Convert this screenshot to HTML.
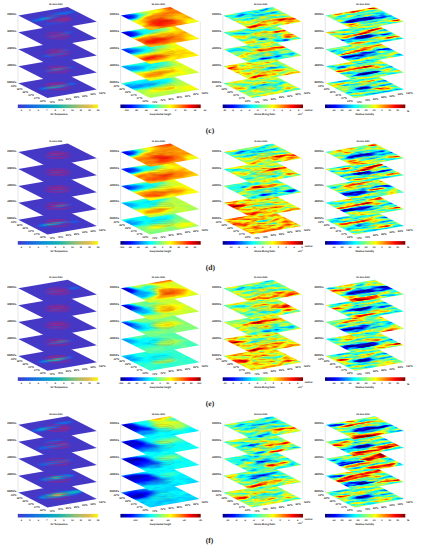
<!DOCTYPE html>
<html><head><meta charset="utf-8"><style>html,body{margin:0;padding:0;background:#fff;width:421px;height:550px;overflow:hidden;}svg{display:block;text-rendering:geometricPrecision;}</style></head>
<body><svg width="421" height="550" viewBox="0 0 421 550"><defs><clipPath id="uc"><rect x="0" y="0" width="100" height="100"/></clipPath><filter id="bo" filterUnits="userSpaceOnUse" x="-10" y="-10" width="120" height="120"><feGaussianBlur stdDeviation="2.5"/></filter><filter id="f00" filterUnits="userSpaceOnUse" x="-10" y="-10" width="120" height="120" color-interpolation-filters="sRGB"><feGaussianBlur in="SourceGraphic" stdDeviation="3" result="b"/><feTurbulence type="fractalNoise" baseFrequency="0.05 0.08" numOctaves="2" seed="1" result="n"/><feColorMatrix in="n" type="matrix" values="1 0 0 0 0 1 0 0 0 0 1 0 0 0 0 0 0 0 0 1" result="n2"/><feComposite in="b" in2="n2" operator="arithmetic" k1="0" k2="1" k3="0.05" k4="-0.025" result="s"/><feComponentTransfer in="s"><feFuncR type="table" tableValues="0.275 0.235 0.196 0.157 0.118 0.108 0.098 0.088 0.078 0.066 0.053 0.040 0.027 0.041 0.055 0.069 0.082 0.149 0.216 0.282 0.349 0.424 0.498 0.573 0.647 0.706 0.765 0.824 0.882 0.906 0.929 0.953 0.976"/><feFuncG type="table" tableValues="0.216 0.250 0.284 0.319 0.353 0.387 0.422 0.456 0.490 0.521 0.551 0.581 0.612 0.632 0.653 0.674 0.694 0.706 0.718 0.729 0.741 0.742 0.743 0.744 0.745 0.740 0.735 0.730 0.725 0.790 0.855 0.920 0.984"/><feFuncB type="table" tableValues="0.776 0.803 0.829 0.856 0.882 0.877 0.873 0.868 0.863 0.850 0.837 0.825 0.812 0.785 0.759 0.732 0.706 0.667 0.627 0.588 0.549 0.517 0.484 0.452 0.420 0.395 0.371 0.346 0.322 0.255 0.188 0.122 0.055"/></feComponentTransfer></filter><filter id="f01" filterUnits="userSpaceOnUse" x="-10" y="-10" width="120" height="120" color-interpolation-filters="sRGB"><feGaussianBlur in="SourceGraphic" stdDeviation="3" result="b"/><feTurbulence type="fractalNoise" baseFrequency="0.05 0.08" numOctaves="2" seed="4" result="n"/><feColorMatrix in="n" type="matrix" values="1 0 0 0 0 1 0 0 0 0 1 0 0 0 0 0 0 0 0 1" result="n2"/><feComposite in="b" in2="n2" operator="arithmetic" k1="0" k2="1" k3="0.05" k4="-0.025" result="s"/><feComponentTransfer in="s"><feFuncR type="table" tableValues="0.275 0.235 0.196 0.157 0.118 0.108 0.098 0.088 0.078 0.066 0.053 0.040 0.027 0.041 0.055 0.069 0.082 0.149 0.216 0.282 0.349 0.424 0.498 0.573 0.647 0.706 0.765 0.824 0.882 0.906 0.929 0.953 0.976"/><feFuncG type="table" tableValues="0.216 0.250 0.284 0.319 0.353 0.387 0.422 0.456 0.490 0.521 0.551 0.581 0.612 0.632 0.653 0.674 0.694 0.706 0.718 0.729 0.741 0.742 0.743 0.744 0.745 0.740 0.735 0.730 0.725 0.790 0.855 0.920 0.984"/><feFuncB type="table" tableValues="0.776 0.803 0.829 0.856 0.882 0.877 0.873 0.868 0.863 0.850 0.837 0.825 0.812 0.785 0.759 0.732 0.706 0.667 0.627 0.588 0.549 0.517 0.484 0.452 0.420 0.395 0.371 0.346 0.322 0.255 0.188 0.122 0.055"/></feComponentTransfer></filter><filter id="f02" filterUnits="userSpaceOnUse" x="-10" y="-10" width="120" height="120" color-interpolation-filters="sRGB"><feGaussianBlur in="SourceGraphic" stdDeviation="3" result="b"/><feTurbulence type="fractalNoise" baseFrequency="0.05 0.08" numOctaves="2" seed="7" result="n"/><feColorMatrix in="n" type="matrix" values="1 0 0 0 0 1 0 0 0 0 1 0 0 0 0 0 0 0 0 1" result="n2"/><feComposite in="b" in2="n2" operator="arithmetic" k1="0" k2="1" k3="0.05" k4="-0.025" result="s"/><feComponentTransfer in="s"><feFuncR type="table" tableValues="0.275 0.235 0.196 0.157 0.118 0.108 0.098 0.088 0.078 0.066 0.053 0.040 0.027 0.041 0.055 0.069 0.082 0.149 0.216 0.282 0.349 0.424 0.498 0.573 0.647 0.706 0.765 0.824 0.882 0.906 0.929 0.953 0.976"/><feFuncG type="table" tableValues="0.216 0.250 0.284 0.319 0.353 0.387 0.422 0.456 0.490 0.521 0.551 0.581 0.612 0.632 0.653 0.674 0.694 0.706 0.718 0.729 0.741 0.742 0.743 0.744 0.745 0.740 0.735 0.730 0.725 0.790 0.855 0.920 0.984"/><feFuncB type="table" tableValues="0.776 0.803 0.829 0.856 0.882 0.877 0.873 0.868 0.863 0.850 0.837 0.825 0.812 0.785 0.759 0.732 0.706 0.667 0.627 0.588 0.549 0.517 0.484 0.452 0.420 0.395 0.371 0.346 0.322 0.255 0.188 0.122 0.055"/></feComponentTransfer></filter><filter id="f10" filterUnits="userSpaceOnUse" x="-10" y="-10" width="120" height="120" color-interpolation-filters="sRGB"><feGaussianBlur in="SourceGraphic" stdDeviation="6" result="b"/><feTurbulence type="fractalNoise" baseFrequency="0.05 0.08" numOctaves="2" seed="8" result="n"/><feColorMatrix in="n" type="matrix" values="1 0 0 0 0 1 0 0 0 0 1 0 0 0 0 0 0 0 0 1" result="n2"/><feComposite in="b" in2="n2" operator="arithmetic" k1="0" k2="1" k3="0.1" k4="-0.05" result="s"/><feComponentTransfer in="s"><feFuncR type="table" tableValues="0.000 0.000 0.000 0.000 0.000 0.000 0.000 0.000 0.000 0.000 0.000 0.000 0.000 0.125 0.250 0.375 0.500 0.625 0.750 0.875 1.000 1.000 1.000 1.000 1.000 1.000 1.000 1.000 1.000 0.875 0.750 0.625 0.500"/><feFuncG type="table" tableValues="0.000 0.000 0.000 0.000 0.000 0.125 0.250 0.375 0.500 0.625 0.750 0.875 1.000 1.000 1.000 1.000 1.000 1.000 1.000 1.000 1.000 0.875 0.750 0.625 0.500 0.375 0.250 0.125 0.000 0.000 0.000 0.000 0.000"/><feFuncB type="table" tableValues="0.500 0.625 0.750 0.875 1.000 1.000 1.000 1.000 1.000 1.000 1.000 1.000 1.000 0.875 0.750 0.625 0.500 0.375 0.250 0.125 0.000 0.000 0.000 0.000 0.000 0.000 0.000 0.000 0.000 0.000 0.000 0.000 0.000"/></feComponentTransfer></filter><filter id="f11" filterUnits="userSpaceOnUse" x="-10" y="-10" width="120" height="120" color-interpolation-filters="sRGB"><feGaussianBlur in="SourceGraphic" stdDeviation="6" result="b"/><feTurbulence type="fractalNoise" baseFrequency="0.05 0.08" numOctaves="2" seed="11" result="n"/><feColorMatrix in="n" type="matrix" values="1 0 0 0 0 1 0 0 0 0 1 0 0 0 0 0 0 0 0 1" result="n2"/><feComposite in="b" in2="n2" operator="arithmetic" k1="0" k2="1" k3="0.1" k4="-0.05" result="s"/><feComponentTransfer in="s"><feFuncR type="table" tableValues="0.000 0.000 0.000 0.000 0.000 0.000 0.000 0.000 0.000 0.000 0.000 0.000 0.000 0.125 0.250 0.375 0.500 0.625 0.750 0.875 1.000 1.000 1.000 1.000 1.000 1.000 1.000 1.000 1.000 0.875 0.750 0.625 0.500"/><feFuncG type="table" tableValues="0.000 0.000 0.000 0.000 0.000 0.125 0.250 0.375 0.500 0.625 0.750 0.875 1.000 1.000 1.000 1.000 1.000 1.000 1.000 1.000 1.000 0.875 0.750 0.625 0.500 0.375 0.250 0.125 0.000 0.000 0.000 0.000 0.000"/><feFuncB type="table" tableValues="0.500 0.625 0.750 0.875 1.000 1.000 1.000 1.000 1.000 1.000 1.000 1.000 1.000 0.875 0.750 0.625 0.500 0.375 0.250 0.125 0.000 0.000 0.000 0.000 0.000 0.000 0.000 0.000 0.000 0.000 0.000 0.000 0.000"/></feComponentTransfer></filter><filter id="f12" filterUnits="userSpaceOnUse" x="-10" y="-10" width="120" height="120" color-interpolation-filters="sRGB"><feGaussianBlur in="SourceGraphic" stdDeviation="6" result="b"/><feTurbulence type="fractalNoise" baseFrequency="0.05 0.08" numOctaves="2" seed="14" result="n"/><feColorMatrix in="n" type="matrix" values="1 0 0 0 0 1 0 0 0 0 1 0 0 0 0 0 0 0 0 1" result="n2"/><feComposite in="b" in2="n2" operator="arithmetic" k1="0" k2="1" k3="0.1" k4="-0.05" result="s"/><feComponentTransfer in="s"><feFuncR type="table" tableValues="0.000 0.000 0.000 0.000 0.000 0.000 0.000 0.000 0.000 0.000 0.000 0.000 0.000 0.125 0.250 0.375 0.500 0.625 0.750 0.875 1.000 1.000 1.000 1.000 1.000 1.000 1.000 1.000 1.000 0.875 0.750 0.625 0.500"/><feFuncG type="table" tableValues="0.000 0.000 0.000 0.000 0.000 0.125 0.250 0.375 0.500 0.625 0.750 0.875 1.000 1.000 1.000 1.000 1.000 1.000 1.000 1.000 1.000 0.875 0.750 0.625 0.500 0.375 0.250 0.125 0.000 0.000 0.000 0.000 0.000"/><feFuncB type="table" tableValues="0.500 0.625 0.750 0.875 1.000 1.000 1.000 1.000 1.000 1.000 1.000 1.000 1.000 0.875 0.750 0.625 0.500 0.375 0.250 0.125 0.000 0.000 0.000 0.000 0.000 0.000 0.000 0.000 0.000 0.000 0.000 0.000 0.000"/></feComponentTransfer></filter><filter id="f20" filterUnits="userSpaceOnUse" x="-10" y="-10" width="120" height="120" color-interpolation-filters="sRGB"><feGaussianBlur in="SourceGraphic" stdDeviation="3" result="b"/><feTurbulence type="fractalNoise" baseFrequency="0.05 0.08" numOctaves="2" seed="15" result="n"/><feColorMatrix in="n" type="matrix" values="1 0 0 0 0 1 0 0 0 0 1 0 0 0 0 0 0 0 0 1" result="n2"/><feComposite in="b" in2="n2" operator="arithmetic" k1="0" k2="1" k3="0.6" k4="-0.3" result="s"/><feComponentTransfer in="s"><feFuncR type="table" tableValues="0.000 0.000 0.000 0.000 0.000 0.000 0.000 0.000 0.000 0.000 0.000 0.000 0.000 0.125 0.250 0.375 0.500 0.625 0.750 0.875 1.000 1.000 1.000 1.000 1.000 1.000 1.000 1.000 1.000 0.875 0.750 0.625 0.500"/><feFuncG type="table" tableValues="0.000 0.000 0.000 0.000 0.000 0.125 0.250 0.375 0.500 0.625 0.750 0.875 1.000 1.000 1.000 1.000 1.000 1.000 1.000 1.000 1.000 0.875 0.750 0.625 0.500 0.375 0.250 0.125 0.000 0.000 0.000 0.000 0.000"/><feFuncB type="table" tableValues="0.500 0.625 0.750 0.875 1.000 1.000 1.000 1.000 1.000 1.000 1.000 1.000 1.000 0.875 0.750 0.625 0.500 0.375 0.250 0.125 0.000 0.000 0.000 0.000 0.000 0.000 0.000 0.000 0.000 0.000 0.000 0.000 0.000"/></feComponentTransfer></filter><filter id="f21" filterUnits="userSpaceOnUse" x="-10" y="-10" width="120" height="120" color-interpolation-filters="sRGB"><feGaussianBlur in="SourceGraphic" stdDeviation="3" result="b"/><feTurbulence type="fractalNoise" baseFrequency="0.05 0.08" numOctaves="2" seed="18" result="n"/><feColorMatrix in="n" type="matrix" values="1 0 0 0 0 1 0 0 0 0 1 0 0 0 0 0 0 0 0 1" result="n2"/><feComposite in="b" in2="n2" operator="arithmetic" k1="0" k2="1" k3="0.6" k4="-0.3" result="s"/><feComponentTransfer in="s"><feFuncR type="table" tableValues="0.000 0.000 0.000 0.000 0.000 0.000 0.000 0.000 0.000 0.000 0.000 0.000 0.000 0.125 0.250 0.375 0.500 0.625 0.750 0.875 1.000 1.000 1.000 1.000 1.000 1.000 1.000 1.000 1.000 0.875 0.750 0.625 0.500"/><feFuncG type="table" tableValues="0.000 0.000 0.000 0.000 0.000 0.125 0.250 0.375 0.500 0.625 0.750 0.875 1.000 1.000 1.000 1.000 1.000 1.000 1.000 1.000 1.000 0.875 0.750 0.625 0.500 0.375 0.250 0.125 0.000 0.000 0.000 0.000 0.000"/><feFuncB type="table" tableValues="0.500 0.625 0.750 0.875 1.000 1.000 1.000 1.000 1.000 1.000 1.000 1.000 1.000 0.875 0.750 0.625 0.500 0.375 0.250 0.125 0.000 0.000 0.000 0.000 0.000 0.000 0.000 0.000 0.000 0.000 0.000 0.000 0.000"/></feComponentTransfer></filter><filter id="f22" filterUnits="userSpaceOnUse" x="-10" y="-10" width="120" height="120" color-interpolation-filters="sRGB"><feGaussianBlur in="SourceGraphic" stdDeviation="3" result="b"/><feTurbulence type="fractalNoise" baseFrequency="0.05 0.08" numOctaves="2" seed="21" result="n"/><feColorMatrix in="n" type="matrix" values="1 0 0 0 0 1 0 0 0 0 1 0 0 0 0 0 0 0 0 1" result="n2"/><feComposite in="b" in2="n2" operator="arithmetic" k1="0" k2="1" k3="0.6" k4="-0.3" result="s"/><feComponentTransfer in="s"><feFuncR type="table" tableValues="0.000 0.000 0.000 0.000 0.000 0.000 0.000 0.000 0.000 0.000 0.000 0.000 0.000 0.125 0.250 0.375 0.500 0.625 0.750 0.875 1.000 1.000 1.000 1.000 1.000 1.000 1.000 1.000 1.000 0.875 0.750 0.625 0.500"/><feFuncG type="table" tableValues="0.000 0.000 0.000 0.000 0.000 0.125 0.250 0.375 0.500 0.625 0.750 0.875 1.000 1.000 1.000 1.000 1.000 1.000 1.000 1.000 1.000 0.875 0.750 0.625 0.500 0.375 0.250 0.125 0.000 0.000 0.000 0.000 0.000"/><feFuncB type="table" tableValues="0.500 0.625 0.750 0.875 1.000 1.000 1.000 1.000 1.000 1.000 1.000 1.000 1.000 0.875 0.750 0.625 0.500 0.375 0.250 0.125 0.000 0.000 0.000 0.000 0.000 0.000 0.000 0.000 0.000 0.000 0.000 0.000 0.000"/></feComponentTransfer></filter><filter id="f30" filterUnits="userSpaceOnUse" x="-10" y="-10" width="120" height="120" color-interpolation-filters="sRGB"><feGaussianBlur in="SourceGraphic" stdDeviation="3" result="b"/><feTurbulence type="fractalNoise" baseFrequency="0.035 0.09" numOctaves="2" seed="22" result="n"/><feColorMatrix in="n" type="matrix" values="1 0 0 0 0 1 0 0 0 0 1 0 0 0 0 0 0 0 0 1" result="n2"/><feComposite in="b" in2="n2" operator="arithmetic" k1="0" k2="1" k3="0.8" k4="-0.4" result="s"/><feComponentTransfer in="s"><feFuncR type="table" tableValues="0.000 0.000 0.000 0.000 0.000 0.000 0.000 0.000 0.000 0.000 0.000 0.000 0.000 0.125 0.250 0.375 0.500 0.625 0.750 0.875 1.000 1.000 1.000 1.000 1.000 1.000 1.000 1.000 1.000 0.875 0.750 0.625 0.500"/><feFuncG type="table" tableValues="0.000 0.000 0.000 0.000 0.000 0.125 0.250 0.375 0.500 0.625 0.750 0.875 1.000 1.000 1.000 1.000 1.000 1.000 1.000 1.000 1.000 0.875 0.750 0.625 0.500 0.375 0.250 0.125 0.000 0.000 0.000 0.000 0.000"/><feFuncB type="table" tableValues="0.500 0.625 0.750 0.875 1.000 1.000 1.000 1.000 1.000 1.000 1.000 1.000 1.000 0.875 0.750 0.625 0.500 0.375 0.250 0.125 0.000 0.000 0.000 0.000 0.000 0.000 0.000 0.000 0.000 0.000 0.000 0.000 0.000"/></feComponentTransfer></filter><filter id="f31" filterUnits="userSpaceOnUse" x="-10" y="-10" width="120" height="120" color-interpolation-filters="sRGB"><feGaussianBlur in="SourceGraphic" stdDeviation="3" result="b"/><feTurbulence type="fractalNoise" baseFrequency="0.035 0.09" numOctaves="2" seed="25" result="n"/><feColorMatrix in="n" type="matrix" values="1 0 0 0 0 1 0 0 0 0 1 0 0 0 0 0 0 0 0 1" result="n2"/><feComposite in="b" in2="n2" operator="arithmetic" k1="0" k2="1" k3="0.8" k4="-0.4" result="s"/><feComponentTransfer in="s"><feFuncR type="table" tableValues="0.000 0.000 0.000 0.000 0.000 0.000 0.000 0.000 0.000 0.000 0.000 0.000 0.000 0.125 0.250 0.375 0.500 0.625 0.750 0.875 1.000 1.000 1.000 1.000 1.000 1.000 1.000 1.000 1.000 0.875 0.750 0.625 0.500"/><feFuncG type="table" tableValues="0.000 0.000 0.000 0.000 0.000 0.125 0.250 0.375 0.500 0.625 0.750 0.875 1.000 1.000 1.000 1.000 1.000 1.000 1.000 1.000 1.000 0.875 0.750 0.625 0.500 0.375 0.250 0.125 0.000 0.000 0.000 0.000 0.000"/><feFuncB type="table" tableValues="0.500 0.625 0.750 0.875 1.000 1.000 1.000 1.000 1.000 1.000 1.000 1.000 1.000 0.875 0.750 0.625 0.500 0.375 0.250 0.125 0.000 0.000 0.000 0.000 0.000 0.000 0.000 0.000 0.000 0.000 0.000 0.000 0.000"/></feComponentTransfer></filter><filter id="f32" filterUnits="userSpaceOnUse" x="-10" y="-10" width="120" height="120" color-interpolation-filters="sRGB"><feGaussianBlur in="SourceGraphic" stdDeviation="3" result="b"/><feTurbulence type="fractalNoise" baseFrequency="0.035 0.09" numOctaves="2" seed="28" result="n"/><feColorMatrix in="n" type="matrix" values="1 0 0 0 0 1 0 0 0 0 1 0 0 0 0 0 0 0 0 1" result="n2"/><feComposite in="b" in2="n2" operator="arithmetic" k1="0" k2="1" k3="0.8" k4="-0.4" result="s"/><feComponentTransfer in="s"><feFuncR type="table" tableValues="0.000 0.000 0.000 0.000 0.000 0.000 0.000 0.000 0.000 0.000 0.000 0.000 0.000 0.125 0.250 0.375 0.500 0.625 0.750 0.875 1.000 1.000 1.000 1.000 1.000 1.000 1.000 1.000 1.000 0.875 0.750 0.625 0.500"/><feFuncG type="table" tableValues="0.000 0.000 0.000 0.000 0.000 0.125 0.250 0.375 0.500 0.625 0.750 0.875 1.000 1.000 1.000 1.000 1.000 1.000 1.000 1.000 1.000 0.875 0.750 0.625 0.500 0.375 0.250 0.125 0.000 0.000 0.000 0.000 0.000"/><feFuncB type="table" tableValues="0.500 0.625 0.750 0.875 1.000 1.000 1.000 1.000 1.000 1.000 1.000 1.000 1.000 0.875 0.750 0.625 0.500 0.375 0.250 0.125 0.000 0.000 0.000 0.000 0.000 0.000 0.000 0.000 0.000 0.000 0.000 0.000 0.000"/></feComponentTransfer></filter><linearGradient id="par"><stop offset="0.0" stop-color="rgb(70, 55, 198)"/><stop offset="0.125" stop-color="rgb(30, 90, 225)"/><stop offset="0.25" stop-color="rgb(20, 125, 220)"/><stop offset="0.375" stop-color="rgb(7, 156, 207)"/><stop offset="0.5" stop-color="rgb(21, 177, 180)"/><stop offset="0.625" stop-color="rgb(89, 189, 140)"/><stop offset="0.75" stop-color="rgb(165, 190, 107)"/><stop offset="0.875" stop-color="rgb(225, 185, 82)"/><stop offset="1.0" stop-color="rgb(249, 251, 14)"/></linearGradient><linearGradient id="jet"><stop offset="0.0000" stop-color="rgb(0,0,127)"/><stop offset="0.0625" stop-color="rgb(0,0,191)"/><stop offset="0.1250" stop-color="rgb(0,0,255)"/><stop offset="0.1875" stop-color="rgb(0,63,255)"/><stop offset="0.2500" stop-color="rgb(0,127,255)"/><stop offset="0.3125" stop-color="rgb(0,191,255)"/><stop offset="0.3750" stop-color="rgb(0,255,255)"/><stop offset="0.4375" stop-color="rgb(63,255,191)"/><stop offset="0.5000" stop-color="rgb(127,255,127)"/><stop offset="0.5625" stop-color="rgb(191,255,63)"/><stop offset="0.6250" stop-color="rgb(255,255,0)"/><stop offset="0.6875" stop-color="rgb(255,191,0)"/><stop offset="0.7500" stop-color="rgb(255,127,0)"/><stop offset="0.8125" stop-color="rgb(255,63,0)"/><stop offset="0.8750" stop-color="rgb(255,0,0)"/><stop offset="0.9375" stop-color="rgb(191,0,0)"/><stop offset="1.0000" stop-color="rgb(127,0,0)"/></linearGradient></defs><line x1="18.00" y1="15.40" x2="18.00" y2="83.20" stroke="#c8c8c8" stroke-width="0.5"/><line x1="97.70" y1="21.70" x2="97.70" y2="89.50" stroke="#d0d0d0" stroke-width="0.5"/><g transform="matrix(0.4940,-0.0850,0.2910,0.1480,18.30,83.20)"><g clip-path="url(#uc)"><g filter="url(#f01)"><rect x="-15" y="-15" width="130" height="130" fill="#000000"/><ellipse cx="45.5" cy="50.2" rx="32" ry="8" fill="#404040"/><ellipse cx="45.5" cy="50.2" rx="18" ry="6" fill="#878787"/><ellipse cx="74.7" cy="49.3" rx="13" ry="6" fill="#303030"/></g><g filter="url(#bo)"><ellipse cx="51.5" cy="40.0" rx="20" ry="12" fill="#b02070" fill-opacity="0.35"/></g></g></g><path transform="translate(18.30,83.60)" d="M 26.5,2.6 C 28,-0.2 36,-1 42,-0.6 C 48,-0.3 52.5,1.2 52,3.2 C 51.5,5.2 45,6.6 38,6.3 C 31,6 26,4.8 26.5,2.6 Z M 30,1.3 C 37,0.8 44,1.2 50,2.2 M 28.5,3.4 C 36,3 44,3.2 51,3.8 M 31,5.1 C 37,4.9 43,5.1 48,5.3" fill="none" stroke="#b82070" stroke-width="0.75" stroke-opacity="0.6"/><g transform="matrix(0.4940,-0.0850,0.2910,0.1480,18.30,66.25)"><g clip-path="url(#uc)"><g filter="url(#f00)"><rect x="-15" y="-15" width="130" height="130" fill="#000000"/><ellipse cx="51.9" cy="49.8" rx="27" ry="7" fill="#383838"/><ellipse cx="50.4" cy="48.9" rx="9" ry="5" fill="#737373"/></g><g filter="url(#bo)"><ellipse cx="53.7" cy="46.7" rx="18" ry="10" fill="#b02070" fill-opacity="0.4"/></g></g></g><path transform="translate(18.30,66.65)" d="M 26.5,2.6 C 28,-0.2 36,-1 42,-0.6 C 48,-0.3 52.5,1.2 52,3.2 C 51.5,5.2 45,6.6 38,6.3 C 31,6 26,4.8 26.5,2.6 Z M 30,1.3 C 37,0.8 44,1.2 50,2.2 M 28.5,3.4 C 36,3 44,3.2 51,3.8 M 31,5.1 C 37,4.9 43,5.1 48,5.3" fill="none" stroke="#b82070" stroke-width="0.75" stroke-opacity="0.6"/><g transform="matrix(0.4940,-0.0850,0.2910,0.1480,18.30,49.30)"><g clip-path="url(#uc)"><g filter="url(#f02)"><rect x="-15" y="-15" width="130" height="130" fill="#000000"/><ellipse cx="40.7" cy="58.3" rx="25" ry="7" fill="#2e2e2e"/><ellipse cx="64.9" cy="44.9" rx="11" ry="6" fill="#262626"/></g><g filter="url(#bo)"><ellipse cx="51.6" cy="46.8" rx="16" ry="9" fill="#b02070" fill-opacity="0.45"/></g></g></g><path transform="translate(18.30,49.70)" d="M 26.5,2.6 C 28,-0.2 36,-1 42,-0.6 C 48,-0.3 52.5,1.2 52,3.2 C 51.5,5.2 45,6.6 38,6.3 C 31,6 26,4.8 26.5,2.6 Z M 30,1.3 C 37,0.8 44,1.2 50,2.2 M 28.5,3.4 C 36,3 44,3.2 51,3.8 M 31,5.1 C 37,4.9 43,5.1 48,5.3" fill="none" stroke="#b82070" stroke-width="0.75" stroke-opacity="0.6"/><g transform="matrix(0.4940,-0.0850,0.2910,0.1480,18.30,32.35)"><g clip-path="url(#uc)"><g filter="url(#f01)"><rect x="-15" y="-15" width="130" height="130" fill="#000000"/><ellipse cx="50.7" cy="51.7" rx="23" ry="6" fill="#262626"/><ellipse cx="69.8" cy="43.6" rx="13" ry="6" fill="#262626"/></g><g filter="url(#bo)"><ellipse cx="51.9" cy="49.7" rx="16" ry="9" fill="#b02070" fill-opacity="0.45"/></g></g></g><path transform="translate(18.30,32.75)" d="M 26.5,2.6 C 28,-0.2 36,-1 42,-0.6 C 48,-0.3 52.5,1.2 52,3.2 C 51.5,5.2 45,6.6 38,6.3 C 31,6 26,4.8 26.5,2.6 Z M 30,1.3 C 37,0.8 44,1.2 50,2.2 M 28.5,3.4 C 36,3 44,3.2 51,3.8 M 31,5.1 C 37,4.9 43,5.1 48,5.3" fill="none" stroke="#b82070" stroke-width="0.75" stroke-opacity="0.6"/><g transform="matrix(0.4940,-0.0850,0.2910,0.1480,18.30,15.40)"><g clip-path="url(#uc)"><g filter="url(#f00)"><rect x="-15" y="-15" width="130" height="130" fill="#000000"/><ellipse cx="29.4" cy="39.4" rx="29" ry="7" fill="#333333" transform="rotate(-4 29.4 39.4)"/><ellipse cx="72.5" cy="28.7" rx="27" ry="7" fill="#2e2e2e"/><ellipse cx="34.2" cy="69.4" rx="23" ry="6" fill="#1a1a1a"/><ellipse cx="31.5" cy="39.2" rx="10" ry="5" fill="#666666"/></g><g filter="url(#bo)"><ellipse cx="56.0" cy="60.1" rx="16" ry="10" fill="#b02070" fill-opacity="0.45"/></g></g></g><path transform="translate(18.30,15.80)" d="M 26.5,2.6 C 28,-0.2 36,-1 42,-0.6 C 48,-0.3 52.5,1.2 52,3.2 C 51.5,5.2 45,6.6 38,6.3 C 31,6 26,4.8 26.5,2.6 Z M 30,1.3 C 37,0.8 44,1.2 50,2.2 M 28.5,3.4 C 36,3 44,3.2 51,3.8 M 31,5.1 C 37,4.9 43,5.1 48,5.3" fill="none" stroke="#b82070" stroke-width="0.75" stroke-opacity="0.6"/><rect x="17.80" y="104.50" width="80.30" height="3.6" fill="url(#par)"/><text x="55.80" y="5.10" fill="#3a3a3a" stroke="#3a3a3a" stroke-width="0.1" font-family="Liberation Sans" font-size="2.2" text-anchor="middle">30 June 2020</text><text x="16.30" y="15.00" fill="#3a3a3a" stroke="#3a3a3a" stroke-width="0.1" font-family="Liberation Sans" font-size="2.65" text-anchor="end">200hPa</text><text x="16.30" y="31.95" fill="#3a3a3a" stroke="#3a3a3a" stroke-width="0.1" font-family="Liberation Sans" font-size="2.65" text-anchor="end">300hPa</text><text x="16.30" y="48.90" fill="#3a3a3a" stroke="#3a3a3a" stroke-width="0.1" font-family="Liberation Sans" font-size="2.65" text-anchor="end">400hPa</text><text x="16.30" y="65.85" fill="#3a3a3a" stroke="#3a3a3a" stroke-width="0.1" font-family="Liberation Sans" font-size="2.65" text-anchor="end">450hPa</text><text x="16.30" y="82.80" fill="#3a3a3a" stroke="#3a3a3a" stroke-width="0.1" font-family="Liberation Sans" font-size="2.65" text-anchor="end">500hPa</text><text x="16.40" y="86.70" fill="#3a3a3a" stroke="#3a3a3a" stroke-width="0.1" font-family="Liberation Sans" font-size="2.5" text-anchor="end">43°N</text><text x="22.22" y="89.66" fill="#3a3a3a" stroke="#3a3a3a" stroke-width="0.1" font-family="Liberation Sans" font-size="2.5" text-anchor="end">39°N</text><text x="28.04" y="92.62" fill="#3a3a3a" stroke="#3a3a3a" stroke-width="0.1" font-family="Liberation Sans" font-size="2.5" text-anchor="end">35°N</text><text x="33.86" y="95.58" fill="#3a3a3a" stroke="#3a3a3a" stroke-width="0.1" font-family="Liberation Sans" font-size="2.5" text-anchor="end">31°N</text><text x="39.68" y="98.54" fill="#3a3a3a" stroke="#3a3a3a" stroke-width="0.1" font-family="Liberation Sans" font-size="2.5" text-anchor="end">27°N</text><text x="45.50" y="101.50" fill="#3a3a3a" stroke="#3a3a3a" stroke-width="0.1" font-family="Liberation Sans" font-size="2.5" text-anchor="end">23°N</text><text x="49.40" y="102.50" fill="#3a3a3a" stroke="#3a3a3a" stroke-width="0.1" font-family="Liberation Sans" font-size="2.5">70°E</text><text x="57.63" y="101.08" fill="#3a3a3a" stroke="#3a3a3a" stroke-width="0.1" font-family="Liberation Sans" font-size="2.5">75°E</text><text x="65.87" y="99.67" fill="#3a3a3a" stroke="#3a3a3a" stroke-width="0.1" font-family="Liberation Sans" font-size="2.5">80°E</text><text x="74.10" y="98.25" fill="#3a3a3a" stroke="#3a3a3a" stroke-width="0.1" font-family="Liberation Sans" font-size="2.5">85°E</text><text x="82.33" y="96.83" fill="#3a3a3a" stroke="#3a3a3a" stroke-width="0.1" font-family="Liberation Sans" font-size="2.5">90°E</text><text x="90.57" y="95.42" fill="#3a3a3a" stroke="#3a3a3a" stroke-width="0.1" font-family="Liberation Sans" font-size="2.5">95°E</text><text x="98.80" y="94.00" fill="#3a3a3a" stroke="#3a3a3a" stroke-width="0.1" font-family="Liberation Sans" font-size="2.5">100°E</text><text x="21.40" y="111.10" fill="#3a3a3a" stroke="#3a3a3a" stroke-width="0.1" font-family="Liberation Sans" font-size="2.2" text-anchor="middle">4</text><text x="29.90" y="111.10" fill="#3a3a3a" stroke="#3a3a3a" stroke-width="0.1" font-family="Liberation Sans" font-size="2.2" text-anchor="middle">5</text><text x="38.40" y="111.10" fill="#3a3a3a" stroke="#3a3a3a" stroke-width="0.1" font-family="Liberation Sans" font-size="2.2" text-anchor="middle">6</text><text x="46.90" y="111.10" fill="#3a3a3a" stroke="#3a3a3a" stroke-width="0.1" font-family="Liberation Sans" font-size="2.2" text-anchor="middle">7</text><text x="55.40" y="111.10" fill="#3a3a3a" stroke="#3a3a3a" stroke-width="0.1" font-family="Liberation Sans" font-size="2.2" text-anchor="middle">8</text><text x="63.90" y="111.10" fill="#3a3a3a" stroke="#3a3a3a" stroke-width="0.1" font-family="Liberation Sans" font-size="2.2" text-anchor="middle">9</text><text x="72.40" y="111.10" fill="#3a3a3a" stroke="#3a3a3a" stroke-width="0.1" font-family="Liberation Sans" font-size="2.2" text-anchor="middle">10</text><text x="80.90" y="111.10" fill="#3a3a3a" stroke="#3a3a3a" stroke-width="0.1" font-family="Liberation Sans" font-size="2.2" text-anchor="middle">11</text><text x="89.40" y="111.10" fill="#3a3a3a" stroke="#3a3a3a" stroke-width="0.1" font-family="Liberation Sans" font-size="2.2" text-anchor="middle">12</text><text x="97.90" y="111.10" fill="#3a3a3a" stroke="#3a3a3a" stroke-width="0.1" font-family="Liberation Sans" font-size="2.2" text-anchor="middle">13</text><text x="59.10" y="115.20" fill="#3a3a3a" stroke="#3a3a3a" stroke-width="0.1" font-family="Liberation Sans" font-size="2.4" text-anchor="middle">Air Temperature</text><line x1="120.60" y1="15.40" x2="120.60" y2="83.20" stroke="#c8c8c8" stroke-width="0.5"/><line x1="200.30" y1="21.70" x2="200.30" y2="89.50" stroke="#d0d0d0" stroke-width="0.5"/><g transform="matrix(0.4940,-0.0850,0.2910,0.1480,120.90,83.20)"><g clip-path="url(#uc)"><g filter="url(#f11)"><rect x="-15" y="-15" width="130" height="130" fill="#8c8c8c"/><ellipse cx="33.7" cy="23.0" rx="58" ry="25" fill="#5e5e5e"/><ellipse cx="20.4" cy="31.7" rx="35" ry="14" fill="#454545"/><ellipse cx="0.3" cy="24.3" rx="18" ry="20" fill="#454545"/><ellipse cx="91.9" cy="83.7" rx="20" ry="18" fill="#9e9e9e"/><ellipse cx="40.1" cy="67.6" rx="24" ry="14" fill="#9e9e9e"/><ellipse cx="58.7" cy="67.4" rx="16" ry="10" fill="#adadad"/></g></g></g><path transform="translate(122.40,83.60)" d="M 26.5,2.6 C 28,-0.2 36,-1 42,-0.6 C 48,-0.3 52.5,1.2 52,3.2 C 51.5,5.2 45,6.6 38,6.3 C 31,6 26,4.8 26.5,2.6 Z M 30,1.3 C 37,0.8 44,1.2 50,2.2 M 28.5,3.4 C 36,3 44,3.2 51,3.8 M 31,5.1 C 37,4.9 43,5.1 48,5.3" fill="none" stroke="#7a4030" stroke-width="0.35" stroke-opacity="0.45"/><g transform="matrix(0.4940,-0.0850,0.2910,0.1480,120.90,66.25)"><g clip-path="url(#uc)"><g filter="url(#f10)"><rect x="-15" y="-15" width="130" height="130" fill="#999999"/><ellipse cx="32.8" cy="21.1" rx="52" ry="24" fill="#5e5e5e"/><ellipse cx="48.7" cy="67.0" rx="28" ry="14" fill="#adadad"/><ellipse cx="24.1" cy="70.6" rx="24" ry="14" fill="#bfbfbf"/><ellipse cx="13.1" cy="23.4" rx="22" ry="15" fill="#454545"/><ellipse cx="3.2" cy="10.9" rx="14" ry="22" fill="#454545"/><ellipse cx="69.1" cy="32.3" rx="22" ry="10" fill="#707070"/></g></g></g><path transform="translate(122.40,66.65)" d="M 26.5,2.6 C 28,-0.2 36,-1 42,-0.6 C 48,-0.3 52.5,1.2 52,3.2 C 51.5,5.2 45,6.6 38,6.3 C 31,6 26,4.8 26.5,2.6 Z M 30,1.3 C 37,0.8 44,1.2 50,2.2 M 28.5,3.4 C 36,3 44,3.2 51,3.8 M 31,5.1 C 37,4.9 43,5.1 48,5.3" fill="none" stroke="#7a4030" stroke-width="0.35" stroke-opacity="0.45"/><g transform="matrix(0.4940,-0.0850,0.2910,0.1480,120.90,49.30)"><g clip-path="url(#uc)"><g filter="url(#f12)"><rect x="-15" y="-15" width="130" height="130" fill="#a3a3a3"/><ellipse cx="32.2" cy="22.0" rx="48" ry="20" fill="#5e5e5e"/><ellipse cx="30.5" cy="70.1" rx="35" ry="15" fill="#bfbfbf"/><ellipse cx="15.2" cy="16.3" rx="18" ry="22" fill="#454545"/><ellipse cx="70.3" cy="68.4" rx="22" ry="14" fill="#adadad"/><ellipse cx="18.9" cy="69.0" rx="24" ry="12" fill="#d9d9d9"/><ellipse cx="1.1" cy="12.4" rx="12" ry="22" fill="#262626"/><ellipse cx="70.3" cy="30.3" rx="25" ry="10" fill="#8f8f8f"/></g></g></g><path transform="translate(122.40,49.70)" d="M 26.5,2.6 C 28,-0.2 36,-1 42,-0.6 C 48,-0.3 52.5,1.2 52,3.2 C 51.5,5.2 45,6.6 38,6.3 C 31,6 26,4.8 26.5,2.6 Z M 30,1.3 C 37,0.8 44,1.2 50,2.2 M 28.5,3.4 C 36,3 44,3.2 51,3.8 M 31,5.1 C 37,4.9 43,5.1 48,5.3" fill="none" stroke="#7a4030" stroke-width="0.35" stroke-opacity="0.45"/><g transform="matrix(0.4940,-0.0850,0.2910,0.1480,120.90,32.35)"><g clip-path="url(#uc)"><g filter="url(#f11)"><rect x="-15" y="-15" width="130" height="130" fill="#b0b0b0"/><ellipse cx="35.3" cy="16.9" rx="42" ry="18" fill="#5e5e5e"/><ellipse cx="60.0" cy="72.0" rx="28" ry="20" fill="#bfbfbf"/><ellipse cx="18.0" cy="60.2" rx="25" ry="20" fill="#bfbfbf"/><ellipse cx="28.1" cy="74.2" rx="28" ry="16" fill="#d9d9d9"/><ellipse cx="12.5" cy="16.1" rx="14" ry="22" fill="#262626"/><ellipse cx="-0.3" cy="12.8" rx="12" ry="25" fill="#0f0f0f"/><ellipse cx="93.9" cy="87.4" rx="15" ry="15" fill="#9e9e9e"/><ellipse cx="67.8" cy="20.6" rx="22" ry="10" fill="#707070"/><ellipse cx="75.2" cy="35.8" rx="20" ry="10" fill="#9e9e9e"/></g></g></g><path transform="translate(122.40,32.75)" d="M 26.5,2.6 C 28,-0.2 36,-1 42,-0.6 C 48,-0.3 52.5,1.2 52,3.2 C 51.5,5.2 45,6.6 38,6.3 C 31,6 26,4.8 26.5,2.6 Z M 30,1.3 C 37,0.8 44,1.2 50,2.2 M 28.5,3.4 C 36,3 44,3.2 51,3.8 M 31,5.1 C 37,4.9 43,5.1 48,5.3" fill="none" stroke="#7a4030" stroke-width="0.35" stroke-opacity="0.45"/><g transform="matrix(0.4940,-0.0850,0.2910,0.1480,120.90,15.40)"><g clip-path="url(#uc)"><g filter="url(#f10)"><rect x="-15" y="-15" width="130" height="130" fill="#bfbfbf"/><ellipse cx="40.0" cy="71.4" rx="28" ry="22" fill="#d9d9d9"/><ellipse cx="-1.2" cy="54.5" rx="20" ry="18" fill="#9e9e9e"/><ellipse cx="0.9" cy="9.4" rx="12" ry="25" fill="#0f0f0f"/><ellipse cx="82.1" cy="58.8" rx="20" ry="15" fill="#adadad"/><ellipse cx="90.3" cy="93.5" rx="18" ry="16" fill="#9e9e9e"/><ellipse cx="31.6" cy="9.3" rx="18" ry="15" fill="#5e5e5e"/><ellipse cx="13.4" cy="12.4" rx="12" ry="22" fill="#262626"/><ellipse cx="3.3" cy="88.5" rx="18" ry="12" fill="#adadad"/><ellipse cx="66.6" cy="8.9" rx="20" ry="10" fill="#9e9e9e"/><ellipse cx="51.3" cy="7.0" rx="18" ry="10" fill="#8f8f8f"/><ellipse cx="95.7" cy="1.1" rx="14" ry="8" fill="#d9d9d9"/></g></g></g><path transform="translate(122.40,15.80)" d="M 26.5,2.6 C 28,-0.2 36,-1 42,-0.6 C 48,-0.3 52.5,1.2 52,3.2 C 51.5,5.2 45,6.6 38,6.3 C 31,6 26,4.8 26.5,2.6 Z M 30,1.3 C 37,0.8 44,1.2 50,2.2 M 28.5,3.4 C 36,3 44,3.2 51,3.8 M 31,5.1 C 37,4.9 43,5.1 48,5.3" fill="none" stroke="#7a4030" stroke-width="0.35" stroke-opacity="0.45"/><rect x="120.40" y="104.50" width="80.30" height="3.6" fill="url(#jet)"/><text x="158.40" y="5.10" fill="#3a3a3a" stroke="#3a3a3a" stroke-width="0.1" font-family="Liberation Sans" font-size="2.2" text-anchor="middle">30 June 2020</text><text x="118.90" y="15.00" fill="#3a3a3a" stroke="#3a3a3a" stroke-width="0.1" font-family="Liberation Sans" font-size="2.65" text-anchor="end">200hPa</text><text x="118.90" y="31.95" fill="#3a3a3a" stroke="#3a3a3a" stroke-width="0.1" font-family="Liberation Sans" font-size="2.65" text-anchor="end">300hPa</text><text x="118.90" y="48.90" fill="#3a3a3a" stroke="#3a3a3a" stroke-width="0.1" font-family="Liberation Sans" font-size="2.65" text-anchor="end">400hPa</text><text x="118.90" y="65.85" fill="#3a3a3a" stroke="#3a3a3a" stroke-width="0.1" font-family="Liberation Sans" font-size="2.65" text-anchor="end">450hPa</text><text x="118.90" y="82.80" fill="#3a3a3a" stroke="#3a3a3a" stroke-width="0.1" font-family="Liberation Sans" font-size="2.65" text-anchor="end">500hPa</text><text x="119.00" y="86.70" fill="#3a3a3a" stroke="#3a3a3a" stroke-width="0.1" font-family="Liberation Sans" font-size="2.5" text-anchor="end">43°N</text><text x="124.82" y="89.66" fill="#3a3a3a" stroke="#3a3a3a" stroke-width="0.1" font-family="Liberation Sans" font-size="2.5" text-anchor="end">39°N</text><text x="130.64" y="92.62" fill="#3a3a3a" stroke="#3a3a3a" stroke-width="0.1" font-family="Liberation Sans" font-size="2.5" text-anchor="end">35°N</text><text x="136.46" y="95.58" fill="#3a3a3a" stroke="#3a3a3a" stroke-width="0.1" font-family="Liberation Sans" font-size="2.5" text-anchor="end">31°N</text><text x="142.28" y="98.54" fill="#3a3a3a" stroke="#3a3a3a" stroke-width="0.1" font-family="Liberation Sans" font-size="2.5" text-anchor="end">27°N</text><text x="148.10" y="101.50" fill="#3a3a3a" stroke="#3a3a3a" stroke-width="0.1" font-family="Liberation Sans" font-size="2.5" text-anchor="end">23°N</text><text x="152.00" y="102.50" fill="#3a3a3a" stroke="#3a3a3a" stroke-width="0.1" font-family="Liberation Sans" font-size="2.5">70°E</text><text x="160.23" y="101.08" fill="#3a3a3a" stroke="#3a3a3a" stroke-width="0.1" font-family="Liberation Sans" font-size="2.5">75°E</text><text x="168.47" y="99.67" fill="#3a3a3a" stroke="#3a3a3a" stroke-width="0.1" font-family="Liberation Sans" font-size="2.5">80°E</text><text x="176.70" y="98.25" fill="#3a3a3a" stroke="#3a3a3a" stroke-width="0.1" font-family="Liberation Sans" font-size="2.5">85°E</text><text x="184.93" y="96.83" fill="#3a3a3a" stroke="#3a3a3a" stroke-width="0.1" font-family="Liberation Sans" font-size="2.5">90°E</text><text x="193.17" y="95.42" fill="#3a3a3a" stroke="#3a3a3a" stroke-width="0.1" font-family="Liberation Sans" font-size="2.5">95°E</text><text x="201.40" y="94.00" fill="#3a3a3a" stroke="#3a3a3a" stroke-width="0.1" font-family="Liberation Sans" font-size="2.5">100°E</text><text x="126.50" y="111.10" fill="#3a3a3a" stroke="#3a3a3a" stroke-width="0.1" font-family="Liberation Sans" font-size="2.2" text-anchor="middle">-100</text><text x="136.30" y="111.10" fill="#3a3a3a" stroke="#3a3a3a" stroke-width="0.1" font-family="Liberation Sans" font-size="2.2" text-anchor="middle">-80</text><text x="146.10" y="111.10" fill="#3a3a3a" stroke="#3a3a3a" stroke-width="0.1" font-family="Liberation Sans" font-size="2.2" text-anchor="middle">-60</text><text x="155.90" y="111.10" fill="#3a3a3a" stroke="#3a3a3a" stroke-width="0.1" font-family="Liberation Sans" font-size="2.2" text-anchor="middle">-40</text><text x="165.70" y="111.10" fill="#3a3a3a" stroke="#3a3a3a" stroke-width="0.1" font-family="Liberation Sans" font-size="2.2" text-anchor="middle">-20</text><text x="175.50" y="111.10" fill="#3a3a3a" stroke="#3a3a3a" stroke-width="0.1" font-family="Liberation Sans" font-size="2.2" text-anchor="middle">0</text><text x="185.30" y="111.10" fill="#3a3a3a" stroke="#3a3a3a" stroke-width="0.1" font-family="Liberation Sans" font-size="2.2" text-anchor="middle">20</text><text x="195.10" y="111.10" fill="#3a3a3a" stroke="#3a3a3a" stroke-width="0.1" font-family="Liberation Sans" font-size="2.2" text-anchor="middle">40</text><text x="204.90" y="111.10" fill="#3a3a3a" stroke="#3a3a3a" stroke-width="0.1" font-family="Liberation Sans" font-size="2.2" text-anchor="middle">60</text><text x="160.40" y="115.20" fill="#3a3a3a" stroke="#3a3a3a" stroke-width="0.1" font-family="Liberation Sans" font-size="2.4" text-anchor="middle">Geopotential Height</text><line x1="222.90" y1="15.40" x2="222.90" y2="83.20" stroke="#c8c8c8" stroke-width="0.5"/><line x1="302.60" y1="21.70" x2="302.60" y2="89.50" stroke="#d0d0d0" stroke-width="0.5"/><g transform="matrix(0.4940,-0.0850,0.2910,0.1480,223.20,83.20)"><g clip-path="url(#uc)"><g filter="url(#f21)"><rect x="-15" y="-15" width="130" height="130" fill="#878787"/><ellipse cx="63.8" cy="47.1" rx="40" ry="8" fill="#616161"/><ellipse cx="-0.4" cy="41.6" rx="20" ry="6" fill="#c2c2c2"/><ellipse cx="88.4" cy="81.7" rx="15" ry="6" fill="#a1a1a1"/></g></g></g><path transform="translate(224.70,83.60)" d="M 26.5,2.6 C 28,-0.2 36,-1 42,-0.6 C 48,-0.3 52.5,1.2 52,3.2 C 51.5,5.2 45,6.6 38,6.3 C 31,6 26,4.8 26.5,2.6 Z M 30,1.3 C 37,0.8 44,1.2 50,2.2 M 28.5,3.4 C 36,3 44,3.2 51,3.8 M 31,5.1 C 37,4.9 43,5.1 48,5.3" fill="none" stroke="#7a4030" stroke-width="0.35" stroke-opacity="0.45"/><g transform="matrix(0.4940,-0.0850,0.2910,0.1480,223.20,66.25)"><g clip-path="url(#uc)"><g filter="url(#f20)"><rect x="-15" y="-15" width="130" height="130" fill="#949494"/><ellipse cx="49.1" cy="23.6" rx="30" ry="6" fill="#a1a1a1"/><ellipse cx="70.6" cy="49.6" rx="25" ry="6" fill="#545454"/><ellipse cx="34.0" cy="80.4" rx="25" ry="5" fill="#dbdbdb"/><ellipse cx="8.3" cy="16.5" rx="18" ry="6" fill="#dbdbdb"/><ellipse cx="86.0" cy="78.9" rx="15" ry="6" fill="#a1a1a1"/><ellipse cx="14.4" cy="65.1" rx="12" ry="5" fill="#c2c2c2"/></g></g></g><path transform="translate(224.70,66.65)" d="M 26.5,2.6 C 28,-0.2 36,-1 42,-0.6 C 48,-0.3 52.5,1.2 52,3.2 C 51.5,5.2 45,6.6 38,6.3 C 31,6 26,4.8 26.5,2.6 Z M 30,1.3 C 37,0.8 44,1.2 50,2.2 M 28.5,3.4 C 36,3 44,3.2 51,3.8 M 31,5.1 C 37,4.9 43,5.1 48,5.3" fill="none" stroke="#7a4030" stroke-width="0.35" stroke-opacity="0.45"/><g transform="matrix(0.4940,-0.0850,0.2910,0.1480,223.20,49.30)"><g clip-path="url(#uc)"><g filter="url(#f22)"><rect x="-15" y="-15" width="130" height="130" fill="#828282"/><ellipse cx="77.2" cy="38.3" rx="30" ry="6" fill="#dbdbdb"/><ellipse cx="13.2" cy="15.2" rx="20" ry="8" fill="#545454"/><ellipse cx="27.4" cy="46.6" rx="25" ry="6" fill="#a1a1a1"/><ellipse cx="47.1" cy="82.4" rx="25" ry="6" fill="#0d0d0d"/><ellipse cx="85.4" cy="79.9" rx="15" ry="6" fill="#616161"/></g></g></g><path transform="translate(224.70,49.70)" d="M 26.5,2.6 C 28,-0.2 36,-1 42,-0.6 C 48,-0.3 52.5,1.2 52,3.2 C 51.5,5.2 45,6.6 38,6.3 C 31,6 26,4.8 26.5,2.6 Z M 30,1.3 C 37,0.8 44,1.2 50,2.2 M 28.5,3.4 C 36,3 44,3.2 51,3.8 M 31,5.1 C 37,4.9 43,5.1 48,5.3" fill="none" stroke="#7a4030" stroke-width="0.35" stroke-opacity="0.45"/><g transform="matrix(0.4940,-0.0850,0.2910,0.1480,223.20,32.35)"><g clip-path="url(#uc)"><g filter="url(#f21)"><rect x="-15" y="-15" width="130" height="130" fill="#878787"/><ellipse cx="45.4" cy="15.9" rx="50" ry="14" fill="#666666"/><ellipse cx="92.1" cy="75.5" rx="18" ry="9" fill="#c2c2c2"/><ellipse cx="51.7" cy="40.0" rx="22" ry="6" fill="#b0b0b0"/><ellipse cx="90.1" cy="44.3" rx="14" ry="7" fill="#dbdbdb"/><ellipse cx="11.0" cy="39.8" rx="15" ry="6" fill="#a1a1a1"/><ellipse cx="37.0" cy="68.4" rx="12" ry="5" fill="#262626"/><ellipse cx="64.6" cy="91.0" rx="15" ry="4" fill="#0d0d0d"/><ellipse cx="11.2" cy="74.0" rx="12" ry="4" fill="#dbdbdb"/></g></g></g><path transform="translate(224.70,32.75)" d="M 26.5,2.6 C 28,-0.2 36,-1 42,-0.6 C 48,-0.3 52.5,1.2 52,3.2 C 51.5,5.2 45,6.6 38,6.3 C 31,6 26,4.8 26.5,2.6 Z M 30,1.3 C 37,0.8 44,1.2 50,2.2 M 28.5,3.4 C 36,3 44,3.2 51,3.8 M 31,5.1 C 37,4.9 43,5.1 48,5.3" fill="none" stroke="#7a4030" stroke-width="0.35" stroke-opacity="0.45"/><g transform="matrix(0.4940,-0.0850,0.2910,0.1480,223.20,15.40)"><g clip-path="url(#uc)"><g filter="url(#f20)"><rect x="-15" y="-15" width="130" height="130" fill="#8c8c8c"/><ellipse cx="38.9" cy="27.1" rx="55" ry="16" fill="#666666"/><ellipse cx="78.8" cy="77.3" rx="35" ry="12" fill="#c2c2c2"/><ellipse cx="41.8" cy="8.3" rx="45" ry="8" fill="#525252"/><ellipse cx="21.3" cy="81.1" rx="42" ry="8" fill="#c2c2c2"/><ellipse cx="86.7" cy="77.7" rx="20" ry="8" fill="#dbdbdb"/><ellipse cx="54.4" cy="70.1" rx="20" ry="8" fill="#a1a1a1"/><ellipse cx="14.9" cy="67.9" rx="15" ry="5" fill="#a1a1a1"/></g></g></g><path transform="translate(224.70,15.80)" d="M 26.5,2.6 C 28,-0.2 36,-1 42,-0.6 C 48,-0.3 52.5,1.2 52,3.2 C 51.5,5.2 45,6.6 38,6.3 C 31,6 26,4.8 26.5,2.6 Z M 30,1.3 C 37,0.8 44,1.2 50,2.2 M 28.5,3.4 C 36,3 44,3.2 51,3.8 M 31,5.1 C 37,4.9 43,5.1 48,5.3" fill="none" stroke="#7a4030" stroke-width="0.35" stroke-opacity="0.45"/><rect x="222.70" y="104.50" width="80.30" height="3.6" fill="url(#jet)"/><text x="260.70" y="5.10" fill="#3a3a3a" stroke="#3a3a3a" stroke-width="0.1" font-family="Liberation Sans" font-size="2.2" text-anchor="middle">30 June 2020</text><text x="221.20" y="15.00" fill="#3a3a3a" stroke="#3a3a3a" stroke-width="0.1" font-family="Liberation Sans" font-size="2.65" text-anchor="end">200hPa</text><text x="221.20" y="31.95" fill="#3a3a3a" stroke="#3a3a3a" stroke-width="0.1" font-family="Liberation Sans" font-size="2.65" text-anchor="end">300hPa</text><text x="221.20" y="48.90" fill="#3a3a3a" stroke="#3a3a3a" stroke-width="0.1" font-family="Liberation Sans" font-size="2.65" text-anchor="end">400hPa</text><text x="221.20" y="65.85" fill="#3a3a3a" stroke="#3a3a3a" stroke-width="0.1" font-family="Liberation Sans" font-size="2.65" text-anchor="end">450hPa</text><text x="221.20" y="82.80" fill="#3a3a3a" stroke="#3a3a3a" stroke-width="0.1" font-family="Liberation Sans" font-size="2.65" text-anchor="end">500hPa</text><text x="221.30" y="86.70" fill="#3a3a3a" stroke="#3a3a3a" stroke-width="0.1" font-family="Liberation Sans" font-size="2.5" text-anchor="end">43°N</text><text x="227.12" y="89.66" fill="#3a3a3a" stroke="#3a3a3a" stroke-width="0.1" font-family="Liberation Sans" font-size="2.5" text-anchor="end">39°N</text><text x="232.94" y="92.62" fill="#3a3a3a" stroke="#3a3a3a" stroke-width="0.1" font-family="Liberation Sans" font-size="2.5" text-anchor="end">35°N</text><text x="238.76" y="95.58" fill="#3a3a3a" stroke="#3a3a3a" stroke-width="0.1" font-family="Liberation Sans" font-size="2.5" text-anchor="end">31°N</text><text x="244.58" y="98.54" fill="#3a3a3a" stroke="#3a3a3a" stroke-width="0.1" font-family="Liberation Sans" font-size="2.5" text-anchor="end">27°N</text><text x="250.40" y="101.50" fill="#3a3a3a" stroke="#3a3a3a" stroke-width="0.1" font-family="Liberation Sans" font-size="2.5" text-anchor="end">23°N</text><text x="254.30" y="102.50" fill="#3a3a3a" stroke="#3a3a3a" stroke-width="0.1" font-family="Liberation Sans" font-size="2.5">70°E</text><text x="262.53" y="101.08" fill="#3a3a3a" stroke="#3a3a3a" stroke-width="0.1" font-family="Liberation Sans" font-size="2.5">75°E</text><text x="270.77" y="99.67" fill="#3a3a3a" stroke="#3a3a3a" stroke-width="0.1" font-family="Liberation Sans" font-size="2.5">80°E</text><text x="279.00" y="98.25" fill="#3a3a3a" stroke="#3a3a3a" stroke-width="0.1" font-family="Liberation Sans" font-size="2.5">85°E</text><text x="287.23" y="96.83" fill="#3a3a3a" stroke="#3a3a3a" stroke-width="0.1" font-family="Liberation Sans" font-size="2.5">90°E</text><text x="295.47" y="95.42" fill="#3a3a3a" stroke="#3a3a3a" stroke-width="0.1" font-family="Liberation Sans" font-size="2.5">95°E</text><text x="303.70" y="94.00" fill="#3a3a3a" stroke="#3a3a3a" stroke-width="0.1" font-family="Liberation Sans" font-size="2.5">100°E</text><text x="224.50" y="111.10" fill="#3a3a3a" stroke="#3a3a3a" stroke-width="0.1" font-family="Liberation Sans" font-size="2.2" text-anchor="middle">-10</text><text x="232.73" y="111.10" fill="#3a3a3a" stroke="#3a3a3a" stroke-width="0.1" font-family="Liberation Sans" font-size="2.2" text-anchor="middle">-8</text><text x="240.96" y="111.10" fill="#3a3a3a" stroke="#3a3a3a" stroke-width="0.1" font-family="Liberation Sans" font-size="2.2" text-anchor="middle">-6</text><text x="249.19" y="111.10" fill="#3a3a3a" stroke="#3a3a3a" stroke-width="0.1" font-family="Liberation Sans" font-size="2.2" text-anchor="middle">-4</text><text x="257.42" y="111.10" fill="#3a3a3a" stroke="#3a3a3a" stroke-width="0.1" font-family="Liberation Sans" font-size="2.2" text-anchor="middle">-2</text><text x="265.65" y="111.10" fill="#3a3a3a" stroke="#3a3a3a" stroke-width="0.1" font-family="Liberation Sans" font-size="2.2" text-anchor="middle">0</text><text x="273.88" y="111.10" fill="#3a3a3a" stroke="#3a3a3a" stroke-width="0.1" font-family="Liberation Sans" font-size="2.2" text-anchor="middle">2</text><text x="282.11" y="111.10" fill="#3a3a3a" stroke="#3a3a3a" stroke-width="0.1" font-family="Liberation Sans" font-size="2.2" text-anchor="middle">4</text><text x="290.34" y="111.10" fill="#3a3a3a" stroke="#3a3a3a" stroke-width="0.1" font-family="Liberation Sans" font-size="2.2" text-anchor="middle">6</text><text x="298.57" y="111.10" fill="#3a3a3a" stroke="#3a3a3a" stroke-width="0.1" font-family="Liberation Sans" font-size="2.2" text-anchor="middle">8</text><text x="264.60" y="115.20" fill="#3a3a3a" stroke="#3a3a3a" stroke-width="0.1" font-family="Liberation Sans" font-size="2.4" text-anchor="middle">Ozone Mixing Ratio</text><text x="304.70" y="110.60" fill="#3a3a3a" stroke="#3a3a3a" stroke-width="0.1" font-family="Liberation Sans" font-size="2.2">mol/mol</text><text x="297.70" y="115.00" fill="#3a3a3a" stroke="#3a3a3a" stroke-width="0.1" font-family="Liberation Sans" font-size="2.2">×10<tspan dy="-1" font-size="1.6">-7</tspan></text><line x1="325.20" y1="15.40" x2="325.20" y2="83.20" stroke="#c8c8c8" stroke-width="0.5"/><line x1="404.90" y1="21.70" x2="404.90" y2="89.50" stroke="#d0d0d0" stroke-width="0.5"/><g transform="matrix(0.4940,-0.0850,0.2910,0.1480,325.50,83.20)"><g clip-path="url(#uc)"><g filter="url(#f31)"><rect x="-15" y="-15" width="130" height="130" fill="#737373"/><ellipse cx="59.0" cy="26.6" rx="25" ry="6" fill="#a1a1a1"/><ellipse cx="26.7" cy="57.2" rx="20" ry="6" fill="#262626"/><ellipse cx="11.5" cy="17.1" rx="15" ry="6" fill="#dbdbdb"/><ellipse cx="73.0" cy="75.6" rx="15" ry="6" fill="#c2c2c2"/><ellipse cx="46.7" cy="57.8" rx="12" ry="5" fill="#0d0d0d"/></g></g></g><path transform="translate(327.00,83.60)" d="M 26.5,2.6 C 28,-0.2 36,-1 42,-0.6 C 48,-0.3 52.5,1.2 52,3.2 C 51.5,5.2 45,6.6 38,6.3 C 31,6 26,4.8 26.5,2.6 Z M 30,1.3 C 37,0.8 44,1.2 50,2.2 M 28.5,3.4 C 36,3 44,3.2 51,3.8 M 31,5.1 C 37,4.9 43,5.1 48,5.3" fill="none" stroke="#7a4030" stroke-width="0.35" stroke-opacity="0.45"/><g transform="matrix(0.4940,-0.0850,0.2910,0.1480,325.50,66.25)"><g clip-path="url(#uc)"><g filter="url(#f30)"><rect x="-15" y="-15" width="130" height="130" fill="#7a7a7a"/><ellipse cx="38.4" cy="72.0" rx="35" ry="8" fill="#0d0d0d"/><ellipse cx="36.6" cy="36.9" rx="45" ry="6" fill="#dbdbdb"/><ellipse cx="79.4" cy="68.3" rx="15" ry="6" fill="#a1a1a1"/><ellipse cx="22.8" cy="22.1" rx="15" ry="5" fill="#262626"/></g></g></g><path transform="translate(327.00,66.65)" d="M 26.5,2.6 C 28,-0.2 36,-1 42,-0.6 C 48,-0.3 52.5,1.2 52,3.2 C 51.5,5.2 45,6.6 38,6.3 C 31,6 26,4.8 26.5,2.6 Z M 30,1.3 C 37,0.8 44,1.2 50,2.2 M 28.5,3.4 C 36,3 44,3.2 51,3.8 M 31,5.1 C 37,4.9 43,5.1 48,5.3" fill="none" stroke="#7a4030" stroke-width="0.35" stroke-opacity="0.45"/><g transform="matrix(0.4940,-0.0850,0.2910,0.1480,325.50,49.30)"><g clip-path="url(#uc)"><g filter="url(#f32)"><rect x="-15" y="-15" width="130" height="130" fill="#787878"/><ellipse cx="29.8" cy="58.8" rx="40" ry="8" fill="#0d0d0d"/><ellipse cx="49.1" cy="33.1" rx="48" ry="6" fill="#dbdbdb" transform="rotate(-12 49.1 33.1)"/><ellipse cx="26.8" cy="32.6" rx="15" ry="6" fill="#a1a1a1"/><ellipse cx="87.5" cy="51.0" rx="15" ry="5" fill="#262626"/><ellipse cx="77.1" cy="79.2" rx="15" ry="5" fill="#8f8f8f"/></g></g></g><path transform="translate(327.00,49.70)" d="M 26.5,2.6 C 28,-0.2 36,-1 42,-0.6 C 48,-0.3 52.5,1.2 52,3.2 C 51.5,5.2 45,6.6 38,6.3 C 31,6 26,4.8 26.5,2.6 Z M 30,1.3 C 37,0.8 44,1.2 50,2.2 M 28.5,3.4 C 36,3 44,3.2 51,3.8 M 31,5.1 C 37,4.9 43,5.1 48,5.3" fill="none" stroke="#7a4030" stroke-width="0.35" stroke-opacity="0.45"/><g transform="matrix(0.4940,-0.0850,0.2910,0.1480,325.50,32.35)"><g clip-path="url(#uc)"><g filter="url(#f31)"><rect x="-15" y="-15" width="130" height="130" fill="#7a7a7a"/><ellipse cx="32.2" cy="54.7" rx="42" ry="9" fill="#0d0d0d"/><ellipse cx="53.1" cy="36.7" rx="50" ry="6" fill="#dbdbdb" transform="rotate(-12 53.1 36.7)"/><ellipse cx="16.9" cy="84.1" rx="25" ry="6" fill="#a1a1a1"/><ellipse cx="88.1" cy="81.3" rx="18" ry="6" fill="#c2c2c2"/><ellipse cx="14.8" cy="7.9" rx="15" ry="6" fill="#c2c2c2"/><ellipse cx="4.3" cy="22.3" rx="15" ry="6" fill="#8f8f8f"/><ellipse cx="84.9" cy="65.9" rx="10" ry="4" fill="#262626"/></g></g></g><path transform="translate(327.00,32.75)" d="M 26.5,2.6 C 28,-0.2 36,-1 42,-0.6 C 48,-0.3 52.5,1.2 52,3.2 C 51.5,5.2 45,6.6 38,6.3 C 31,6 26,4.8 26.5,2.6 Z M 30,1.3 C 37,0.8 44,1.2 50,2.2 M 28.5,3.4 C 36,3 44,3.2 51,3.8 M 31,5.1 C 37,4.9 43,5.1 48,5.3" fill="none" stroke="#7a4030" stroke-width="0.35" stroke-opacity="0.45"/><g transform="matrix(0.4940,-0.0850,0.2910,0.1480,325.50,15.40)"><g clip-path="url(#uc)"><g filter="url(#f30)"><rect x="-15" y="-15" width="130" height="130" fill="#7a7a7a"/><ellipse cx="13.2" cy="69.6" rx="40" ry="14" fill="#8f8f8f"/><ellipse cx="50.5" cy="51.5" rx="42" ry="11" fill="#0d0d0d"/><ellipse cx="64.1" cy="7.5" rx="18" ry="6" fill="#dbdbdb"/><ellipse cx="17.0" cy="7.7" rx="14" ry="6" fill="#c2c2c2"/><ellipse cx="96.2" cy="32.7" rx="15" ry="5" fill="#262626"/><ellipse cx="90.2" cy="74.3" rx="12" ry="6" fill="#616161"/><ellipse cx="89.4" cy="87.5" rx="12" ry="6" fill="#c2c2c2"/><ellipse cx="91.4" cy="2.7" rx="8" ry="6" fill="#dbdbdb"/><ellipse cx="18.6" cy="22.3" rx="12" ry="4" fill="#545454"/></g></g></g><path transform="translate(327.00,15.80)" d="M 26.5,2.6 C 28,-0.2 36,-1 42,-0.6 C 48,-0.3 52.5,1.2 52,3.2 C 51.5,5.2 45,6.6 38,6.3 C 31,6 26,4.8 26.5,2.6 Z M 30,1.3 C 37,0.8 44,1.2 50,2.2 M 28.5,3.4 C 36,3 44,3.2 51,3.8 M 31,5.1 C 37,4.9 43,5.1 48,5.3" fill="none" stroke="#7a4030" stroke-width="0.35" stroke-opacity="0.45"/><rect x="325.00" y="104.50" width="80.30" height="3.6" fill="url(#jet)"/><text x="363.00" y="5.10" fill="#3a3a3a" stroke="#3a3a3a" stroke-width="0.1" font-family="Liberation Sans" font-size="2.2" text-anchor="middle">30 June 2020</text><text x="323.50" y="15.00" fill="#3a3a3a" stroke="#3a3a3a" stroke-width="0.1" font-family="Liberation Sans" font-size="2.65" text-anchor="end">200hPa</text><text x="323.50" y="31.95" fill="#3a3a3a" stroke="#3a3a3a" stroke-width="0.1" font-family="Liberation Sans" font-size="2.65" text-anchor="end">300hPa</text><text x="323.50" y="48.90" fill="#3a3a3a" stroke="#3a3a3a" stroke-width="0.1" font-family="Liberation Sans" font-size="2.65" text-anchor="end">400hPa</text><text x="323.50" y="65.85" fill="#3a3a3a" stroke="#3a3a3a" stroke-width="0.1" font-family="Liberation Sans" font-size="2.65" text-anchor="end">450hPa</text><text x="323.50" y="82.80" fill="#3a3a3a" stroke="#3a3a3a" stroke-width="0.1" font-family="Liberation Sans" font-size="2.65" text-anchor="end">500hPa</text><text x="323.60" y="86.70" fill="#3a3a3a" stroke="#3a3a3a" stroke-width="0.1" font-family="Liberation Sans" font-size="2.5" text-anchor="end">43°N</text><text x="329.42" y="89.66" fill="#3a3a3a" stroke="#3a3a3a" stroke-width="0.1" font-family="Liberation Sans" font-size="2.5" text-anchor="end">39°N</text><text x="335.24" y="92.62" fill="#3a3a3a" stroke="#3a3a3a" stroke-width="0.1" font-family="Liberation Sans" font-size="2.5" text-anchor="end">35°N</text><text x="341.06" y="95.58" fill="#3a3a3a" stroke="#3a3a3a" stroke-width="0.1" font-family="Liberation Sans" font-size="2.5" text-anchor="end">31°N</text><text x="346.88" y="98.54" fill="#3a3a3a" stroke="#3a3a3a" stroke-width="0.1" font-family="Liberation Sans" font-size="2.5" text-anchor="end">27°N</text><text x="352.70" y="101.50" fill="#3a3a3a" stroke="#3a3a3a" stroke-width="0.1" font-family="Liberation Sans" font-size="2.5" text-anchor="end">23°N</text><text x="356.60" y="102.50" fill="#3a3a3a" stroke="#3a3a3a" stroke-width="0.1" font-family="Liberation Sans" font-size="2.5">70°E</text><text x="364.83" y="101.08" fill="#3a3a3a" stroke="#3a3a3a" stroke-width="0.1" font-family="Liberation Sans" font-size="2.5">75°E</text><text x="373.07" y="99.67" fill="#3a3a3a" stroke="#3a3a3a" stroke-width="0.1" font-family="Liberation Sans" font-size="2.5">80°E</text><text x="381.30" y="98.25" fill="#3a3a3a" stroke="#3a3a3a" stroke-width="0.1" font-family="Liberation Sans" font-size="2.5">85°E</text><text x="389.53" y="96.83" fill="#3a3a3a" stroke="#3a3a3a" stroke-width="0.1" font-family="Liberation Sans" font-size="2.5">90°E</text><text x="397.77" y="95.42" fill="#3a3a3a" stroke="#3a3a3a" stroke-width="0.1" font-family="Liberation Sans" font-size="2.5">95°E</text><text x="406.00" y="94.00" fill="#3a3a3a" stroke="#3a3a3a" stroke-width="0.1" font-family="Liberation Sans" font-size="2.5">100°E</text><text x="333.80" y="111.10" fill="#3a3a3a" stroke="#3a3a3a" stroke-width="0.1" font-family="Liberation Sans" font-size="2.2" text-anchor="middle">-60</text><text x="341.80" y="111.10" fill="#3a3a3a" stroke="#3a3a3a" stroke-width="0.1" font-family="Liberation Sans" font-size="2.2" text-anchor="middle">-50</text><text x="349.80" y="111.10" fill="#3a3a3a" stroke="#3a3a3a" stroke-width="0.1" font-family="Liberation Sans" font-size="2.2" text-anchor="middle">-40</text><text x="357.80" y="111.10" fill="#3a3a3a" stroke="#3a3a3a" stroke-width="0.1" font-family="Liberation Sans" font-size="2.2" text-anchor="middle">-30</text><text x="365.80" y="111.10" fill="#3a3a3a" stroke="#3a3a3a" stroke-width="0.1" font-family="Liberation Sans" font-size="2.2" text-anchor="middle">-20</text><text x="373.80" y="111.10" fill="#3a3a3a" stroke="#3a3a3a" stroke-width="0.1" font-family="Liberation Sans" font-size="2.2" text-anchor="middle">-10</text><text x="381.80" y="111.10" fill="#3a3a3a" stroke="#3a3a3a" stroke-width="0.1" font-family="Liberation Sans" font-size="2.2" text-anchor="middle">0</text><text x="389.80" y="111.10" fill="#3a3a3a" stroke="#3a3a3a" stroke-width="0.1" font-family="Liberation Sans" font-size="2.2" text-anchor="middle">10</text><text x="397.80" y="111.10" fill="#3a3a3a" stroke="#3a3a3a" stroke-width="0.1" font-family="Liberation Sans" font-size="2.2" text-anchor="middle">20</text><text x="364.70" y="115.20" fill="#3a3a3a" stroke="#3a3a3a" stroke-width="0.1" font-family="Liberation Sans" font-size="2.4" text-anchor="middle">Relative Humidity</text><text x="407.00" y="111.70" fill="#3a3a3a" stroke="#3a3a3a" stroke-width="0.1" font-family="Liberation Sans" font-size="2.4">%</text><line x1="18.00" y1="152.00" x2="18.00" y2="219.80" stroke="#c8c8c8" stroke-width="0.5"/><line x1="97.70" y1="158.30" x2="97.70" y2="226.10" stroke="#d0d0d0" stroke-width="0.5"/><g transform="matrix(0.4940,-0.0850,0.2910,0.1480,18.30,219.80)"><g clip-path="url(#uc)"><g filter="url(#f01)"><rect x="-15" y="-15" width="130" height="130" fill="#000000"/><ellipse cx="41.2" cy="50.5" rx="32" ry="8" fill="#404040"/><ellipse cx="39.7" cy="49.6" rx="18" ry="6" fill="#8f8f8f"/><ellipse cx="77.8" cy="57.8" rx="11" ry="6" fill="#262626"/></g><g filter="url(#bo)"><ellipse cx="52.1" cy="39.0" rx="20" ry="10" fill="#b02070" fill-opacity="0.35"/></g></g></g><path transform="translate(18.30,220.20)" d="M 26.5,2.6 C 28,-0.2 36,-1 42,-0.6 C 48,-0.3 52.5,1.2 52,3.2 C 51.5,5.2 45,6.6 38,6.3 C 31,6 26,4.8 26.5,2.6 Z M 30,1.3 C 37,0.8 44,1.2 50,2.2 M 28.5,3.4 C 36,3 44,3.2 51,3.8 M 31,5.1 C 37,4.9 43,5.1 48,5.3" fill="none" stroke="#b82070" stroke-width="0.75" stroke-opacity="0.6"/><g transform="matrix(0.4940,-0.0850,0.2910,0.1480,18.30,202.85)"><g clip-path="url(#uc)"><g filter="url(#f00)"><rect x="-15" y="-15" width="130" height="130" fill="#000000"/><ellipse cx="57.1" cy="51.4" rx="18" ry="7" fill="#383838"/><ellipse cx="54.3" cy="52.5" rx="8" ry="5" fill="#787878"/></g><g filter="url(#bo)"><ellipse cx="51.0" cy="47.8" rx="18" ry="10" fill="#b02070" fill-opacity="0.4"/></g></g></g><path transform="translate(18.30,203.25)" d="M 26.5,2.6 C 28,-0.2 36,-1 42,-0.6 C 48,-0.3 52.5,1.2 52,3.2 C 51.5,5.2 45,6.6 38,6.3 C 31,6 26,4.8 26.5,2.6 Z M 30,1.3 C 37,0.8 44,1.2 50,2.2 M 28.5,3.4 C 36,3 44,3.2 51,3.8 M 31,5.1 C 37,4.9 43,5.1 48,5.3" fill="none" stroke="#b82070" stroke-width="0.75" stroke-opacity="0.6"/><g transform="matrix(0.4940,-0.0850,0.2910,0.1480,18.30,185.90)"><g clip-path="url(#uc)"><g filter="url(#f02)"><rect x="-15" y="-15" width="130" height="130" fill="#000000"/><ellipse cx="48.6" cy="58.7" rx="13" ry="5" fill="#1f1f1f"/></g><g filter="url(#bo)"><ellipse cx="51.6" cy="46.8" rx="16" ry="10" fill="#b02070" fill-opacity="0.45"/></g></g></g><path transform="translate(18.30,186.30)" d="M 26.5,2.6 C 28,-0.2 36,-1 42,-0.6 C 48,-0.3 52.5,1.2 52,3.2 C 51.5,5.2 45,6.6 38,6.3 C 31,6 26,4.8 26.5,2.6 Z M 30,1.3 C 37,0.8 44,1.2 50,2.2 M 28.5,3.4 C 36,3 44,3.2 51,3.8 M 31,5.1 C 37,4.9 43,5.1 48,5.3" fill="none" stroke="#b82070" stroke-width="0.75" stroke-opacity="0.6"/><g transform="matrix(0.4940,-0.0850,0.2910,0.1480,18.30,168.95)"><g clip-path="url(#uc)"><g filter="url(#f01)"><rect x="-15" y="-15" width="130" height="130" fill="#000000"/><ellipse cx="45.0" cy="51.1" rx="11" ry="5" fill="#1f1f1f"/></g><g filter="url(#bo)"><ellipse cx="50.4" cy="48.8" rx="16" ry="10" fill="#b02070" fill-opacity="0.45"/></g></g></g><path transform="translate(18.30,169.35)" d="M 26.5,2.6 C 28,-0.2 36,-1 42,-0.6 C 48,-0.3 52.5,1.2 52,3.2 C 51.5,5.2 45,6.6 38,6.3 C 31,6 26,4.8 26.5,2.6 Z M 30,1.3 C 37,0.8 44,1.2 50,2.2 M 28.5,3.4 C 36,3 44,3.2 51,3.8 M 31,5.1 C 37,4.9 43,5.1 48,5.3" fill="none" stroke="#b82070" stroke-width="0.75" stroke-opacity="0.6"/><g transform="matrix(0.4940,-0.0850,0.2910,0.1480,18.30,152.00)"><g clip-path="url(#uc)"><g filter="url(#f00)"><rect x="-15" y="-15" width="130" height="130" fill="#000000"/><ellipse cx="43.1" cy="47.2" rx="13" ry="5" fill="#1f1f1f"/></g><g filter="url(#bo)"><ellipse cx="52.9" cy="44.6" rx="16" ry="10" fill="#b02070" fill-opacity="0.45"/></g></g></g><path transform="translate(18.30,152.40)" d="M 26.5,2.6 C 28,-0.2 36,-1 42,-0.6 C 48,-0.3 52.5,1.2 52,3.2 C 51.5,5.2 45,6.6 38,6.3 C 31,6 26,4.8 26.5,2.6 Z M 30,1.3 C 37,0.8 44,1.2 50,2.2 M 28.5,3.4 C 36,3 44,3.2 51,3.8 M 31,5.1 C 37,4.9 43,5.1 48,5.3" fill="none" stroke="#b82070" stroke-width="0.75" stroke-opacity="0.6"/><rect x="17.80" y="241.10" width="80.30" height="3.6" fill="url(#par)"/><text x="55.80" y="141.70" fill="#3a3a3a" stroke="#3a3a3a" stroke-width="0.1" font-family="Liberation Sans" font-size="2.2" text-anchor="middle">11 June 2020</text><text x="16.30" y="151.60" fill="#3a3a3a" stroke="#3a3a3a" stroke-width="0.1" font-family="Liberation Sans" font-size="2.65" text-anchor="end">200hPa</text><text x="16.30" y="168.55" fill="#3a3a3a" stroke="#3a3a3a" stroke-width="0.1" font-family="Liberation Sans" font-size="2.65" text-anchor="end">300hPa</text><text x="16.30" y="185.50" fill="#3a3a3a" stroke="#3a3a3a" stroke-width="0.1" font-family="Liberation Sans" font-size="2.65" text-anchor="end">400hPa</text><text x="16.30" y="202.45" fill="#3a3a3a" stroke="#3a3a3a" stroke-width="0.1" font-family="Liberation Sans" font-size="2.65" text-anchor="end">450hPa</text><text x="16.30" y="219.40" fill="#3a3a3a" stroke="#3a3a3a" stroke-width="0.1" font-family="Liberation Sans" font-size="2.65" text-anchor="end">500hPa</text><text x="16.40" y="223.30" fill="#3a3a3a" stroke="#3a3a3a" stroke-width="0.1" font-family="Liberation Sans" font-size="2.5" text-anchor="end">43°N</text><text x="22.22" y="226.26" fill="#3a3a3a" stroke="#3a3a3a" stroke-width="0.1" font-family="Liberation Sans" font-size="2.5" text-anchor="end">39°N</text><text x="28.04" y="229.22" fill="#3a3a3a" stroke="#3a3a3a" stroke-width="0.1" font-family="Liberation Sans" font-size="2.5" text-anchor="end">35°N</text><text x="33.86" y="232.18" fill="#3a3a3a" stroke="#3a3a3a" stroke-width="0.1" font-family="Liberation Sans" font-size="2.5" text-anchor="end">31°N</text><text x="39.68" y="235.14" fill="#3a3a3a" stroke="#3a3a3a" stroke-width="0.1" font-family="Liberation Sans" font-size="2.5" text-anchor="end">27°N</text><text x="45.50" y="238.10" fill="#3a3a3a" stroke="#3a3a3a" stroke-width="0.1" font-family="Liberation Sans" font-size="2.5" text-anchor="end">23°N</text><text x="49.40" y="239.10" fill="#3a3a3a" stroke="#3a3a3a" stroke-width="0.1" font-family="Liberation Sans" font-size="2.5">70°E</text><text x="57.63" y="237.68" fill="#3a3a3a" stroke="#3a3a3a" stroke-width="0.1" font-family="Liberation Sans" font-size="2.5">75°E</text><text x="65.87" y="236.27" fill="#3a3a3a" stroke="#3a3a3a" stroke-width="0.1" font-family="Liberation Sans" font-size="2.5">80°E</text><text x="74.10" y="234.85" fill="#3a3a3a" stroke="#3a3a3a" stroke-width="0.1" font-family="Liberation Sans" font-size="2.5">85°E</text><text x="82.33" y="233.43" fill="#3a3a3a" stroke="#3a3a3a" stroke-width="0.1" font-family="Liberation Sans" font-size="2.5">90°E</text><text x="90.57" y="232.02" fill="#3a3a3a" stroke="#3a3a3a" stroke-width="0.1" font-family="Liberation Sans" font-size="2.5">95°E</text><text x="98.80" y="230.60" fill="#3a3a3a" stroke="#3a3a3a" stroke-width="0.1" font-family="Liberation Sans" font-size="2.5">100°E</text><text x="21.40" y="247.70" fill="#3a3a3a" stroke="#3a3a3a" stroke-width="0.1" font-family="Liberation Sans" font-size="2.2" text-anchor="middle">4</text><text x="29.90" y="247.70" fill="#3a3a3a" stroke="#3a3a3a" stroke-width="0.1" font-family="Liberation Sans" font-size="2.2" text-anchor="middle">5</text><text x="38.40" y="247.70" fill="#3a3a3a" stroke="#3a3a3a" stroke-width="0.1" font-family="Liberation Sans" font-size="2.2" text-anchor="middle">6</text><text x="46.90" y="247.70" fill="#3a3a3a" stroke="#3a3a3a" stroke-width="0.1" font-family="Liberation Sans" font-size="2.2" text-anchor="middle">7</text><text x="55.40" y="247.70" fill="#3a3a3a" stroke="#3a3a3a" stroke-width="0.1" font-family="Liberation Sans" font-size="2.2" text-anchor="middle">8</text><text x="63.90" y="247.70" fill="#3a3a3a" stroke="#3a3a3a" stroke-width="0.1" font-family="Liberation Sans" font-size="2.2" text-anchor="middle">9</text><text x="72.40" y="247.70" fill="#3a3a3a" stroke="#3a3a3a" stroke-width="0.1" font-family="Liberation Sans" font-size="2.2" text-anchor="middle">10</text><text x="80.90" y="247.70" fill="#3a3a3a" stroke="#3a3a3a" stroke-width="0.1" font-family="Liberation Sans" font-size="2.2" text-anchor="middle">11</text><text x="89.40" y="247.70" fill="#3a3a3a" stroke="#3a3a3a" stroke-width="0.1" font-family="Liberation Sans" font-size="2.2" text-anchor="middle">12</text><text x="97.90" y="247.70" fill="#3a3a3a" stroke="#3a3a3a" stroke-width="0.1" font-family="Liberation Sans" font-size="2.2" text-anchor="middle">13</text><text x="59.10" y="251.80" fill="#3a3a3a" stroke="#3a3a3a" stroke-width="0.1" font-family="Liberation Sans" font-size="2.4" text-anchor="middle">Air Temperature</text><line x1="120.60" y1="152.00" x2="120.60" y2="219.80" stroke="#c8c8c8" stroke-width="0.5"/><line x1="200.30" y1="158.30" x2="200.30" y2="226.10" stroke="#d0d0d0" stroke-width="0.5"/><g transform="matrix(0.4940,-0.0850,0.2910,0.1480,120.90,219.80)"><g clip-path="url(#uc)"><g filter="url(#f11)"><rect x="-15" y="-15" width="130" height="130" fill="#808080"/><ellipse cx="32.5" cy="25.0" rx="60" ry="25" fill="#5e5e5e"/><ellipse cx="81.6" cy="80.5" rx="22" ry="15" fill="#9e9e9e"/><ellipse cx="3.6" cy="22.1" rx="18" ry="18" fill="#454545"/><ellipse cx="35.9" cy="67.9" rx="20" ry="12" fill="#9e9e9e"/></g></g></g><path transform="translate(122.40,220.20)" d="M 26.5,2.6 C 28,-0.2 36,-1 42,-0.6 C 48,-0.3 52.5,1.2 52,3.2 C 51.5,5.2 45,6.6 38,6.3 C 31,6 26,4.8 26.5,2.6 Z M 30,1.3 C 37,0.8 44,1.2 50,2.2 M 28.5,3.4 C 36,3 44,3.2 51,3.8 M 31,5.1 C 37,4.9 43,5.1 48,5.3" fill="none" stroke="#7a4030" stroke-width="0.35" stroke-opacity="0.45"/><g transform="matrix(0.4940,-0.0850,0.2910,0.1480,120.90,202.85)"><g clip-path="url(#uc)"><g filter="url(#f10)"><rect x="-15" y="-15" width="130" height="130" fill="#8f8f8f"/><ellipse cx="31.6" cy="23.1" rx="52" ry="24" fill="#5e5e5e"/><ellipse cx="32.0" cy="71.0" rx="24" ry="12" fill="#bfbfbf"/><ellipse cx="2.7" cy="13.3" rx="14" ry="20" fill="#454545"/><ellipse cx="72.8" cy="39.9" rx="22" ry="12" fill="#8f8f8f"/><ellipse cx="18.3" cy="70.0" rx="18" ry="12" fill="#bfbfbf"/></g></g></g><path transform="translate(122.40,203.25)" d="M 26.5,2.6 C 28,-0.2 36,-1 42,-0.6 C 48,-0.3 52.5,1.2 52,3.2 C 51.5,5.2 45,6.6 38,6.3 C 31,6 26,4.8 26.5,2.6 Z M 30,1.3 C 37,0.8 44,1.2 50,2.2 M 28.5,3.4 C 36,3 44,3.2 51,3.8 M 31,5.1 C 37,4.9 43,5.1 48,5.3" fill="none" stroke="#7a4030" stroke-width="0.35" stroke-opacity="0.45"/><g transform="matrix(0.4940,-0.0850,0.2910,0.1480,120.90,185.90)"><g clip-path="url(#uc)"><g filter="url(#f12)"><rect x="-15" y="-15" width="130" height="130" fill="#9e9e9e"/><ellipse cx="32.2" cy="22.0" rx="48" ry="20" fill="#5e5e5e"/><ellipse cx="30.8" cy="73.0" rx="28" ry="14" fill="#d9d9d9"/><ellipse cx="20.7" cy="59.0" rx="25" ry="15" fill="#bfbfbf"/><ellipse cx="61.5" cy="72.9" rx="25" ry="15" fill="#bfbfbf"/><ellipse cx="17.3" cy="16.2" rx="18" ry="20" fill="#454545"/><ellipse cx="75.2" cy="35.8" rx="22" ry="12" fill="#8f8f8f"/><ellipse cx="2.7" cy="11.9" rx="12" ry="20" fill="#262626"/></g></g></g><path transform="translate(122.40,186.30)" d="M 26.5,2.6 C 28,-0.2 36,-1 42,-0.6 C 48,-0.3 52.5,1.2 52,3.2 C 51.5,5.2 45,6.6 38,6.3 C 31,6 26,4.8 26.5,2.6 Z M 30,1.3 C 37,0.8 44,1.2 50,2.2 M 28.5,3.4 C 36,3 44,3.2 51,3.8 M 31,5.1 C 37,4.9 43,5.1 48,5.3" fill="none" stroke="#7a4030" stroke-width="0.35" stroke-opacity="0.45"/><g transform="matrix(0.4940,-0.0850,0.2910,0.1480,120.90,168.95)"><g clip-path="url(#uc)"><g filter="url(#f11)"><rect x="-15" y="-15" width="130" height="130" fill="#ababab"/><ellipse cx="36.2" cy="18.8" rx="40" ry="17" fill="#5e5e5e"/><ellipse cx="63.7" cy="72.7" rx="28" ry="20" fill="#bfbfbf"/><ellipse cx="30.2" cy="74.0" rx="28" ry="18" fill="#d9d9d9"/><ellipse cx="21.3" cy="58.0" rx="25" ry="20" fill="#bfbfbf"/><ellipse cx="2.4" cy="10.3" rx="12" ry="25" fill="#0f0f0f"/><ellipse cx="13.1" cy="13.7" rx="14" ry="20" fill="#262626"/><ellipse cx="77.1" cy="32.7" rx="22" ry="12" fill="#9e9e9e"/></g></g></g><path transform="translate(122.40,169.35)" d="M 26.5,2.6 C 28,-0.2 36,-1 42,-0.6 C 48,-0.3 52.5,1.2 52,3.2 C 51.5,5.2 45,6.6 38,6.3 C 31,6 26,4.8 26.5,2.6 Z M 30,1.3 C 37,0.8 44,1.2 50,2.2 M 28.5,3.4 C 36,3 44,3.2 51,3.8 M 31,5.1 C 37,4.9 43,5.1 48,5.3" fill="none" stroke="#7a4030" stroke-width="0.35" stroke-opacity="0.45"/><g transform="matrix(0.4940,-0.0850,0.2910,0.1480,120.90,152.00)"><g clip-path="url(#uc)"><g filter="url(#f10)"><rect x="-15" y="-15" width="130" height="130" fill="#bababa"/><ellipse cx="59.4" cy="73.0" rx="28" ry="20" fill="#bfbfbf"/><ellipse cx="36.9" cy="69.6" rx="25" ry="22" fill="#d9d9d9"/><ellipse cx="89.6" cy="-2.5" rx="28" ry="12" fill="#d9d9d9"/><ellipse cx="14.1" cy="70.1" rx="22" ry="15" fill="#bfbfbf"/><ellipse cx="1.5" cy="8.3" rx="12" ry="25" fill="#0f0f0f"/><ellipse cx="90.3" cy="93.4" rx="15" ry="18" fill="#9e9e9e"/><ellipse cx="32.2" cy="8.2" rx="18" ry="14" fill="#5e5e5e"/><ellipse cx="13.1" cy="10.9" rx="12" ry="20" fill="#262626"/><ellipse cx="53.5" cy="6.8" rx="18" ry="10" fill="#9e9e9e"/></g></g></g><path transform="translate(122.40,152.40)" d="M 26.5,2.6 C 28,-0.2 36,-1 42,-0.6 C 48,-0.3 52.5,1.2 52,3.2 C 51.5,5.2 45,6.6 38,6.3 C 31,6 26,4.8 26.5,2.6 Z M 30,1.3 C 37,0.8 44,1.2 50,2.2 M 28.5,3.4 C 36,3 44,3.2 51,3.8 M 31,5.1 C 37,4.9 43,5.1 48,5.3" fill="none" stroke="#7a4030" stroke-width="0.35" stroke-opacity="0.45"/><rect x="120.40" y="241.10" width="80.30" height="3.6" fill="url(#jet)"/><text x="158.40" y="141.70" fill="#3a3a3a" stroke="#3a3a3a" stroke-width="0.1" font-family="Liberation Sans" font-size="2.2" text-anchor="middle">11 June 2020</text><text x="118.90" y="151.60" fill="#3a3a3a" stroke="#3a3a3a" stroke-width="0.1" font-family="Liberation Sans" font-size="2.65" text-anchor="end">200hPa</text><text x="118.90" y="168.55" fill="#3a3a3a" stroke="#3a3a3a" stroke-width="0.1" font-family="Liberation Sans" font-size="2.65" text-anchor="end">300hPa</text><text x="118.90" y="185.50" fill="#3a3a3a" stroke="#3a3a3a" stroke-width="0.1" font-family="Liberation Sans" font-size="2.65" text-anchor="end">400hPa</text><text x="118.90" y="202.45" fill="#3a3a3a" stroke="#3a3a3a" stroke-width="0.1" font-family="Liberation Sans" font-size="2.65" text-anchor="end">450hPa</text><text x="118.90" y="219.40" fill="#3a3a3a" stroke="#3a3a3a" stroke-width="0.1" font-family="Liberation Sans" font-size="2.65" text-anchor="end">500hPa</text><text x="119.00" y="223.30" fill="#3a3a3a" stroke="#3a3a3a" stroke-width="0.1" font-family="Liberation Sans" font-size="2.5" text-anchor="end">43°N</text><text x="124.82" y="226.26" fill="#3a3a3a" stroke="#3a3a3a" stroke-width="0.1" font-family="Liberation Sans" font-size="2.5" text-anchor="end">39°N</text><text x="130.64" y="229.22" fill="#3a3a3a" stroke="#3a3a3a" stroke-width="0.1" font-family="Liberation Sans" font-size="2.5" text-anchor="end">35°N</text><text x="136.46" y="232.18" fill="#3a3a3a" stroke="#3a3a3a" stroke-width="0.1" font-family="Liberation Sans" font-size="2.5" text-anchor="end">31°N</text><text x="142.28" y="235.14" fill="#3a3a3a" stroke="#3a3a3a" stroke-width="0.1" font-family="Liberation Sans" font-size="2.5" text-anchor="end">27°N</text><text x="148.10" y="238.10" fill="#3a3a3a" stroke="#3a3a3a" stroke-width="0.1" font-family="Liberation Sans" font-size="2.5" text-anchor="end">23°N</text><text x="152.00" y="239.10" fill="#3a3a3a" stroke="#3a3a3a" stroke-width="0.1" font-family="Liberation Sans" font-size="2.5">70°E</text><text x="160.23" y="237.68" fill="#3a3a3a" stroke="#3a3a3a" stroke-width="0.1" font-family="Liberation Sans" font-size="2.5">75°E</text><text x="168.47" y="236.27" fill="#3a3a3a" stroke="#3a3a3a" stroke-width="0.1" font-family="Liberation Sans" font-size="2.5">80°E</text><text x="176.70" y="234.85" fill="#3a3a3a" stroke="#3a3a3a" stroke-width="0.1" font-family="Liberation Sans" font-size="2.5">85°E</text><text x="184.93" y="233.43" fill="#3a3a3a" stroke="#3a3a3a" stroke-width="0.1" font-family="Liberation Sans" font-size="2.5">90°E</text><text x="193.17" y="232.02" fill="#3a3a3a" stroke="#3a3a3a" stroke-width="0.1" font-family="Liberation Sans" font-size="2.5">95°E</text><text x="201.40" y="230.60" fill="#3a3a3a" stroke="#3a3a3a" stroke-width="0.1" font-family="Liberation Sans" font-size="2.5">100°E</text><text x="122.00" y="247.70" fill="#3a3a3a" stroke="#3a3a3a" stroke-width="0.1" font-family="Liberation Sans" font-size="2.2" text-anchor="middle">-100</text><text x="130.10" y="247.70" fill="#3a3a3a" stroke="#3a3a3a" stroke-width="0.1" font-family="Liberation Sans" font-size="2.2" text-anchor="middle">-80</text><text x="138.20" y="247.70" fill="#3a3a3a" stroke="#3a3a3a" stroke-width="0.1" font-family="Liberation Sans" font-size="2.2" text-anchor="middle">-60</text><text x="146.30" y="247.70" fill="#3a3a3a" stroke="#3a3a3a" stroke-width="0.1" font-family="Liberation Sans" font-size="2.2" text-anchor="middle">-40</text><text x="154.40" y="247.70" fill="#3a3a3a" stroke="#3a3a3a" stroke-width="0.1" font-family="Liberation Sans" font-size="2.2" text-anchor="middle">-20</text><text x="162.50" y="247.70" fill="#3a3a3a" stroke="#3a3a3a" stroke-width="0.1" font-family="Liberation Sans" font-size="2.2" text-anchor="middle">0</text><text x="170.60" y="247.70" fill="#3a3a3a" stroke="#3a3a3a" stroke-width="0.1" font-family="Liberation Sans" font-size="2.2" text-anchor="middle">20</text><text x="178.70" y="247.70" fill="#3a3a3a" stroke="#3a3a3a" stroke-width="0.1" font-family="Liberation Sans" font-size="2.2" text-anchor="middle">40</text><text x="186.80" y="247.70" fill="#3a3a3a" stroke="#3a3a3a" stroke-width="0.1" font-family="Liberation Sans" font-size="2.2" text-anchor="middle">60</text><text x="194.90" y="247.70" fill="#3a3a3a" stroke="#3a3a3a" stroke-width="0.1" font-family="Liberation Sans" font-size="2.2" text-anchor="middle">80</text><text x="160.40" y="251.80" fill="#3a3a3a" stroke="#3a3a3a" stroke-width="0.1" font-family="Liberation Sans" font-size="2.4" text-anchor="middle">Geopotential Height</text><line x1="222.90" y1="152.00" x2="222.90" y2="219.80" stroke="#c8c8c8" stroke-width="0.5"/><line x1="302.60" y1="158.30" x2="302.60" y2="226.10" stroke="#d0d0d0" stroke-width="0.5"/><g transform="matrix(0.4940,-0.0850,0.2910,0.1480,223.20,219.80)"><g clip-path="url(#uc)"><g filter="url(#f21)"><rect x="-15" y="-15" width="130" height="130" fill="#b0b0b0"/><ellipse cx="9.4" cy="39.0" rx="30" ry="10" fill="#c2c2c2"/><ellipse cx="60.7" cy="38.5" rx="20" ry="6" fill="#616161"/><ellipse cx="66.0" cy="85.2" rx="15" ry="6" fill="#c2c2c2"/><ellipse cx="61.2" cy="62.0" rx="10" ry="4" fill="#545454"/></g></g></g><path transform="translate(224.70,220.20)" d="M 26.5,2.6 C 28,-0.2 36,-1 42,-0.6 C 48,-0.3 52.5,1.2 52,3.2 C 51.5,5.2 45,6.6 38,6.3 C 31,6 26,4.8 26.5,2.6 Z M 30,1.3 C 37,0.8 44,1.2 50,2.2 M 28.5,3.4 C 36,3 44,3.2 51,3.8 M 31,5.1 C 37,4.9 43,5.1 48,5.3" fill="none" stroke="#7a4030" stroke-width="0.35" stroke-opacity="0.45"/><g transform="matrix(0.4940,-0.0850,0.2910,0.1480,223.20,202.85)"><g clip-path="url(#uc)"><g filter="url(#f20)"><rect x="-15" y="-15" width="130" height="130" fill="#a1a1a1"/><ellipse cx="6.6" cy="26.4" rx="28" ry="10" fill="#dbdbdb"/><ellipse cx="54.0" cy="29.1" rx="30" ry="6" fill="#a1a1a1"/><ellipse cx="55.6" cy="43.7" rx="20" ry="6" fill="#545454"/><ellipse cx="9.0" cy="74.2" rx="18" ry="6" fill="#dbdbdb"/><ellipse cx="81.7" cy="72.3" rx="15" ry="6" fill="#8f8f8f"/><ellipse cx="39.2" cy="82.0" rx="15" ry="5" fill="#c2c2c2"/><ellipse cx="7.1" cy="18.6" rx="12" ry="5" fill="#dbdbdb"/></g></g></g><path transform="translate(224.70,203.25)" d="M 26.5,2.6 C 28,-0.2 36,-1 42,-0.6 C 48,-0.3 52.5,1.2 52,3.2 C 51.5,5.2 45,6.6 38,6.3 C 31,6 26,4.8 26.5,2.6 Z M 30,1.3 C 37,0.8 44,1.2 50,2.2 M 28.5,3.4 C 36,3 44,3.2 51,3.8 M 31,5.1 C 37,4.9 43,5.1 48,5.3" fill="none" stroke="#7a4030" stroke-width="0.35" stroke-opacity="0.45"/><g transform="matrix(0.4940,-0.0850,0.2910,0.1480,223.20,185.90)"><g clip-path="url(#uc)"><g filter="url(#f22)"><rect x="-15" y="-15" width="130" height="130" fill="#7a7a7a"/><ellipse cx="13.2" cy="22.0" rx="30" ry="10" fill="#616161"/><ellipse cx="56.5" cy="38.7" rx="35" ry="7" fill="#c2c2c2"/><ellipse cx="44.1" cy="80.7" rx="20" ry="6" fill="#0d0d0d"/><ellipse cx="87.3" cy="83.6" rx="15" ry="6" fill="#262626"/><ellipse cx="42.5" cy="34.7" rx="12" ry="6" fill="#dbdbdb"/><ellipse cx="76.0" cy="40.3" rx="12" ry="5" fill="#dbdbdb"/></g></g></g><path transform="translate(224.70,186.30)" d="M 26.5,2.6 C 28,-0.2 36,-1 42,-0.6 C 48,-0.3 52.5,1.2 52,3.2 C 51.5,5.2 45,6.6 38,6.3 C 31,6 26,4.8 26.5,2.6 Z M 30,1.3 C 37,0.8 44,1.2 50,2.2 M 28.5,3.4 C 36,3 44,3.2 51,3.8 M 31,5.1 C 37,4.9 43,5.1 48,5.3" fill="none" stroke="#7a4030" stroke-width="0.35" stroke-opacity="0.45"/><g transform="matrix(0.4940,-0.0850,0.2910,0.1480,223.20,168.95)"><g clip-path="url(#uc)"><g filter="url(#f21)"><rect x="-15" y="-15" width="130" height="130" fill="#8c8c8c"/><ellipse cx="76.7" cy="46.1" rx="30" ry="6" fill="#dbdbdb"/><ellipse cx="9.6" cy="14.4" rx="20" ry="8" fill="#616161"/><ellipse cx="14.2" cy="68.9" rx="25" ry="5" fill="#545454"/><ellipse cx="16.2" cy="41.4" rx="15" ry="6" fill="#a1a1a1"/><ellipse cx="88.9" cy="84.5" rx="12" ry="6" fill="#c2c2c2"/><ellipse cx="51.1" cy="79.2" rx="12" ry="5" fill="#616161"/><ellipse cx="87.1" cy="49.3" rx="12" ry="4" fill="#f5f5f5"/></g></g></g><path transform="translate(224.70,169.35)" d="M 26.5,2.6 C 28,-0.2 36,-1 42,-0.6 C 48,-0.3 52.5,1.2 52,3.2 C 51.5,5.2 45,6.6 38,6.3 C 31,6 26,4.8 26.5,2.6 Z M 30,1.3 C 37,0.8 44,1.2 50,2.2 M 28.5,3.4 C 36,3 44,3.2 51,3.8 M 31,5.1 C 37,4.9 43,5.1 48,5.3" fill="none" stroke="#7a4030" stroke-width="0.35" stroke-opacity="0.45"/><g transform="matrix(0.4940,-0.0850,0.2910,0.1480,223.20,152.00)"><g clip-path="url(#uc)"><g filter="url(#f20)"><rect x="-15" y="-15" width="130" height="130" fill="#8c8c8c"/><ellipse cx="37.7" cy="29.1" rx="55" ry="16" fill="#666666"/><ellipse cx="82.4" cy="78.0" rx="30" ry="12" fill="#dbdbdb"/><ellipse cx="42.4" cy="14.1" rx="44" ry="8" fill="#545454"/><ellipse cx="20.4" cy="72.4" rx="42" ry="8" fill="#a1a1a1"/><ellipse cx="69.7" cy="78.9" rx="24" ry="10" fill="#c2c2c2"/></g></g></g><path transform="translate(224.70,152.40)" d="M 26.5,2.6 C 28,-0.2 36,-1 42,-0.6 C 48,-0.3 52.5,1.2 52,3.2 C 51.5,5.2 45,6.6 38,6.3 C 31,6 26,4.8 26.5,2.6 Z M 30,1.3 C 37,0.8 44,1.2 50,2.2 M 28.5,3.4 C 36,3 44,3.2 51,3.8 M 31,5.1 C 37,4.9 43,5.1 48,5.3" fill="none" stroke="#7a4030" stroke-width="0.35" stroke-opacity="0.45"/><rect x="222.70" y="241.10" width="80.30" height="3.6" fill="url(#jet)"/><text x="260.70" y="141.70" fill="#3a3a3a" stroke="#3a3a3a" stroke-width="0.1" font-family="Liberation Sans" font-size="2.2" text-anchor="middle">11 June 2020</text><text x="221.20" y="151.60" fill="#3a3a3a" stroke="#3a3a3a" stroke-width="0.1" font-family="Liberation Sans" font-size="2.65" text-anchor="end">200hPa</text><text x="221.20" y="168.55" fill="#3a3a3a" stroke="#3a3a3a" stroke-width="0.1" font-family="Liberation Sans" font-size="2.65" text-anchor="end">300hPa</text><text x="221.20" y="185.50" fill="#3a3a3a" stroke="#3a3a3a" stroke-width="0.1" font-family="Liberation Sans" font-size="2.65" text-anchor="end">400hPa</text><text x="221.20" y="202.45" fill="#3a3a3a" stroke="#3a3a3a" stroke-width="0.1" font-family="Liberation Sans" font-size="2.65" text-anchor="end">450hPa</text><text x="221.20" y="219.40" fill="#3a3a3a" stroke="#3a3a3a" stroke-width="0.1" font-family="Liberation Sans" font-size="2.65" text-anchor="end">500hPa</text><text x="221.30" y="223.30" fill="#3a3a3a" stroke="#3a3a3a" stroke-width="0.1" font-family="Liberation Sans" font-size="2.5" text-anchor="end">43°N</text><text x="227.12" y="226.26" fill="#3a3a3a" stroke="#3a3a3a" stroke-width="0.1" font-family="Liberation Sans" font-size="2.5" text-anchor="end">39°N</text><text x="232.94" y="229.22" fill="#3a3a3a" stroke="#3a3a3a" stroke-width="0.1" font-family="Liberation Sans" font-size="2.5" text-anchor="end">35°N</text><text x="238.76" y="232.18" fill="#3a3a3a" stroke="#3a3a3a" stroke-width="0.1" font-family="Liberation Sans" font-size="2.5" text-anchor="end">31°N</text><text x="244.58" y="235.14" fill="#3a3a3a" stroke="#3a3a3a" stroke-width="0.1" font-family="Liberation Sans" font-size="2.5" text-anchor="end">27°N</text><text x="250.40" y="238.10" fill="#3a3a3a" stroke="#3a3a3a" stroke-width="0.1" font-family="Liberation Sans" font-size="2.5" text-anchor="end">23°N</text><text x="254.30" y="239.10" fill="#3a3a3a" stroke="#3a3a3a" stroke-width="0.1" font-family="Liberation Sans" font-size="2.5">70°E</text><text x="262.53" y="237.68" fill="#3a3a3a" stroke="#3a3a3a" stroke-width="0.1" font-family="Liberation Sans" font-size="2.5">75°E</text><text x="270.77" y="236.27" fill="#3a3a3a" stroke="#3a3a3a" stroke-width="0.1" font-family="Liberation Sans" font-size="2.5">80°E</text><text x="279.00" y="234.85" fill="#3a3a3a" stroke="#3a3a3a" stroke-width="0.1" font-family="Liberation Sans" font-size="2.5">85°E</text><text x="287.23" y="233.43" fill="#3a3a3a" stroke="#3a3a3a" stroke-width="0.1" font-family="Liberation Sans" font-size="2.5">90°E</text><text x="295.47" y="232.02" fill="#3a3a3a" stroke="#3a3a3a" stroke-width="0.1" font-family="Liberation Sans" font-size="2.5">95°E</text><text x="303.70" y="230.60" fill="#3a3a3a" stroke="#3a3a3a" stroke-width="0.1" font-family="Liberation Sans" font-size="2.5">100°E</text><text x="230.90" y="247.70" fill="#3a3a3a" stroke="#3a3a3a" stroke-width="0.1" font-family="Liberation Sans" font-size="2.2" text-anchor="middle">-10</text><text x="238.80" y="247.70" fill="#3a3a3a" stroke="#3a3a3a" stroke-width="0.1" font-family="Liberation Sans" font-size="2.2" text-anchor="middle">-8</text><text x="246.70" y="247.70" fill="#3a3a3a" stroke="#3a3a3a" stroke-width="0.1" font-family="Liberation Sans" font-size="2.2" text-anchor="middle">-6</text><text x="254.60" y="247.70" fill="#3a3a3a" stroke="#3a3a3a" stroke-width="0.1" font-family="Liberation Sans" font-size="2.2" text-anchor="middle">-4</text><text x="262.50" y="247.70" fill="#3a3a3a" stroke="#3a3a3a" stroke-width="0.1" font-family="Liberation Sans" font-size="2.2" text-anchor="middle">-2</text><text x="270.40" y="247.70" fill="#3a3a3a" stroke="#3a3a3a" stroke-width="0.1" font-family="Liberation Sans" font-size="2.2" text-anchor="middle">0</text><text x="278.30" y="247.70" fill="#3a3a3a" stroke="#3a3a3a" stroke-width="0.1" font-family="Liberation Sans" font-size="2.2" text-anchor="middle">2</text><text x="286.20" y="247.70" fill="#3a3a3a" stroke="#3a3a3a" stroke-width="0.1" font-family="Liberation Sans" font-size="2.2" text-anchor="middle">4</text><text x="294.10" y="247.70" fill="#3a3a3a" stroke="#3a3a3a" stroke-width="0.1" font-family="Liberation Sans" font-size="2.2" text-anchor="middle">6</text><text x="302.00" y="247.70" fill="#3a3a3a" stroke="#3a3a3a" stroke-width="0.1" font-family="Liberation Sans" font-size="2.2" text-anchor="middle">8</text><text x="264.60" y="251.80" fill="#3a3a3a" stroke="#3a3a3a" stroke-width="0.1" font-family="Liberation Sans" font-size="2.4" text-anchor="middle">Ozone Mixing Ratio</text><text x="304.70" y="247.20" fill="#3a3a3a" stroke="#3a3a3a" stroke-width="0.1" font-family="Liberation Sans" font-size="2.2">mol/mol</text><text x="297.70" y="251.60" fill="#3a3a3a" stroke="#3a3a3a" stroke-width="0.1" font-family="Liberation Sans" font-size="2.2">×10<tspan dy="-1" font-size="1.6">-7</tspan></text><line x1="325.20" y1="152.00" x2="325.20" y2="219.80" stroke="#c8c8c8" stroke-width="0.5"/><line x1="404.90" y1="158.30" x2="404.90" y2="226.10" stroke="#d0d0d0" stroke-width="0.5"/><g transform="matrix(0.4940,-0.0850,0.2910,0.1480,325.50,219.80)"><g clip-path="url(#uc)"><g filter="url(#f31)"><rect x="-15" y="-15" width="130" height="130" fill="#737373"/><ellipse cx="42.3" cy="37.5" rx="40" ry="6" fill="#dbdbdb"/><ellipse cx="69.5" cy="43.5" rx="20" ry="6" fill="#a1a1a1"/><ellipse cx="19.7" cy="58.6" rx="18" ry="6" fill="#262626"/><ellipse cx="67.0" cy="85.8" rx="18" ry="6" fill="#c2c2c2"/></g></g></g><path transform="translate(327.00,220.20)" d="M 26.5,2.6 C 28,-0.2 36,-1 42,-0.6 C 48,-0.3 52.5,1.2 52,3.2 C 51.5,5.2 45,6.6 38,6.3 C 31,6 26,4.8 26.5,2.6 Z M 30,1.3 C 37,0.8 44,1.2 50,2.2 M 28.5,3.4 C 36,3 44,3.2 51,3.8 M 31,5.1 C 37,4.9 43,5.1 48,5.3" fill="none" stroke="#7a4030" stroke-width="0.35" stroke-opacity="0.45"/><g transform="matrix(0.4940,-0.0850,0.2910,0.1480,325.50,202.85)"><g clip-path="url(#uc)"><g filter="url(#f30)"><rect x="-15" y="-15" width="130" height="130" fill="#7a7a7a"/><ellipse cx="26.1" cy="58.1" rx="35" ry="9" fill="#0d0d0d"/><ellipse cx="38.1" cy="37.7" rx="45" ry="6" fill="#dbdbdb" transform="rotate(-5 38.1 37.7)"/><ellipse cx="91.5" cy="23.4" rx="22" ry="5" fill="#dbdbdb"/><ellipse cx="29.6" cy="83.3" rx="15" ry="5" fill="#b0b0b0"/><ellipse cx="88.7" cy="87.2" rx="15" ry="5" fill="#c2c2c2"/></g></g></g><path transform="translate(327.00,203.25)" d="M 26.5,2.6 C 28,-0.2 36,-1 42,-0.6 C 48,-0.3 52.5,1.2 52,3.2 C 51.5,5.2 45,6.6 38,6.3 C 31,6 26,4.8 26.5,2.6 Z M 30,1.3 C 37,0.8 44,1.2 50,2.2 M 28.5,3.4 C 36,3 44,3.2 51,3.8 M 31,5.1 C 37,4.9 43,5.1 48,5.3" fill="none" stroke="#7a4030" stroke-width="0.35" stroke-opacity="0.45"/><g transform="matrix(0.4940,-0.0850,0.2910,0.1480,325.50,185.90)"><g clip-path="url(#uc)"><g filter="url(#f32)"><rect x="-15" y="-15" width="130" height="130" fill="#7a7a7a"/><ellipse cx="24.3" cy="61.1" rx="35" ry="9" fill="#0d0d0d"/><ellipse cx="60.2" cy="17.6" rx="45" ry="6" fill="#dbdbdb" transform="rotate(-10 60.2 17.6)"/><ellipse cx="79.9" cy="53.5" rx="20" ry="6" fill="#262626"/><ellipse cx="20.8" cy="29.1" rx="20" ry="5" fill="#c2c2c2"/><ellipse cx="66.3" cy="59.3" rx="18" ry="5" fill="#dbdbdb"/><ellipse cx="87.8" cy="92.1" rx="15" ry="5" fill="#c2c2c2"/></g></g></g><path transform="translate(327.00,186.30)" d="M 26.5,2.6 C 28,-0.2 36,-1 42,-0.6 C 48,-0.3 52.5,1.2 52,3.2 C 51.5,5.2 45,6.6 38,6.3 C 31,6 26,4.8 26.5,2.6 Z M 30,1.3 C 37,0.8 44,1.2 50,2.2 M 28.5,3.4 C 36,3 44,3.2 51,3.8 M 31,5.1 C 37,4.9 43,5.1 48,5.3" fill="none" stroke="#7a4030" stroke-width="0.35" stroke-opacity="0.45"/><g transform="matrix(0.4940,-0.0850,0.2910,0.1480,325.50,168.95)"><g clip-path="url(#uc)"><g filter="url(#f31)"><rect x="-15" y="-15" width="130" height="130" fill="#7a7a7a"/><ellipse cx="59.5" cy="36.2" rx="50" ry="8" fill="#dbdbdb" transform="rotate(-14 59.5 36.2)"/><ellipse cx="30.4" cy="50.9" rx="35" ry="7" fill="#0d0d0d"/><ellipse cx="21.3" cy="14.3" rx="24" ry="6" fill="#c2c2c2"/><ellipse cx="71.5" cy="60.9" rx="25" ry="5" fill="#262626"/><ellipse cx="26.0" cy="82.5" rx="20" ry="6" fill="#a1a1a1"/><ellipse cx="89.9" cy="85.1" rx="15" ry="6" fill="#c2c2c2"/><ellipse cx="1.9" cy="19.5" rx="12" ry="6" fill="#616161"/></g></g></g><path transform="translate(327.00,169.35)" d="M 26.5,2.6 C 28,-0.2 36,-1 42,-0.6 C 48,-0.3 52.5,1.2 52,3.2 C 51.5,5.2 45,6.6 38,6.3 C 31,6 26,4.8 26.5,2.6 Z M 30,1.3 C 37,0.8 44,1.2 50,2.2 M 28.5,3.4 C 36,3 44,3.2 51,3.8 M 31,5.1 C 37,4.9 43,5.1 48,5.3" fill="none" stroke="#7a4030" stroke-width="0.35" stroke-opacity="0.45"/><g transform="matrix(0.4940,-0.0850,0.2910,0.1480,325.50,152.00)"><g clip-path="url(#uc)"><g filter="url(#f30)"><rect x="-15" y="-15" width="130" height="130" fill="#7a7a7a"/><ellipse cx="8.9" cy="63.1" rx="38" ry="14" fill="#8f8f8f"/><ellipse cx="52.9" cy="47.4" rx="40" ry="10" fill="#0d0d0d"/><ellipse cx="21.2" cy="83.8" rx="28" ry="7" fill="#b0b0b0"/><ellipse cx="61.5" cy="15.5" rx="25" ry="6" fill="#a1a1a1"/><ellipse cx="15.8" cy="9.7" rx="15" ry="6" fill="#c2c2c2"/><ellipse cx="88.1" cy="81.3" rx="12" ry="6" fill="#c2c2c2"/><ellipse cx="83.1" cy="68.9" rx="12" ry="5" fill="#616161"/><ellipse cx="73.6" cy="15.6" rx="10" ry="5" fill="#c2c2c2"/><ellipse cx="29.5" cy="17.6" rx="8" ry="5" fill="#dbdbdb"/><ellipse cx="91.8" cy="5.6" rx="8" ry="5" fill="#dbdbdb"/></g></g></g><path transform="translate(327.00,152.40)" d="M 26.5,2.6 C 28,-0.2 36,-1 42,-0.6 C 48,-0.3 52.5,1.2 52,3.2 C 51.5,5.2 45,6.6 38,6.3 C 31,6 26,4.8 26.5,2.6 Z M 30,1.3 C 37,0.8 44,1.2 50,2.2 M 28.5,3.4 C 36,3 44,3.2 51,3.8 M 31,5.1 C 37,4.9 43,5.1 48,5.3" fill="none" stroke="#7a4030" stroke-width="0.35" stroke-opacity="0.45"/><rect x="325.00" y="241.10" width="80.30" height="3.6" fill="url(#jet)"/><text x="363.00" y="141.70" fill="#3a3a3a" stroke="#3a3a3a" stroke-width="0.1" font-family="Liberation Sans" font-size="2.2" text-anchor="middle">11 June 2020</text><text x="323.50" y="151.60" fill="#3a3a3a" stroke="#3a3a3a" stroke-width="0.1" font-family="Liberation Sans" font-size="2.65" text-anchor="end">200hPa</text><text x="323.50" y="168.55" fill="#3a3a3a" stroke="#3a3a3a" stroke-width="0.1" font-family="Liberation Sans" font-size="2.65" text-anchor="end">300hPa</text><text x="323.50" y="185.50" fill="#3a3a3a" stroke="#3a3a3a" stroke-width="0.1" font-family="Liberation Sans" font-size="2.65" text-anchor="end">400hPa</text><text x="323.50" y="202.45" fill="#3a3a3a" stroke="#3a3a3a" stroke-width="0.1" font-family="Liberation Sans" font-size="2.65" text-anchor="end">450hPa</text><text x="323.50" y="219.40" fill="#3a3a3a" stroke="#3a3a3a" stroke-width="0.1" font-family="Liberation Sans" font-size="2.65" text-anchor="end">500hPa</text><text x="323.60" y="223.30" fill="#3a3a3a" stroke="#3a3a3a" stroke-width="0.1" font-family="Liberation Sans" font-size="2.5" text-anchor="end">43°N</text><text x="329.42" y="226.26" fill="#3a3a3a" stroke="#3a3a3a" stroke-width="0.1" font-family="Liberation Sans" font-size="2.5" text-anchor="end">39°N</text><text x="335.24" y="229.22" fill="#3a3a3a" stroke="#3a3a3a" stroke-width="0.1" font-family="Liberation Sans" font-size="2.5" text-anchor="end">35°N</text><text x="341.06" y="232.18" fill="#3a3a3a" stroke="#3a3a3a" stroke-width="0.1" font-family="Liberation Sans" font-size="2.5" text-anchor="end">31°N</text><text x="346.88" y="235.14" fill="#3a3a3a" stroke="#3a3a3a" stroke-width="0.1" font-family="Liberation Sans" font-size="2.5" text-anchor="end">27°N</text><text x="352.70" y="238.10" fill="#3a3a3a" stroke="#3a3a3a" stroke-width="0.1" font-family="Liberation Sans" font-size="2.5" text-anchor="end">23°N</text><text x="356.60" y="239.10" fill="#3a3a3a" stroke="#3a3a3a" stroke-width="0.1" font-family="Liberation Sans" font-size="2.5">70°E</text><text x="364.83" y="237.68" fill="#3a3a3a" stroke="#3a3a3a" stroke-width="0.1" font-family="Liberation Sans" font-size="2.5">75°E</text><text x="373.07" y="236.27" fill="#3a3a3a" stroke="#3a3a3a" stroke-width="0.1" font-family="Liberation Sans" font-size="2.5">80°E</text><text x="381.30" y="234.85" fill="#3a3a3a" stroke="#3a3a3a" stroke-width="0.1" font-family="Liberation Sans" font-size="2.5">85°E</text><text x="389.53" y="233.43" fill="#3a3a3a" stroke="#3a3a3a" stroke-width="0.1" font-family="Liberation Sans" font-size="2.5">90°E</text><text x="397.77" y="232.02" fill="#3a3a3a" stroke="#3a3a3a" stroke-width="0.1" font-family="Liberation Sans" font-size="2.5">95°E</text><text x="406.00" y="230.60" fill="#3a3a3a" stroke="#3a3a3a" stroke-width="0.1" font-family="Liberation Sans" font-size="2.5">100°E</text><text x="333.80" y="247.70" fill="#3a3a3a" stroke="#3a3a3a" stroke-width="0.1" font-family="Liberation Sans" font-size="2.2" text-anchor="middle">-60</text><text x="341.80" y="247.70" fill="#3a3a3a" stroke="#3a3a3a" stroke-width="0.1" font-family="Liberation Sans" font-size="2.2" text-anchor="middle">-50</text><text x="349.80" y="247.70" fill="#3a3a3a" stroke="#3a3a3a" stroke-width="0.1" font-family="Liberation Sans" font-size="2.2" text-anchor="middle">-40</text><text x="357.80" y="247.70" fill="#3a3a3a" stroke="#3a3a3a" stroke-width="0.1" font-family="Liberation Sans" font-size="2.2" text-anchor="middle">-30</text><text x="365.80" y="247.70" fill="#3a3a3a" stroke="#3a3a3a" stroke-width="0.1" font-family="Liberation Sans" font-size="2.2" text-anchor="middle">-20</text><text x="373.80" y="247.70" fill="#3a3a3a" stroke="#3a3a3a" stroke-width="0.1" font-family="Liberation Sans" font-size="2.2" text-anchor="middle">-10</text><text x="381.80" y="247.70" fill="#3a3a3a" stroke="#3a3a3a" stroke-width="0.1" font-family="Liberation Sans" font-size="2.2" text-anchor="middle">0</text><text x="389.80" y="247.70" fill="#3a3a3a" stroke="#3a3a3a" stroke-width="0.1" font-family="Liberation Sans" font-size="2.2" text-anchor="middle">10</text><text x="397.80" y="247.70" fill="#3a3a3a" stroke="#3a3a3a" stroke-width="0.1" font-family="Liberation Sans" font-size="2.2" text-anchor="middle">20</text><text x="364.70" y="251.80" fill="#3a3a3a" stroke="#3a3a3a" stroke-width="0.1" font-family="Liberation Sans" font-size="2.4" text-anchor="middle">Relative Humidity</text><text x="407.00" y="248.30" fill="#3a3a3a" stroke="#3a3a3a" stroke-width="0.1" font-family="Liberation Sans" font-size="2.4">%</text><line x1="18.00" y1="288.20" x2="18.00" y2="356.00" stroke="#c8c8c8" stroke-width="0.5"/><line x1="97.70" y1="294.50" x2="97.70" y2="362.30" stroke="#d0d0d0" stroke-width="0.5"/><g transform="matrix(0.4940,-0.0850,0.2910,0.1480,18.30,356.00)"><g clip-path="url(#uc)"><g filter="url(#f01)"><rect x="-15" y="-15" width="130" height="130" fill="#000000"/><ellipse cx="44.9" cy="51.2" rx="34" ry="8" fill="#474747"/><ellipse cx="44.9" cy="51.2" rx="20" ry="6" fill="#8f8f8f"/><ellipse cx="49.1" cy="51.0" rx="6" ry="5" fill="#bfbfbf"/></g><g filter="url(#bo)"><ellipse cx="52.7" cy="38.0" rx="20" ry="10" fill="#b02070" fill-opacity="0.35"/></g></g></g><path transform="translate(18.30,356.40)" d="M 26.5,2.6 C 28,-0.2 36,-1 42,-0.6 C 48,-0.3 52.5,1.2 52,3.2 C 51.5,5.2 45,6.6 38,6.3 C 31,6 26,4.8 26.5,2.6 Z M 30,1.3 C 37,0.8 44,1.2 50,2.2 M 28.5,3.4 C 36,3 44,3.2 51,3.8 M 31,5.1 C 37,4.9 43,5.1 48,5.3" fill="none" stroke="#b82070" stroke-width="0.75" stroke-opacity="0.6"/><g transform="matrix(0.4940,-0.0850,0.2910,0.1480,18.30,339.05)"><g clip-path="url(#uc)"><g filter="url(#f00)"><rect x="-15" y="-15" width="130" height="130" fill="#000000"/><ellipse cx="52.8" cy="51.6" rx="23" ry="7" fill="#404040"/><ellipse cx="59.5" cy="47.3" rx="8" ry="5" fill="#787878"/></g><g filter="url(#bo)"><ellipse cx="51.6" cy="46.8" rx="18" ry="10" fill="#b02070" fill-opacity="0.4"/></g></g></g><path transform="translate(18.30,339.45)" d="M 26.5,2.6 C 28,-0.2 36,-1 42,-0.6 C 48,-0.3 52.5,1.2 52,3.2 C 51.5,5.2 45,6.6 38,6.3 C 31,6 26,4.8 26.5,2.6 Z M 30,1.3 C 37,0.8 44,1.2 50,2.2 M 28.5,3.4 C 36,3 44,3.2 51,3.8 M 31,5.1 C 37,4.9 43,5.1 48,5.3" fill="none" stroke="#b82070" stroke-width="0.75" stroke-opacity="0.6"/><g transform="matrix(0.4940,-0.0850,0.2910,0.1480,18.30,322.10)"><g clip-path="url(#uc)"><g filter="url(#f02)"><rect x="-15" y="-15" width="130" height="130" fill="#000000"/><ellipse cx="40.1" cy="59.3" rx="11" ry="5" fill="#1f1f1f"/></g><g filter="url(#bo)"><ellipse cx="52.2" cy="45.8" rx="16" ry="10" fill="#b02070" fill-opacity="0.45"/></g></g></g><path transform="translate(18.30,322.50)" d="M 26.5,2.6 C 28,-0.2 36,-1 42,-0.6 C 48,-0.3 52.5,1.2 52,3.2 C 51.5,5.2 45,6.6 38,6.3 C 31,6 26,4.8 26.5,2.6 Z M 30,1.3 C 37,0.8 44,1.2 50,2.2 M 28.5,3.4 C 36,3 44,3.2 51,3.8 M 31,5.1 C 37,4.9 43,5.1 48,5.3" fill="none" stroke="#b82070" stroke-width="0.75" stroke-opacity="0.6"/><g transform="matrix(0.4940,-0.0850,0.2910,0.1480,18.30,305.15)"><g clip-path="url(#uc)"><g filter="url(#f01)"><rect x="-15" y="-15" width="130" height="130" fill="#000000"/><ellipse cx="42.0" cy="56.2" rx="11" ry="5" fill="#1f1f1f"/></g><g filter="url(#bo)"><ellipse cx="51.0" cy="47.8" rx="16" ry="10" fill="#b02070" fill-opacity="0.45"/></g></g></g><path transform="translate(18.30,305.55)" d="M 26.5,2.6 C 28,-0.2 36,-1 42,-0.6 C 48,-0.3 52.5,1.2 52,3.2 C 51.5,5.2 45,6.6 38,6.3 C 31,6 26,4.8 26.5,2.6 Z M 30,1.3 C 37,0.8 44,1.2 50,2.2 M 28.5,3.4 C 36,3 44,3.2 51,3.8 M 31,5.1 C 37,4.9 43,5.1 48,5.3" fill="none" stroke="#b82070" stroke-width="0.75" stroke-opacity="0.6"/><g transform="matrix(0.4940,-0.0850,0.2910,0.1480,18.30,288.20)"><g clip-path="url(#uc)"><g filter="url(#f00)"><rect x="-15" y="-15" width="130" height="130" fill="#000000"/><ellipse cx="42.5" cy="48.3" rx="13" ry="6" fill="#262626"/><ellipse cx="83.9" cy="47.5" rx="11" ry="6" fill="#2e2e2e"/></g><g filter="url(#bo)"><ellipse cx="50.4" cy="48.7" rx="16" ry="10" fill="#b02070" fill-opacity="0.45"/></g></g></g><path transform="translate(18.30,288.60)" d="M 26.5,2.6 C 28,-0.2 36,-1 42,-0.6 C 48,-0.3 52.5,1.2 52,3.2 C 51.5,5.2 45,6.6 38,6.3 C 31,6 26,4.8 26.5,2.6 Z M 30,1.3 C 37,0.8 44,1.2 50,2.2 M 28.5,3.4 C 36,3 44,3.2 51,3.8 M 31,5.1 C 37,4.9 43,5.1 48,5.3" fill="none" stroke="#b82070" stroke-width="0.75" stroke-opacity="0.6"/><rect x="17.80" y="377.30" width="80.30" height="3.6" fill="url(#par)"/><text x="55.80" y="277.90" fill="#3a3a3a" stroke="#3a3a3a" stroke-width="0.1" font-family="Liberation Sans" font-size="2.2" text-anchor="middle">21 June 2020</text><text x="16.30" y="287.80" fill="#3a3a3a" stroke="#3a3a3a" stroke-width="0.1" font-family="Liberation Sans" font-size="2.65" text-anchor="end">200hPa</text><text x="16.30" y="304.75" fill="#3a3a3a" stroke="#3a3a3a" stroke-width="0.1" font-family="Liberation Sans" font-size="2.65" text-anchor="end">300hPa</text><text x="16.30" y="321.70" fill="#3a3a3a" stroke="#3a3a3a" stroke-width="0.1" font-family="Liberation Sans" font-size="2.65" text-anchor="end">400hPa</text><text x="16.30" y="338.65" fill="#3a3a3a" stroke="#3a3a3a" stroke-width="0.1" font-family="Liberation Sans" font-size="2.65" text-anchor="end">450hPa</text><text x="16.30" y="355.60" fill="#3a3a3a" stroke="#3a3a3a" stroke-width="0.1" font-family="Liberation Sans" font-size="2.65" text-anchor="end">500hPa</text><text x="16.40" y="359.50" fill="#3a3a3a" stroke="#3a3a3a" stroke-width="0.1" font-family="Liberation Sans" font-size="2.5" text-anchor="end">43°N</text><text x="22.22" y="362.46" fill="#3a3a3a" stroke="#3a3a3a" stroke-width="0.1" font-family="Liberation Sans" font-size="2.5" text-anchor="end">39°N</text><text x="28.04" y="365.42" fill="#3a3a3a" stroke="#3a3a3a" stroke-width="0.1" font-family="Liberation Sans" font-size="2.5" text-anchor="end">35°N</text><text x="33.86" y="368.38" fill="#3a3a3a" stroke="#3a3a3a" stroke-width="0.1" font-family="Liberation Sans" font-size="2.5" text-anchor="end">31°N</text><text x="39.68" y="371.34" fill="#3a3a3a" stroke="#3a3a3a" stroke-width="0.1" font-family="Liberation Sans" font-size="2.5" text-anchor="end">27°N</text><text x="45.50" y="374.30" fill="#3a3a3a" stroke="#3a3a3a" stroke-width="0.1" font-family="Liberation Sans" font-size="2.5" text-anchor="end">23°N</text><text x="49.40" y="375.30" fill="#3a3a3a" stroke="#3a3a3a" stroke-width="0.1" font-family="Liberation Sans" font-size="2.5">70°E</text><text x="57.63" y="373.88" fill="#3a3a3a" stroke="#3a3a3a" stroke-width="0.1" font-family="Liberation Sans" font-size="2.5">75°E</text><text x="65.87" y="372.47" fill="#3a3a3a" stroke="#3a3a3a" stroke-width="0.1" font-family="Liberation Sans" font-size="2.5">80°E</text><text x="74.10" y="371.05" fill="#3a3a3a" stroke="#3a3a3a" stroke-width="0.1" font-family="Liberation Sans" font-size="2.5">85°E</text><text x="82.33" y="369.63" fill="#3a3a3a" stroke="#3a3a3a" stroke-width="0.1" font-family="Liberation Sans" font-size="2.5">90°E</text><text x="90.57" y="368.22" fill="#3a3a3a" stroke="#3a3a3a" stroke-width="0.1" font-family="Liberation Sans" font-size="2.5">95°E</text><text x="98.80" y="366.80" fill="#3a3a3a" stroke="#3a3a3a" stroke-width="0.1" font-family="Liberation Sans" font-size="2.5">100°E</text><text x="21.40" y="383.90" fill="#3a3a3a" stroke="#3a3a3a" stroke-width="0.1" font-family="Liberation Sans" font-size="2.2" text-anchor="middle">4</text><text x="29.90" y="383.90" fill="#3a3a3a" stroke="#3a3a3a" stroke-width="0.1" font-family="Liberation Sans" font-size="2.2" text-anchor="middle">5</text><text x="38.40" y="383.90" fill="#3a3a3a" stroke="#3a3a3a" stroke-width="0.1" font-family="Liberation Sans" font-size="2.2" text-anchor="middle">6</text><text x="46.90" y="383.90" fill="#3a3a3a" stroke="#3a3a3a" stroke-width="0.1" font-family="Liberation Sans" font-size="2.2" text-anchor="middle">7</text><text x="55.40" y="383.90" fill="#3a3a3a" stroke="#3a3a3a" stroke-width="0.1" font-family="Liberation Sans" font-size="2.2" text-anchor="middle">8</text><text x="63.90" y="383.90" fill="#3a3a3a" stroke="#3a3a3a" stroke-width="0.1" font-family="Liberation Sans" font-size="2.2" text-anchor="middle">9</text><text x="72.40" y="383.90" fill="#3a3a3a" stroke="#3a3a3a" stroke-width="0.1" font-family="Liberation Sans" font-size="2.2" text-anchor="middle">10</text><text x="80.90" y="383.90" fill="#3a3a3a" stroke="#3a3a3a" stroke-width="0.1" font-family="Liberation Sans" font-size="2.2" text-anchor="middle">11</text><text x="89.40" y="383.90" fill="#3a3a3a" stroke="#3a3a3a" stroke-width="0.1" font-family="Liberation Sans" font-size="2.2" text-anchor="middle">12</text><text x="97.90" y="383.90" fill="#3a3a3a" stroke="#3a3a3a" stroke-width="0.1" font-family="Liberation Sans" font-size="2.2" text-anchor="middle">13</text><text x="59.10" y="388.00" fill="#3a3a3a" stroke="#3a3a3a" stroke-width="0.1" font-family="Liberation Sans" font-size="2.4" text-anchor="middle">Air Temperature</text><line x1="120.60" y1="288.20" x2="120.60" y2="356.00" stroke="#c8c8c8" stroke-width="0.5"/><line x1="200.30" y1="294.50" x2="200.30" y2="362.30" stroke="#d0d0d0" stroke-width="0.5"/><g transform="matrix(0.4940,-0.0850,0.2910,0.1480,120.90,356.00)"><g clip-path="url(#uc)"><g filter="url(#f11)"><rect x="-15" y="-15" width="130" height="130" fill="#6b6b6b"/><ellipse cx="34.4" cy="35.7" rx="42" ry="20" fill="#5e5e5e"/><ellipse cx="5.1" cy="16.1" rx="16" ry="20" fill="#454545"/><ellipse cx="50.4" cy="64.0" rx="22" ry="10" fill="#8f8f8f"/></g></g></g><path transform="translate(122.40,356.40)" d="M 26.5,2.6 C 28,-0.2 36,-1 42,-0.6 C 48,-0.3 52.5,1.2 52,3.2 C 51.5,5.2 45,6.6 38,6.3 C 31,6 26,4.8 26.5,2.6 Z M 30,1.3 C 37,0.8 44,1.2 50,2.2 M 28.5,3.4 C 36,3 44,3.2 51,3.8 M 31,5.1 C 37,4.9 43,5.1 48,5.3" fill="none" stroke="#7a4030" stroke-width="0.35" stroke-opacity="0.45"/><g transform="matrix(0.4940,-0.0850,0.2910,0.1480,120.90,339.05)"><g clip-path="url(#uc)"><g filter="url(#f10)"><rect x="-15" y="-15" width="130" height="130" fill="#757575"/><ellipse cx="23.2" cy="37.4" rx="38" ry="25" fill="#5e5e5e"/><ellipse cx="64.1" cy="58.1" rx="26" ry="12" fill="#8f8f8f"/><ellipse cx="3.3" cy="12.3" rx="15" ry="20" fill="#454545"/></g></g></g><path transform="translate(122.40,339.45)" d="M 26.5,2.6 C 28,-0.2 36,-1 42,-0.6 C 48,-0.3 52.5,1.2 52,3.2 C 51.5,5.2 45,6.6 38,6.3 C 31,6 26,4.8 26.5,2.6 Z M 30,1.3 C 37,0.8 44,1.2 50,2.2 M 28.5,3.4 C 36,3 44,3.2 51,3.8 M 31,5.1 C 37,4.9 43,5.1 48,5.3" fill="none" stroke="#7a4030" stroke-width="0.35" stroke-opacity="0.45"/><g transform="matrix(0.4940,-0.0850,0.2910,0.1480,120.90,322.10)"><g clip-path="url(#uc)"><g filter="url(#f12)"><rect x="-15" y="-15" width="130" height="130" fill="#808080"/><ellipse cx="21.2" cy="44.3" rx="28" ry="25" fill="#5e5e5e"/><ellipse cx="62.0" cy="51.4" rx="28" ry="15" fill="#9e9e9e"/><ellipse cx="5.8" cy="28.7" rx="16" ry="25" fill="#454545"/><ellipse cx="0.6" cy="13.4" rx="13" ry="20" fill="#262626"/><ellipse cx="60.5" cy="57.3" rx="12" ry="8" fill="#adadad"/></g></g></g><path transform="translate(122.40,322.50)" d="M 26.5,2.6 C 28,-0.2 36,-1 42,-0.6 C 48,-0.3 52.5,1.2 52,3.2 C 51.5,5.2 45,6.6 38,6.3 C 31,6 26,4.8 26.5,2.6 Z M 30,1.3 C 37,0.8 44,1.2 50,2.2 M 28.5,3.4 C 36,3 44,3.2 51,3.8 M 31,5.1 C 37,4.9 43,5.1 48,5.3" fill="none" stroke="#7a4030" stroke-width="0.35" stroke-opacity="0.45"/><g transform="matrix(0.4940,-0.0850,0.2910,0.1480,120.90,305.15)"><g clip-path="url(#uc)"><g filter="url(#f11)"><rect x="-15" y="-15" width="130" height="130" fill="#919191"/><ellipse cx="59.6" cy="55.4" rx="36" ry="22" fill="#9e9e9e"/><ellipse cx="23.4" cy="51.0" rx="22" ry="25" fill="#5e5e5e"/><ellipse cx="8.0" cy="28.5" rx="16" ry="28" fill="#262626"/><ellipse cx="-0.0" cy="14.4" rx="15" ry="25" fill="#0f0f0f"/><ellipse cx="55.1" cy="59.6" rx="22" ry="14" fill="#b5b5b5"/><ellipse cx="8.7" cy="48.0" rx="15" ry="20" fill="#454545"/><ellipse cx="46.5" cy="15.2" rx="20" ry="10" fill="#707070"/></g></g></g><path transform="translate(122.40,305.55)" d="M 26.5,2.6 C 28,-0.2 36,-1 42,-0.6 C 48,-0.3 52.5,1.2 52,3.2 C 51.5,5.2 45,6.6 38,6.3 C 31,6 26,4.8 26.5,2.6 Z M 30,1.3 C 37,0.8 44,1.2 50,2.2 M 28.5,3.4 C 36,3 44,3.2 51,3.8 M 31,5.1 C 37,4.9 43,5.1 48,5.3" fill="none" stroke="#7a4030" stroke-width="0.35" stroke-opacity="0.45"/><g transform="matrix(0.4940,-0.0850,0.2910,0.1480,120.90,288.20)"><g clip-path="url(#uc)"><g filter="url(#f10)"><rect x="-15" y="-15" width="130" height="130" fill="#949494"/><ellipse cx="54.2" cy="64.5" rx="42" ry="26" fill="#bfbfbf"/><ellipse cx="22.1" cy="46.1" rx="22" ry="25" fill="#5e5e5e"/><ellipse cx="89.9" cy="-6.4" rx="36" ry="14" fill="#d9d9d9"/><ellipse cx="6.5" cy="27.6" rx="16" ry="30" fill="#262626"/><ellipse cx="8.8" cy="48.0" rx="16" ry="25" fill="#454545"/><ellipse cx="0.3" cy="10.4" rx="14" ry="25" fill="#0f0f0f"/><ellipse cx="59.1" cy="63.2" rx="20" ry="12" fill="#c9c9c9"/><ellipse cx="63.0" cy="15.0" rx="20" ry="10" fill="#9e9e9e"/><ellipse cx="87.9" cy="90.7" rx="16" ry="12" fill="#9e9e9e"/><ellipse cx="44.7" cy="18.2" rx="16" ry="10" fill="#5e5e5e"/></g></g></g><path transform="translate(122.40,288.60)" d="M 26.5,2.6 C 28,-0.2 36,-1 42,-0.6 C 48,-0.3 52.5,1.2 52,3.2 C 51.5,5.2 45,6.6 38,6.3 C 31,6 26,4.8 26.5,2.6 Z M 30,1.3 C 37,0.8 44,1.2 50,2.2 M 28.5,3.4 C 36,3 44,3.2 51,3.8 M 31,5.1 C 37,4.9 43,5.1 48,5.3" fill="none" stroke="#7a4030" stroke-width="0.35" stroke-opacity="0.45"/><rect x="120.40" y="377.30" width="80.30" height="3.6" fill="url(#jet)"/><text x="158.40" y="277.90" fill="#3a3a3a" stroke="#3a3a3a" stroke-width="0.1" font-family="Liberation Sans" font-size="2.2" text-anchor="middle">21 June 2020</text><text x="118.90" y="287.80" fill="#3a3a3a" stroke="#3a3a3a" stroke-width="0.1" font-family="Liberation Sans" font-size="2.65" text-anchor="end">200hPa</text><text x="118.90" y="304.75" fill="#3a3a3a" stroke="#3a3a3a" stroke-width="0.1" font-family="Liberation Sans" font-size="2.65" text-anchor="end">300hPa</text><text x="118.90" y="321.70" fill="#3a3a3a" stroke="#3a3a3a" stroke-width="0.1" font-family="Liberation Sans" font-size="2.65" text-anchor="end">400hPa</text><text x="118.90" y="338.65" fill="#3a3a3a" stroke="#3a3a3a" stroke-width="0.1" font-family="Liberation Sans" font-size="2.65" text-anchor="end">450hPa</text><text x="118.90" y="355.60" fill="#3a3a3a" stroke="#3a3a3a" stroke-width="0.1" font-family="Liberation Sans" font-size="2.65" text-anchor="end">500hPa</text><text x="119.00" y="359.50" fill="#3a3a3a" stroke="#3a3a3a" stroke-width="0.1" font-family="Liberation Sans" font-size="2.5" text-anchor="end">43°N</text><text x="124.82" y="362.46" fill="#3a3a3a" stroke="#3a3a3a" stroke-width="0.1" font-family="Liberation Sans" font-size="2.5" text-anchor="end">39°N</text><text x="130.64" y="365.42" fill="#3a3a3a" stroke="#3a3a3a" stroke-width="0.1" font-family="Liberation Sans" font-size="2.5" text-anchor="end">35°N</text><text x="136.46" y="368.38" fill="#3a3a3a" stroke="#3a3a3a" stroke-width="0.1" font-family="Liberation Sans" font-size="2.5" text-anchor="end">31°N</text><text x="142.28" y="371.34" fill="#3a3a3a" stroke="#3a3a3a" stroke-width="0.1" font-family="Liberation Sans" font-size="2.5" text-anchor="end">27°N</text><text x="148.10" y="374.30" fill="#3a3a3a" stroke="#3a3a3a" stroke-width="0.1" font-family="Liberation Sans" font-size="2.5" text-anchor="end">23°N</text><text x="152.00" y="375.30" fill="#3a3a3a" stroke="#3a3a3a" stroke-width="0.1" font-family="Liberation Sans" font-size="2.5">70°E</text><text x="160.23" y="373.88" fill="#3a3a3a" stroke="#3a3a3a" stroke-width="0.1" font-family="Liberation Sans" font-size="2.5">75°E</text><text x="168.47" y="372.47" fill="#3a3a3a" stroke="#3a3a3a" stroke-width="0.1" font-family="Liberation Sans" font-size="2.5">80°E</text><text x="176.70" y="371.05" fill="#3a3a3a" stroke="#3a3a3a" stroke-width="0.1" font-family="Liberation Sans" font-size="2.5">85°E</text><text x="184.93" y="369.63" fill="#3a3a3a" stroke="#3a3a3a" stroke-width="0.1" font-family="Liberation Sans" font-size="2.5">90°E</text><text x="193.17" y="368.22" fill="#3a3a3a" stroke="#3a3a3a" stroke-width="0.1" font-family="Liberation Sans" font-size="2.5">95°E</text><text x="201.40" y="366.80" fill="#3a3a3a" stroke="#3a3a3a" stroke-width="0.1" font-family="Liberation Sans" font-size="2.5">100°E</text><text x="121.00" y="383.90" fill="#3a3a3a" stroke="#3a3a3a" stroke-width="0.1" font-family="Liberation Sans" font-size="2.2" text-anchor="middle">-100</text><text x="128.80" y="383.90" fill="#3a3a3a" stroke="#3a3a3a" stroke-width="0.1" font-family="Liberation Sans" font-size="2.2" text-anchor="middle">-80</text><text x="136.60" y="383.90" fill="#3a3a3a" stroke="#3a3a3a" stroke-width="0.1" font-family="Liberation Sans" font-size="2.2" text-anchor="middle">-60</text><text x="144.40" y="383.90" fill="#3a3a3a" stroke="#3a3a3a" stroke-width="0.1" font-family="Liberation Sans" font-size="2.2" text-anchor="middle">-40</text><text x="152.20" y="383.90" fill="#3a3a3a" stroke="#3a3a3a" stroke-width="0.1" font-family="Liberation Sans" font-size="2.2" text-anchor="middle">-20</text><text x="160.00" y="383.90" fill="#3a3a3a" stroke="#3a3a3a" stroke-width="0.1" font-family="Liberation Sans" font-size="2.2" text-anchor="middle">0</text><text x="167.80" y="383.90" fill="#3a3a3a" stroke="#3a3a3a" stroke-width="0.1" font-family="Liberation Sans" font-size="2.2" text-anchor="middle">20</text><text x="175.60" y="383.90" fill="#3a3a3a" stroke="#3a3a3a" stroke-width="0.1" font-family="Liberation Sans" font-size="2.2" text-anchor="middle">40</text><text x="183.40" y="383.90" fill="#3a3a3a" stroke="#3a3a3a" stroke-width="0.1" font-family="Liberation Sans" font-size="2.2" text-anchor="middle">60</text><text x="191.20" y="383.90" fill="#3a3a3a" stroke="#3a3a3a" stroke-width="0.1" font-family="Liberation Sans" font-size="2.2" text-anchor="middle">80</text><text x="199.00" y="383.90" fill="#3a3a3a" stroke="#3a3a3a" stroke-width="0.1" font-family="Liberation Sans" font-size="2.2" text-anchor="middle">-100</text><text x="160.40" y="388.00" fill="#3a3a3a" stroke="#3a3a3a" stroke-width="0.1" font-family="Liberation Sans" font-size="2.4" text-anchor="middle">Geopotential Height</text><line x1="222.90" y1="288.20" x2="222.90" y2="356.00" stroke="#c8c8c8" stroke-width="0.5"/><line x1="302.60" y1="294.50" x2="302.60" y2="362.30" stroke="#d0d0d0" stroke-width="0.5"/><g transform="matrix(0.4940,-0.0850,0.2910,0.1480,223.20,356.00)"><g clip-path="url(#uc)"><g filter="url(#f21)"><rect x="-15" y="-15" width="130" height="130" fill="#a1a1a1"/><ellipse cx="7.0" cy="43.1" rx="30" ry="10" fill="#dbdbdb"/><ellipse cx="80.5" cy="81.3" rx="20" ry="6" fill="#c2c2c2"/><ellipse cx="41.9" cy="42.7" rx="20" ry="6" fill="#a1a1a1"/><ellipse cx="72.7" cy="49.5" rx="18" ry="6" fill="#616161"/></g></g></g><path transform="translate(224.70,356.40)" d="M 26.5,2.6 C 28,-0.2 36,-1 42,-0.6 C 48,-0.3 52.5,1.2 52,3.2 C 51.5,5.2 45,6.6 38,6.3 C 31,6 26,4.8 26.5,2.6 Z M 30,1.3 C 37,0.8 44,1.2 50,2.2 M 28.5,3.4 C 36,3 44,3.2 51,3.8 M 31,5.1 C 37,4.9 43,5.1 48,5.3" fill="none" stroke="#7a4030" stroke-width="0.35" stroke-opacity="0.45"/><g transform="matrix(0.4940,-0.0850,0.2910,0.1480,223.20,339.05)"><g clip-path="url(#uc)"><g filter="url(#f20)"><rect x="-15" y="-15" width="130" height="130" fill="#9c9c9c"/><ellipse cx="33.4" cy="81.4" rx="45" ry="8" fill="#c2c2c2"/><ellipse cx="4.1" cy="23.7" rx="25" ry="8" fill="#dbdbdb"/><ellipse cx="48.6" cy="38.3" rx="20" ry="8" fill="#616161"/><ellipse cx="42.4" cy="21.1" rx="25" ry="6" fill="#8f8f8f"/><ellipse cx="79.4" cy="83.3" rx="20" ry="6" fill="#c2c2c2"/><ellipse cx="27.6" cy="80.8" rx="20" ry="4" fill="#dbdbdb"/></g></g></g><path transform="translate(224.70,339.45)" d="M 26.5,2.6 C 28,-0.2 36,-1 42,-0.6 C 48,-0.3 52.5,1.2 52,3.2 C 51.5,5.2 45,6.6 38,6.3 C 31,6 26,4.8 26.5,2.6 Z M 30,1.3 C 37,0.8 44,1.2 50,2.2 M 28.5,3.4 C 36,3 44,3.2 51,3.8 M 31,5.1 C 37,4.9 43,5.1 48,5.3" fill="none" stroke="#7a4030" stroke-width="0.35" stroke-opacity="0.45"/><g transform="matrix(0.4940,-0.0850,0.2910,0.1480,223.20,322.10)"><g clip-path="url(#uc)"><g filter="url(#f22)"><rect x="-15" y="-15" width="130" height="130" fill="#878787"/><ellipse cx="62.9" cy="31.4" rx="45" ry="8" fill="#dbdbdb"/><ellipse cx="11.1" cy="22.2" rx="25" ry="8" fill="#8f8f8f"/><ellipse cx="50.8" cy="83.2" rx="20" ry="8" fill="#262626"/><ellipse cx="80.0" cy="82.2" rx="20" ry="7" fill="#616161"/><ellipse cx="47.9" cy="56.9" rx="15" ry="5" fill="#c2c2c2"/><ellipse cx="12.7" cy="36.8" rx="10" ry="5" fill="#a1a1a1"/></g></g></g><path transform="translate(224.70,322.50)" d="M 26.5,2.6 C 28,-0.2 36,-1 42,-0.6 C 48,-0.3 52.5,1.2 52,3.2 C 51.5,5.2 45,6.6 38,6.3 C 31,6 26,4.8 26.5,2.6 Z M 30,1.3 C 37,0.8 44,1.2 50,2.2 M 28.5,3.4 C 36,3 44,3.2 51,3.8 M 31,5.1 C 37,4.9 43,5.1 48,5.3" fill="none" stroke="#7a4030" stroke-width="0.35" stroke-opacity="0.45"/><g transform="matrix(0.4940,-0.0850,0.2910,0.1480,223.20,305.15)"><g clip-path="url(#uc)"><g filter="url(#f21)"><rect x="-15" y="-15" width="130" height="130" fill="#8c8c8c"/><ellipse cx="90.8" cy="56.9" rx="28" ry="10" fill="#dbdbdb"/><ellipse cx="19.3" cy="18.6" rx="30" ry="8" fill="#696969"/><ellipse cx="24.3" cy="69.2" rx="25" ry="5" fill="#545454"/><ellipse cx="54.1" cy="35.9" rx="20" ry="6" fill="#a1a1a1"/><ellipse cx="84.9" cy="80.8" rx="18" ry="6" fill="#c2c2c2"/><ellipse cx="51.4" cy="75.2" rx="20" ry="5" fill="#616161"/></g></g></g><path transform="translate(224.70,305.55)" d="M 26.5,2.6 C 28,-0.2 36,-1 42,-0.6 C 48,-0.3 52.5,1.2 52,3.2 C 51.5,5.2 45,6.6 38,6.3 C 31,6 26,4.8 26.5,2.6 Z M 30,1.3 C 37,0.8 44,1.2 50,2.2 M 28.5,3.4 C 36,3 44,3.2 51,3.8 M 31,5.1 C 37,4.9 43,5.1 48,5.3" fill="none" stroke="#7a4030" stroke-width="0.35" stroke-opacity="0.45"/><g transform="matrix(0.4940,-0.0850,0.2910,0.1480,223.20,288.20)"><g clip-path="url(#uc)"><g filter="url(#f20)"><rect x="-15" y="-15" width="130" height="130" fill="#878787"/><ellipse cx="39.4" cy="19.2" rx="50" ry="12" fill="#696969"/><ellipse cx="75.2" cy="83.4" rx="30" ry="12" fill="#c2c2c2"/><ellipse cx="20.7" cy="75.3" rx="35" ry="6" fill="#b0b0b0"/><ellipse cx="87.3" cy="83.6" rx="15" ry="6" fill="#dbdbdb"/><ellipse cx="35.7" cy="88.0" rx="15" ry="5" fill="#dbdbdb"/></g></g></g><path transform="translate(224.70,288.60)" d="M 26.5,2.6 C 28,-0.2 36,-1 42,-0.6 C 48,-0.3 52.5,1.2 52,3.2 C 51.5,5.2 45,6.6 38,6.3 C 31,6 26,4.8 26.5,2.6 Z M 30,1.3 C 37,0.8 44,1.2 50,2.2 M 28.5,3.4 C 36,3 44,3.2 51,3.8 M 31,5.1 C 37,4.9 43,5.1 48,5.3" fill="none" stroke="#7a4030" stroke-width="0.35" stroke-opacity="0.45"/><rect x="222.70" y="377.30" width="80.30" height="3.6" fill="url(#jet)"/><text x="260.70" y="277.90" fill="#3a3a3a" stroke="#3a3a3a" stroke-width="0.1" font-family="Liberation Sans" font-size="2.2" text-anchor="middle">21 June 2020</text><text x="221.20" y="287.80" fill="#3a3a3a" stroke="#3a3a3a" stroke-width="0.1" font-family="Liberation Sans" font-size="2.65" text-anchor="end">200hPa</text><text x="221.20" y="304.75" fill="#3a3a3a" stroke="#3a3a3a" stroke-width="0.1" font-family="Liberation Sans" font-size="2.65" text-anchor="end">300hPa</text><text x="221.20" y="321.70" fill="#3a3a3a" stroke="#3a3a3a" stroke-width="0.1" font-family="Liberation Sans" font-size="2.65" text-anchor="end">400hPa</text><text x="221.20" y="338.65" fill="#3a3a3a" stroke="#3a3a3a" stroke-width="0.1" font-family="Liberation Sans" font-size="2.65" text-anchor="end">450hPa</text><text x="221.20" y="355.60" fill="#3a3a3a" stroke="#3a3a3a" stroke-width="0.1" font-family="Liberation Sans" font-size="2.65" text-anchor="end">500hPa</text><text x="221.30" y="359.50" fill="#3a3a3a" stroke="#3a3a3a" stroke-width="0.1" font-family="Liberation Sans" font-size="2.5" text-anchor="end">43°N</text><text x="227.12" y="362.46" fill="#3a3a3a" stroke="#3a3a3a" stroke-width="0.1" font-family="Liberation Sans" font-size="2.5" text-anchor="end">39°N</text><text x="232.94" y="365.42" fill="#3a3a3a" stroke="#3a3a3a" stroke-width="0.1" font-family="Liberation Sans" font-size="2.5" text-anchor="end">35°N</text><text x="238.76" y="368.38" fill="#3a3a3a" stroke="#3a3a3a" stroke-width="0.1" font-family="Liberation Sans" font-size="2.5" text-anchor="end">31°N</text><text x="244.58" y="371.34" fill="#3a3a3a" stroke="#3a3a3a" stroke-width="0.1" font-family="Liberation Sans" font-size="2.5" text-anchor="end">27°N</text><text x="250.40" y="374.30" fill="#3a3a3a" stroke="#3a3a3a" stroke-width="0.1" font-family="Liberation Sans" font-size="2.5" text-anchor="end">23°N</text><text x="254.30" y="375.30" fill="#3a3a3a" stroke="#3a3a3a" stroke-width="0.1" font-family="Liberation Sans" font-size="2.5">70°E</text><text x="262.53" y="373.88" fill="#3a3a3a" stroke="#3a3a3a" stroke-width="0.1" font-family="Liberation Sans" font-size="2.5">75°E</text><text x="270.77" y="372.47" fill="#3a3a3a" stroke="#3a3a3a" stroke-width="0.1" font-family="Liberation Sans" font-size="2.5">80°E</text><text x="279.00" y="371.05" fill="#3a3a3a" stroke="#3a3a3a" stroke-width="0.1" font-family="Liberation Sans" font-size="2.5">85°E</text><text x="287.23" y="369.63" fill="#3a3a3a" stroke="#3a3a3a" stroke-width="0.1" font-family="Liberation Sans" font-size="2.5">90°E</text><text x="295.47" y="368.22" fill="#3a3a3a" stroke="#3a3a3a" stroke-width="0.1" font-family="Liberation Sans" font-size="2.5">95°E</text><text x="303.70" y="366.80" fill="#3a3a3a" stroke="#3a3a3a" stroke-width="0.1" font-family="Liberation Sans" font-size="2.5">100°E</text><text x="224.80" y="383.90" fill="#3a3a3a" stroke="#3a3a3a" stroke-width="0.1" font-family="Liberation Sans" font-size="2.2" text-anchor="middle">-10</text><text x="232.90" y="383.90" fill="#3a3a3a" stroke="#3a3a3a" stroke-width="0.1" font-family="Liberation Sans" font-size="2.2" text-anchor="middle">-8</text><text x="241.00" y="383.90" fill="#3a3a3a" stroke="#3a3a3a" stroke-width="0.1" font-family="Liberation Sans" font-size="2.2" text-anchor="middle">-6</text><text x="249.10" y="383.90" fill="#3a3a3a" stroke="#3a3a3a" stroke-width="0.1" font-family="Liberation Sans" font-size="2.2" text-anchor="middle">-4</text><text x="257.20" y="383.90" fill="#3a3a3a" stroke="#3a3a3a" stroke-width="0.1" font-family="Liberation Sans" font-size="2.2" text-anchor="middle">-2</text><text x="265.30" y="383.90" fill="#3a3a3a" stroke="#3a3a3a" stroke-width="0.1" font-family="Liberation Sans" font-size="2.2" text-anchor="middle">0</text><text x="273.40" y="383.90" fill="#3a3a3a" stroke="#3a3a3a" stroke-width="0.1" font-family="Liberation Sans" font-size="2.2" text-anchor="middle">2</text><text x="281.50" y="383.90" fill="#3a3a3a" stroke="#3a3a3a" stroke-width="0.1" font-family="Liberation Sans" font-size="2.2" text-anchor="middle">4</text><text x="289.60" y="383.90" fill="#3a3a3a" stroke="#3a3a3a" stroke-width="0.1" font-family="Liberation Sans" font-size="2.2" text-anchor="middle">6</text><text x="297.70" y="383.90" fill="#3a3a3a" stroke="#3a3a3a" stroke-width="0.1" font-family="Liberation Sans" font-size="2.2" text-anchor="middle">8</text><text x="264.60" y="388.00" fill="#3a3a3a" stroke="#3a3a3a" stroke-width="0.1" font-family="Liberation Sans" font-size="2.4" text-anchor="middle">Ozone Mixing Ratio</text><text x="304.70" y="383.40" fill="#3a3a3a" stroke="#3a3a3a" stroke-width="0.1" font-family="Liberation Sans" font-size="2.2">mol/mol</text><text x="297.70" y="387.80" fill="#3a3a3a" stroke="#3a3a3a" stroke-width="0.1" font-family="Liberation Sans" font-size="2.2">×10<tspan dy="-1" font-size="1.6">-7</tspan></text><line x1="325.20" y1="288.20" x2="325.20" y2="356.00" stroke="#c8c8c8" stroke-width="0.5"/><line x1="404.90" y1="294.50" x2="404.90" y2="362.30" stroke="#d0d0d0" stroke-width="0.5"/><g transform="matrix(0.4940,-0.0850,0.2910,0.1480,325.50,356.00)"><g clip-path="url(#uc)"><g filter="url(#f31)"><rect x="-15" y="-15" width="130" height="130" fill="#757575"/><ellipse cx="43.4" cy="53.1" rx="30" ry="8" fill="#262626"/><ellipse cx="69.5" cy="95.4" rx="30" ry="6" fill="#c2c2c2"/><ellipse cx="56.6" cy="30.7" rx="25" ry="6" fill="#a1a1a1"/><ellipse cx="15.6" cy="34.4" rx="15" ry="6" fill="#dbdbdb"/><ellipse cx="5.1" cy="17.5" rx="15" ry="5" fill="#c2c2c2"/><ellipse cx="43.1" cy="57.0" rx="15" ry="5" fill="#0d0d0d"/><ellipse cx="67.4" cy="95.6" rx="15" ry="5" fill="#dbdbdb"/></g></g></g><path transform="translate(327.00,356.40)" d="M 26.5,2.6 C 28,-0.2 36,-1 42,-0.6 C 48,-0.3 52.5,1.2 52,3.2 C 51.5,5.2 45,6.6 38,6.3 C 31,6 26,4.8 26.5,2.6 Z M 30,1.3 C 37,0.8 44,1.2 50,2.2 M 28.5,3.4 C 36,3 44,3.2 51,3.8 M 31,5.1 C 37,4.9 43,5.1 48,5.3" fill="none" stroke="#7a4030" stroke-width="0.35" stroke-opacity="0.45"/><g transform="matrix(0.4940,-0.0850,0.2910,0.1480,325.50,339.05)"><g clip-path="url(#uc)"><g filter="url(#f30)"><rect x="-15" y="-15" width="130" height="130" fill="#7a7a7a"/><ellipse cx="26.8" cy="64.0" rx="42" ry="12" fill="#0d0d0d"/><ellipse cx="35.8" cy="17.3" rx="35" ry="6" fill="#c2c2c2"/><ellipse cx="80.1" cy="87.8" rx="30" ry="7" fill="#dbdbdb"/><ellipse cx="75.9" cy="88.1" rx="20" ry="5" fill="#c2c2c2"/><ellipse cx="66.5" cy="48.6" rx="15" ry="5" fill="#a1a1a1"/><ellipse cx="8.5" cy="15.3" rx="12" ry="5" fill="#616161"/></g></g></g><path transform="translate(327.00,339.45)" d="M 26.5,2.6 C 28,-0.2 36,-1 42,-0.6 C 48,-0.3 52.5,1.2 52,3.2 C 51.5,5.2 45,6.6 38,6.3 C 31,6 26,4.8 26.5,2.6 Z M 30,1.3 C 37,0.8 44,1.2 50,2.2 M 28.5,3.4 C 36,3 44,3.2 51,3.8 M 31,5.1 C 37,4.9 43,5.1 48,5.3" fill="none" stroke="#7a4030" stroke-width="0.35" stroke-opacity="0.45"/><g transform="matrix(0.4940,-0.0850,0.2910,0.1480,325.50,322.10)"><g clip-path="url(#uc)"><g filter="url(#f32)"><rect x="-15" y="-15" width="130" height="130" fill="#7a7a7a"/><ellipse cx="26.1" cy="58.1" rx="35" ry="9" fill="#0d0d0d"/><ellipse cx="34.7" cy="19.3" rx="35" ry="6" fill="#c2c2c2"/><ellipse cx="79.6" cy="95.6" rx="28" ry="7" fill="#dbdbdb" transform="rotate(-10 79.6 95.6)"/><ellipse cx="74.5" cy="62.7" rx="20" ry="7" fill="#545454"/><ellipse cx="71.7" cy="95.2" rx="15" ry="6" fill="#c2c2c2"/><ellipse cx="4.2" cy="15.5" rx="12" ry="5" fill="#a1a1a1"/></g></g></g><path transform="translate(327.00,322.50)" d="M 26.5,2.6 C 28,-0.2 36,-1 42,-0.6 C 48,-0.3 52.5,1.2 52,3.2 C 51.5,5.2 45,6.6 38,6.3 C 31,6 26,4.8 26.5,2.6 Z M 30,1.3 C 37,0.8 44,1.2 50,2.2 M 28.5,3.4 C 36,3 44,3.2 51,3.8 M 31,5.1 C 37,4.9 43,5.1 48,5.3" fill="none" stroke="#7a4030" stroke-width="0.35" stroke-opacity="0.45"/><g transform="matrix(0.4940,-0.0850,0.2910,0.1480,325.50,305.15)"><g clip-path="url(#uc)"><g filter="url(#f31)"><rect x="-15" y="-15" width="130" height="130" fill="#7a7a7a"/><ellipse cx="37.3" cy="49.5" rx="35" ry="8" fill="#0d0d0d"/><ellipse cx="30.0" cy="86.2" rx="35" ry="6" fill="#dbdbdb" transform="rotate(-8 30.0 86.2)"/><ellipse cx="14.7" cy="25.5" rx="28" ry="6" fill="#c2c2c2"/><ellipse cx="79.9" cy="53.5" rx="20" ry="5" fill="#262626"/><ellipse cx="63.1" cy="82.0" rx="15" ry="5" fill="#a1a1a1"/><ellipse cx="92.3" cy="81.0" rx="15" ry="5" fill="#616161"/><ellipse cx="10.1" cy="22.9" rx="12" ry="5" fill="#dbdbdb"/></g></g></g><path transform="translate(327.00,305.55)" d="M 26.5,2.6 C 28,-0.2 36,-1 42,-0.6 C 48,-0.3 52.5,1.2 52,3.2 C 51.5,5.2 45,6.6 38,6.3 C 31,6 26,4.8 26.5,2.6 Z M 30,1.3 C 37,0.8 44,1.2 50,2.2 M 28.5,3.4 C 36,3 44,3.2 51,3.8 M 31,5.1 C 37,4.9 43,5.1 48,5.3" fill="none" stroke="#7a4030" stroke-width="0.35" stroke-opacity="0.45"/><g transform="matrix(0.4940,-0.0850,0.2910,0.1480,325.50,288.20)"><g clip-path="url(#uc)"><g filter="url(#f30)"><rect x="-15" y="-15" width="130" height="130" fill="#7a7a7a"/><ellipse cx="60.8" cy="47.8" rx="48" ry="12" fill="#0d0d0d"/><ellipse cx="26.4" cy="85.4" rx="38" ry="9" fill="#dbdbdb"/><ellipse cx="13.8" cy="23.6" rx="25" ry="9" fill="#c2c2c2"/><ellipse cx="76.6" cy="86.9" rx="20" ry="6" fill="#616161"/><ellipse cx="26.7" cy="88.3" rx="18" ry="5" fill="#f5f5f5"/><ellipse cx="9.2" cy="59.1" rx="15" ry="6" fill="#a1a1a1"/><ellipse cx="37.7" cy="14.1" rx="15" ry="5" fill="#a1a1a1"/><ellipse cx="10.4" cy="18.9" rx="12" ry="6" fill="#dbdbdb"/><ellipse cx="71.6" cy="74.5" rx="12" ry="5" fill="#a1a1a1"/><ellipse cx="8.8" cy="4.3" rx="10" ry="5" fill="#616161"/><ellipse cx="77.3" cy="16.4" rx="10" ry="5" fill="#dbdbdb"/></g></g></g><path transform="translate(327.00,288.60)" d="M 26.5,2.6 C 28,-0.2 36,-1 42,-0.6 C 48,-0.3 52.5,1.2 52,3.2 C 51.5,5.2 45,6.6 38,6.3 C 31,6 26,4.8 26.5,2.6 Z M 30,1.3 C 37,0.8 44,1.2 50,2.2 M 28.5,3.4 C 36,3 44,3.2 51,3.8 M 31,5.1 C 37,4.9 43,5.1 48,5.3" fill="none" stroke="#7a4030" stroke-width="0.35" stroke-opacity="0.45"/><rect x="325.00" y="377.30" width="80.30" height="3.6" fill="url(#jet)"/><text x="363.00" y="277.90" fill="#3a3a3a" stroke="#3a3a3a" stroke-width="0.1" font-family="Liberation Sans" font-size="2.2" text-anchor="middle">21 June 2020</text><text x="323.50" y="287.80" fill="#3a3a3a" stroke="#3a3a3a" stroke-width="0.1" font-family="Liberation Sans" font-size="2.65" text-anchor="end">200hPa</text><text x="323.50" y="304.75" fill="#3a3a3a" stroke="#3a3a3a" stroke-width="0.1" font-family="Liberation Sans" font-size="2.65" text-anchor="end">300hPa</text><text x="323.50" y="321.70" fill="#3a3a3a" stroke="#3a3a3a" stroke-width="0.1" font-family="Liberation Sans" font-size="2.65" text-anchor="end">400hPa</text><text x="323.50" y="338.65" fill="#3a3a3a" stroke="#3a3a3a" stroke-width="0.1" font-family="Liberation Sans" font-size="2.65" text-anchor="end">450hPa</text><text x="323.50" y="355.60" fill="#3a3a3a" stroke="#3a3a3a" stroke-width="0.1" font-family="Liberation Sans" font-size="2.65" text-anchor="end">500hPa</text><text x="323.60" y="359.50" fill="#3a3a3a" stroke="#3a3a3a" stroke-width="0.1" font-family="Liberation Sans" font-size="2.5" text-anchor="end">43°N</text><text x="329.42" y="362.46" fill="#3a3a3a" stroke="#3a3a3a" stroke-width="0.1" font-family="Liberation Sans" font-size="2.5" text-anchor="end">39°N</text><text x="335.24" y="365.42" fill="#3a3a3a" stroke="#3a3a3a" stroke-width="0.1" font-family="Liberation Sans" font-size="2.5" text-anchor="end">35°N</text><text x="341.06" y="368.38" fill="#3a3a3a" stroke="#3a3a3a" stroke-width="0.1" font-family="Liberation Sans" font-size="2.5" text-anchor="end">31°N</text><text x="346.88" y="371.34" fill="#3a3a3a" stroke="#3a3a3a" stroke-width="0.1" font-family="Liberation Sans" font-size="2.5" text-anchor="end">27°N</text><text x="352.70" y="374.30" fill="#3a3a3a" stroke="#3a3a3a" stroke-width="0.1" font-family="Liberation Sans" font-size="2.5" text-anchor="end">23°N</text><text x="356.60" y="375.30" fill="#3a3a3a" stroke="#3a3a3a" stroke-width="0.1" font-family="Liberation Sans" font-size="2.5">70°E</text><text x="364.83" y="373.88" fill="#3a3a3a" stroke="#3a3a3a" stroke-width="0.1" font-family="Liberation Sans" font-size="2.5">75°E</text><text x="373.07" y="372.47" fill="#3a3a3a" stroke="#3a3a3a" stroke-width="0.1" font-family="Liberation Sans" font-size="2.5">80°E</text><text x="381.30" y="371.05" fill="#3a3a3a" stroke="#3a3a3a" stroke-width="0.1" font-family="Liberation Sans" font-size="2.5">85°E</text><text x="389.53" y="369.63" fill="#3a3a3a" stroke="#3a3a3a" stroke-width="0.1" font-family="Liberation Sans" font-size="2.5">90°E</text><text x="397.77" y="368.22" fill="#3a3a3a" stroke="#3a3a3a" stroke-width="0.1" font-family="Liberation Sans" font-size="2.5">95°E</text><text x="406.00" y="366.80" fill="#3a3a3a" stroke="#3a3a3a" stroke-width="0.1" font-family="Liberation Sans" font-size="2.5">100°E</text><text x="333.80" y="383.90" fill="#3a3a3a" stroke="#3a3a3a" stroke-width="0.1" font-family="Liberation Sans" font-size="2.2" text-anchor="middle">-60</text><text x="341.80" y="383.90" fill="#3a3a3a" stroke="#3a3a3a" stroke-width="0.1" font-family="Liberation Sans" font-size="2.2" text-anchor="middle">-50</text><text x="349.80" y="383.90" fill="#3a3a3a" stroke="#3a3a3a" stroke-width="0.1" font-family="Liberation Sans" font-size="2.2" text-anchor="middle">-40</text><text x="357.80" y="383.90" fill="#3a3a3a" stroke="#3a3a3a" stroke-width="0.1" font-family="Liberation Sans" font-size="2.2" text-anchor="middle">-30</text><text x="365.80" y="383.90" fill="#3a3a3a" stroke="#3a3a3a" stroke-width="0.1" font-family="Liberation Sans" font-size="2.2" text-anchor="middle">-20</text><text x="373.80" y="383.90" fill="#3a3a3a" stroke="#3a3a3a" stroke-width="0.1" font-family="Liberation Sans" font-size="2.2" text-anchor="middle">-10</text><text x="381.80" y="383.90" fill="#3a3a3a" stroke="#3a3a3a" stroke-width="0.1" font-family="Liberation Sans" font-size="2.2" text-anchor="middle">0</text><text x="389.80" y="383.90" fill="#3a3a3a" stroke="#3a3a3a" stroke-width="0.1" font-family="Liberation Sans" font-size="2.2" text-anchor="middle">10</text><text x="397.80" y="383.90" fill="#3a3a3a" stroke="#3a3a3a" stroke-width="0.1" font-family="Liberation Sans" font-size="2.2" text-anchor="middle">20</text><text x="364.70" y="388.00" fill="#3a3a3a" stroke="#3a3a3a" stroke-width="0.1" font-family="Liberation Sans" font-size="2.4" text-anchor="middle">Relative Humidity</text><text x="407.00" y="384.50" fill="#3a3a3a" stroke="#3a3a3a" stroke-width="0.1" font-family="Liberation Sans" font-size="2.4">%</text><line x1="18.00" y1="424.80" x2="18.00" y2="492.60" stroke="#c8c8c8" stroke-width="0.5"/><line x1="97.70" y1="431.10" x2="97.70" y2="498.90" stroke="#d0d0d0" stroke-width="0.5"/><g transform="matrix(0.4940,-0.0850,0.2910,0.1480,18.30,492.60)"><g clip-path="url(#uc)"><g filter="url(#f01)"><rect x="-15" y="-15" width="130" height="130" fill="#000000"/><ellipse cx="55.8" cy="46.6" rx="41" ry="15" fill="#474747"/><ellipse cx="54.2" cy="45.7" rx="23" ry="10" fill="#8f8f8f"/><ellipse cx="89.2" cy="45.4" rx="13" ry="7" fill="#808080"/><ellipse cx="53.3" cy="45.2" rx="9" ry="6" fill="#e0e0e0"/></g></g></g><path transform="translate(18.30,493.00)" d="M 26.5,2.6 C 28,-0.2 36,-1 42,-0.6 C 48,-0.3 52.5,1.2 52,3.2 C 51.5,5.2 45,6.6 38,6.3 C 31,6 26,4.8 26.5,2.6 Z M 30,1.3 C 37,0.8 44,1.2 50,2.2 M 28.5,3.4 C 36,3 44,3.2 51,3.8 M 31,5.1 C 37,4.9 43,5.1 48,5.3" fill="none" stroke="#b82070" stroke-width="0.75" stroke-opacity="0.6"/><g transform="matrix(0.4940,-0.0850,0.2910,0.1480,18.30,475.65)"><g clip-path="url(#uc)"><g filter="url(#f00)"><rect x="-15" y="-15" width="130" height="130" fill="#000000"/><ellipse cx="53.3" cy="43.8" rx="32" ry="12" fill="#404040"/><ellipse cx="51.8" cy="42.9" rx="11" ry="7" fill="#878787"/><ellipse cx="49.7" cy="43.1" rx="4" ry="5" fill="#bfbfbf"/></g></g></g><path transform="translate(18.30,476.05)" d="M 26.5,2.6 C 28,-0.2 36,-1 42,-0.6 C 48,-0.3 52.5,1.2 52,3.2 C 51.5,5.2 45,6.6 38,6.3 C 31,6 26,4.8 26.5,2.6 Z M 30,1.3 C 37,0.8 44,1.2 50,2.2 M 28.5,3.4 C 36,3 44,3.2 51,3.8 M 31,5.1 C 37,4.9 43,5.1 48,5.3" fill="none" stroke="#b82070" stroke-width="0.75" stroke-opacity="0.6"/><g transform="matrix(0.4940,-0.0850,0.2910,0.1480,18.30,458.70)"><g clip-path="url(#uc)"><g filter="url(#f02)"><rect x="-15" y="-15" width="130" height="130" fill="#000000"/><ellipse cx="44.9" cy="51.2" rx="32" ry="10" fill="#2e2e2e"/></g><g filter="url(#bo)"><ellipse cx="57.1" cy="51.3" rx="12" ry="6" fill="#b02070" fill-opacity="0.45"/></g></g></g><path transform="translate(18.30,459.10)" d="M 26.5,2.6 C 28,-0.2 36,-1 42,-0.6 C 48,-0.3 52.5,1.2 52,3.2 C 51.5,5.2 45,6.6 38,6.3 C 31,6 26,4.8 26.5,2.6 Z M 30,1.3 C 37,0.8 44,1.2 50,2.2 M 28.5,3.4 C 36,3 44,3.2 51,3.8 M 31,5.1 C 37,4.9 43,5.1 48,5.3" fill="none" stroke="#b82070" stroke-width="0.75" stroke-opacity="0.6"/><g transform="matrix(0.4940,-0.0850,0.2910,0.1480,18.30,441.75)"><g clip-path="url(#uc)"><g filter="url(#f01)"><rect x="-15" y="-15" width="130" height="130" fill="#000000"/><ellipse cx="39.5" cy="53.4" rx="32" ry="8" fill="#333333"/><ellipse cx="54.5" cy="28.0" rx="18" ry="6" fill="#262626"/></g><g filter="url(#bo)"><ellipse cx="57.7" cy="50.3" rx="12" ry="8" fill="#b02070" fill-opacity="0.45"/></g></g></g><path transform="translate(18.30,442.15)" d="M 26.5,2.6 C 28,-0.2 36,-1 42,-0.6 C 48,-0.3 52.5,1.2 52,3.2 C 51.5,5.2 45,6.6 38,6.3 C 31,6 26,4.8 26.5,2.6 Z M 30,1.3 C 37,0.8 44,1.2 50,2.2 M 28.5,3.4 C 36,3 44,3.2 51,3.8 M 31,5.1 C 37,4.9 43,5.1 48,5.3" fill="none" stroke="#b82070" stroke-width="0.75" stroke-opacity="0.6"/><g transform="matrix(0.4940,-0.0850,0.2910,0.1480,18.30,424.80)"><g clip-path="url(#uc)"><g filter="url(#f00)"><rect x="-15" y="-15" width="130" height="130" fill="#000000"/><ellipse cx="31.2" cy="43.2" rx="29" ry="8" fill="#383838" transform="rotate(-5 31.2 43.2)"/><ellipse cx="73.4" cy="30.6" rx="18" ry="7" fill="#303030"/><ellipse cx="25.4" cy="42.6" rx="10" ry="5" fill="#808080"/></g><g filter="url(#bo)"><ellipse cx="58.4" cy="56.1" rx="12" ry="8" fill="#b02070" fill-opacity="0.45"/></g></g></g><path transform="translate(18.30,425.20)" d="M 26.5,2.6 C 28,-0.2 36,-1 42,-0.6 C 48,-0.3 52.5,1.2 52,3.2 C 51.5,5.2 45,6.6 38,6.3 C 31,6 26,4.8 26.5,2.6 Z M 30,1.3 C 37,0.8 44,1.2 50,2.2 M 28.5,3.4 C 36,3 44,3.2 51,3.8 M 31,5.1 C 37,4.9 43,5.1 48,5.3" fill="none" stroke="#b82070" stroke-width="0.75" stroke-opacity="0.6"/><rect x="17.80" y="513.90" width="80.30" height="3.6" fill="url(#par)"/><text x="55.80" y="414.50" fill="#3a3a3a" stroke="#3a3a3a" stroke-width="0.1" font-family="Liberation Sans" font-size="2.2" text-anchor="middle">13 June 2020</text><text x="16.30" y="424.40" fill="#3a3a3a" stroke="#3a3a3a" stroke-width="0.1" font-family="Liberation Sans" font-size="2.65" text-anchor="end">200hPa</text><text x="16.30" y="441.35" fill="#3a3a3a" stroke="#3a3a3a" stroke-width="0.1" font-family="Liberation Sans" font-size="2.65" text-anchor="end">300hPa</text><text x="16.30" y="458.30" fill="#3a3a3a" stroke="#3a3a3a" stroke-width="0.1" font-family="Liberation Sans" font-size="2.65" text-anchor="end">400hPa</text><text x="16.30" y="475.25" fill="#3a3a3a" stroke="#3a3a3a" stroke-width="0.1" font-family="Liberation Sans" font-size="2.65" text-anchor="end">450hPa</text><text x="16.30" y="492.20" fill="#3a3a3a" stroke="#3a3a3a" stroke-width="0.1" font-family="Liberation Sans" font-size="2.65" text-anchor="end">500hPa</text><text x="16.40" y="496.10" fill="#3a3a3a" stroke="#3a3a3a" stroke-width="0.1" font-family="Liberation Sans" font-size="2.5" text-anchor="end">43°N</text><text x="22.22" y="499.06" fill="#3a3a3a" stroke="#3a3a3a" stroke-width="0.1" font-family="Liberation Sans" font-size="2.5" text-anchor="end">39°N</text><text x="28.04" y="502.02" fill="#3a3a3a" stroke="#3a3a3a" stroke-width="0.1" font-family="Liberation Sans" font-size="2.5" text-anchor="end">35°N</text><text x="33.86" y="504.98" fill="#3a3a3a" stroke="#3a3a3a" stroke-width="0.1" font-family="Liberation Sans" font-size="2.5" text-anchor="end">31°N</text><text x="39.68" y="507.94" fill="#3a3a3a" stroke="#3a3a3a" stroke-width="0.1" font-family="Liberation Sans" font-size="2.5" text-anchor="end">27°N</text><text x="45.50" y="510.90" fill="#3a3a3a" stroke="#3a3a3a" stroke-width="0.1" font-family="Liberation Sans" font-size="2.5" text-anchor="end">23°N</text><text x="49.40" y="511.90" fill="#3a3a3a" stroke="#3a3a3a" stroke-width="0.1" font-family="Liberation Sans" font-size="2.5">70°E</text><text x="57.63" y="510.48" fill="#3a3a3a" stroke="#3a3a3a" stroke-width="0.1" font-family="Liberation Sans" font-size="2.5">75°E</text><text x="65.87" y="509.07" fill="#3a3a3a" stroke="#3a3a3a" stroke-width="0.1" font-family="Liberation Sans" font-size="2.5">80°E</text><text x="74.10" y="507.65" fill="#3a3a3a" stroke="#3a3a3a" stroke-width="0.1" font-family="Liberation Sans" font-size="2.5">85°E</text><text x="82.33" y="506.23" fill="#3a3a3a" stroke="#3a3a3a" stroke-width="0.1" font-family="Liberation Sans" font-size="2.5">90°E</text><text x="90.57" y="504.82" fill="#3a3a3a" stroke="#3a3a3a" stroke-width="0.1" font-family="Liberation Sans" font-size="2.5">95°E</text><text x="98.80" y="503.40" fill="#3a3a3a" stroke="#3a3a3a" stroke-width="0.1" font-family="Liberation Sans" font-size="2.5">100°E</text><text x="21.40" y="520.50" fill="#3a3a3a" stroke="#3a3a3a" stroke-width="0.1" font-family="Liberation Sans" font-size="2.2" text-anchor="middle">4</text><text x="29.90" y="520.50" fill="#3a3a3a" stroke="#3a3a3a" stroke-width="0.1" font-family="Liberation Sans" font-size="2.2" text-anchor="middle">5</text><text x="38.40" y="520.50" fill="#3a3a3a" stroke="#3a3a3a" stroke-width="0.1" font-family="Liberation Sans" font-size="2.2" text-anchor="middle">6</text><text x="46.90" y="520.50" fill="#3a3a3a" stroke="#3a3a3a" stroke-width="0.1" font-family="Liberation Sans" font-size="2.2" text-anchor="middle">7</text><text x="55.40" y="520.50" fill="#3a3a3a" stroke="#3a3a3a" stroke-width="0.1" font-family="Liberation Sans" font-size="2.2" text-anchor="middle">8</text><text x="63.90" y="520.50" fill="#3a3a3a" stroke="#3a3a3a" stroke-width="0.1" font-family="Liberation Sans" font-size="2.2" text-anchor="middle">9</text><text x="72.40" y="520.50" fill="#3a3a3a" stroke="#3a3a3a" stroke-width="0.1" font-family="Liberation Sans" font-size="2.2" text-anchor="middle">10</text><text x="80.90" y="520.50" fill="#3a3a3a" stroke="#3a3a3a" stroke-width="0.1" font-family="Liberation Sans" font-size="2.2" text-anchor="middle">11</text><text x="89.40" y="520.50" fill="#3a3a3a" stroke="#3a3a3a" stroke-width="0.1" font-family="Liberation Sans" font-size="2.2" text-anchor="middle">12</text><text x="97.90" y="520.50" fill="#3a3a3a" stroke="#3a3a3a" stroke-width="0.1" font-family="Liberation Sans" font-size="2.2" text-anchor="middle">13</text><text x="59.10" y="524.60" fill="#3a3a3a" stroke="#3a3a3a" stroke-width="0.1" font-family="Liberation Sans" font-size="2.4" text-anchor="middle">Air Temperature</text><line x1="120.60" y1="424.80" x2="120.60" y2="492.60" stroke="#c8c8c8" stroke-width="0.5"/><line x1="200.30" y1="431.10" x2="200.30" y2="498.90" stroke="#d0d0d0" stroke-width="0.5"/><g transform="matrix(0.4940,-0.0850,0.2910,0.1480,120.90,492.60)"><g clip-path="url(#uc)"><g filter="url(#f11)"><rect x="-15" y="-15" width="130" height="130" fill="#545454"/><ellipse cx="15.1" cy="23.3" rx="38" ry="25" fill="#262626"/><ellipse cx="67.1" cy="53.1" rx="42" ry="20" fill="#5e5e5e"/><ellipse cx="16.7" cy="31.0" rx="22" ry="15" fill="#0f0f0f"/></g></g></g><path transform="translate(122.40,493.00)" d="M 26.5,2.6 C 28,-0.2 36,-1 42,-0.6 C 48,-0.3 52.5,1.2 52,3.2 C 51.5,5.2 45,6.6 38,6.3 C 31,6 26,4.8 26.5,2.6 Z M 30,1.3 C 37,0.8 44,1.2 50,2.2 M 28.5,3.4 C 36,3 44,3.2 51,3.8 M 31,5.1 C 37,4.9 43,5.1 48,5.3" fill="none" stroke="#7a4030" stroke-width="0.35" stroke-opacity="0.45"/><g transform="matrix(0.4940,-0.0850,0.2910,0.1480,120.90,475.65)"><g clip-path="url(#uc)"><g filter="url(#f10)"><rect x="-15" y="-15" width="130" height="130" fill="#5c5c5c"/><ellipse cx="12.8" cy="27.3" rx="35" ry="25" fill="#0f0f0f"/><ellipse cx="26.9" cy="51.8" rx="28" ry="20" fill="#262626"/><ellipse cx="32.8" cy="66.1" rx="20" ry="14" fill="#454545"/><ellipse cx="76.7" cy="36.8" rx="22" ry="10" fill="#707070"/></g></g></g><path transform="translate(122.40,476.05)" d="M 26.5,2.6 C 28,-0.2 36,-1 42,-0.6 C 48,-0.3 52.5,1.2 52,3.2 C 51.5,5.2 45,6.6 38,6.3 C 31,6 26,4.8 26.5,2.6 Z M 30,1.3 C 37,0.8 44,1.2 50,2.2 M 28.5,3.4 C 36,3 44,3.2 51,3.8 M 31,5.1 C 37,4.9 43,5.1 48,5.3" fill="none" stroke="#7a4030" stroke-width="0.35" stroke-opacity="0.45"/><g transform="matrix(0.4940,-0.0850,0.2910,0.1480,120.90,458.70)"><g clip-path="url(#uc)"><g filter="url(#f12)"><rect x="-15" y="-15" width="130" height="130" fill="#616161"/><ellipse cx="10.3" cy="24.5" rx="32" ry="25" fill="#0f0f0f"/><ellipse cx="22.4" cy="49.2" rx="25" ry="20" fill="#262626"/><ellipse cx="77.3" cy="35.7" rx="26" ry="12" fill="#808080"/><ellipse cx="27.1" cy="65.5" rx="18" ry="14" fill="#454545"/></g></g></g><path transform="translate(122.40,459.10)" d="M 26.5,2.6 C 28,-0.2 36,-1 42,-0.6 C 48,-0.3 52.5,1.2 52,3.2 C 51.5,5.2 45,6.6 38,6.3 C 31,6 26,4.8 26.5,2.6 Z M 30,1.3 C 37,0.8 44,1.2 50,2.2 M 28.5,3.4 C 36,3 44,3.2 51,3.8 M 31,5.1 C 37,4.9 43,5.1 48,5.3" fill="none" stroke="#7a4030" stroke-width="0.35" stroke-opacity="0.45"/><g transform="matrix(0.4940,-0.0850,0.2910,0.1480,120.90,441.75)"><g clip-path="url(#uc)"><g filter="url(#f11)"><rect x="-15" y="-15" width="130" height="130" fill="#616161"/><ellipse cx="7.9" cy="21.7" rx="28" ry="25" fill="#0f0f0f"/><ellipse cx="18.8" cy="48.4" rx="25" ry="20" fill="#262626"/><ellipse cx="76.8" cy="36.7" rx="28" ry="12" fill="#808080"/><ellipse cx="23.5" cy="64.7" rx="18" ry="15" fill="#454545"/><ellipse cx="64.3" cy="40.4" rx="16" ry="8" fill="#8f8f8f"/></g></g></g><path transform="translate(122.40,442.15)" d="M 26.5,2.6 C 28,-0.2 36,-1 42,-0.6 C 48,-0.3 52.5,1.2 52,3.2 C 51.5,5.2 45,6.6 38,6.3 C 31,6 26,4.8 26.5,2.6 Z M 30,1.3 C 37,0.8 44,1.2 50,2.2 M 28.5,3.4 C 36,3 44,3.2 51,3.8 M 31,5.1 C 37,4.9 43,5.1 48,5.3" fill="none" stroke="#7a4030" stroke-width="0.35" stroke-opacity="0.45"/><g transform="matrix(0.4940,-0.0850,0.2910,0.1480,120.90,424.80)"><g clip-path="url(#uc)"><g filter="url(#f10)"><rect x="-15" y="-15" width="130" height="130" fill="#616161"/><ellipse cx="13.3" cy="43.8" rx="25" ry="22" fill="#262626"/><ellipse cx="4.2" cy="14.0" rx="20" ry="25" fill="#0f0f0f"/><ellipse cx="74.1" cy="37.8" rx="32" ry="15" fill="#9e9e9e"/><ellipse cx="80.3" cy="55.0" rx="22" ry="18" fill="#8f8f8f"/><ellipse cx="94.7" cy="-7.7" rx="28" ry="12" fill="#d9d9d9"/><ellipse cx="15.2" cy="61.3" rx="18" ry="15" fill="#454545"/><ellipse cx="70.6" cy="19.4" rx="22" ry="10" fill="#8f8f8f"/><ellipse cx="74.1" cy="-0.4" rx="20" ry="10" fill="#bfbfbf"/></g></g></g><path transform="translate(122.40,425.20)" d="M 26.5,2.6 C 28,-0.2 36,-1 42,-0.6 C 48,-0.3 52.5,1.2 52,3.2 C 51.5,5.2 45,6.6 38,6.3 C 31,6 26,4.8 26.5,2.6 Z M 30,1.3 C 37,0.8 44,1.2 50,2.2 M 28.5,3.4 C 36,3 44,3.2 51,3.8 M 31,5.1 C 37,4.9 43,5.1 48,5.3" fill="none" stroke="#7a4030" stroke-width="0.35" stroke-opacity="0.45"/><rect x="120.40" y="513.90" width="80.30" height="3.6" fill="url(#jet)"/><text x="158.40" y="414.50" fill="#3a3a3a" stroke="#3a3a3a" stroke-width="0.1" font-family="Liberation Sans" font-size="2.2" text-anchor="middle">13 June 2020</text><text x="118.90" y="424.40" fill="#3a3a3a" stroke="#3a3a3a" stroke-width="0.1" font-family="Liberation Sans" font-size="2.65" text-anchor="end">200hPa</text><text x="118.90" y="441.35" fill="#3a3a3a" stroke="#3a3a3a" stroke-width="0.1" font-family="Liberation Sans" font-size="2.65" text-anchor="end">300hPa</text><text x="118.90" y="458.30" fill="#3a3a3a" stroke="#3a3a3a" stroke-width="0.1" font-family="Liberation Sans" font-size="2.65" text-anchor="end">400hPa</text><text x="118.90" y="475.25" fill="#3a3a3a" stroke="#3a3a3a" stroke-width="0.1" font-family="Liberation Sans" font-size="2.65" text-anchor="end">450hPa</text><text x="118.90" y="492.20" fill="#3a3a3a" stroke="#3a3a3a" stroke-width="0.1" font-family="Liberation Sans" font-size="2.65" text-anchor="end">500hPa</text><text x="119.00" y="496.10" fill="#3a3a3a" stroke="#3a3a3a" stroke-width="0.1" font-family="Liberation Sans" font-size="2.5" text-anchor="end">43°N</text><text x="124.82" y="499.06" fill="#3a3a3a" stroke="#3a3a3a" stroke-width="0.1" font-family="Liberation Sans" font-size="2.5" text-anchor="end">39°N</text><text x="130.64" y="502.02" fill="#3a3a3a" stroke="#3a3a3a" stroke-width="0.1" font-family="Liberation Sans" font-size="2.5" text-anchor="end">35°N</text><text x="136.46" y="504.98" fill="#3a3a3a" stroke="#3a3a3a" stroke-width="0.1" font-family="Liberation Sans" font-size="2.5" text-anchor="end">31°N</text><text x="142.28" y="507.94" fill="#3a3a3a" stroke="#3a3a3a" stroke-width="0.1" font-family="Liberation Sans" font-size="2.5" text-anchor="end">27°N</text><text x="148.10" y="510.90" fill="#3a3a3a" stroke="#3a3a3a" stroke-width="0.1" font-family="Liberation Sans" font-size="2.5" text-anchor="end">23°N</text><text x="152.00" y="511.90" fill="#3a3a3a" stroke="#3a3a3a" stroke-width="0.1" font-family="Liberation Sans" font-size="2.5">70°E</text><text x="160.23" y="510.48" fill="#3a3a3a" stroke="#3a3a3a" stroke-width="0.1" font-family="Liberation Sans" font-size="2.5">75°E</text><text x="168.47" y="509.07" fill="#3a3a3a" stroke="#3a3a3a" stroke-width="0.1" font-family="Liberation Sans" font-size="2.5">80°E</text><text x="176.70" y="507.65" fill="#3a3a3a" stroke="#3a3a3a" stroke-width="0.1" font-family="Liberation Sans" font-size="2.5">85°E</text><text x="184.93" y="506.23" fill="#3a3a3a" stroke="#3a3a3a" stroke-width="0.1" font-family="Liberation Sans" font-size="2.5">90°E</text><text x="193.17" y="504.82" fill="#3a3a3a" stroke="#3a3a3a" stroke-width="0.1" font-family="Liberation Sans" font-size="2.5">95°E</text><text x="201.40" y="503.40" fill="#3a3a3a" stroke="#3a3a3a" stroke-width="0.1" font-family="Liberation Sans" font-size="2.5">100°E</text><text x="135.20" y="520.50" fill="#3a3a3a" stroke="#3a3a3a" stroke-width="0.1" font-family="Liberation Sans" font-size="2.2" text-anchor="middle">-100</text><text x="151.50" y="520.50" fill="#3a3a3a" stroke="#3a3a3a" stroke-width="0.1" font-family="Liberation Sans" font-size="2.2" text-anchor="middle">-80</text><text x="167.80" y="520.50" fill="#3a3a3a" stroke="#3a3a3a" stroke-width="0.1" font-family="Liberation Sans" font-size="2.2" text-anchor="middle">-60</text><text x="184.10" y="520.50" fill="#3a3a3a" stroke="#3a3a3a" stroke-width="0.1" font-family="Liberation Sans" font-size="2.2" text-anchor="middle">-40</text><text x="200.40" y="520.50" fill="#3a3a3a" stroke="#3a3a3a" stroke-width="0.1" font-family="Liberation Sans" font-size="2.2" text-anchor="middle">-20</text><text x="160.40" y="524.60" fill="#3a3a3a" stroke="#3a3a3a" stroke-width="0.1" font-family="Liberation Sans" font-size="2.4" text-anchor="middle">Geopotential Height</text><line x1="222.90" y1="424.80" x2="222.90" y2="492.60" stroke="#c8c8c8" stroke-width="0.5"/><line x1="302.60" y1="431.10" x2="302.60" y2="498.90" stroke="#d0d0d0" stroke-width="0.5"/><g transform="matrix(0.4940,-0.0850,0.2910,0.1480,223.20,492.60)"><g clip-path="url(#uc)"><g filter="url(#f21)"><rect x="-15" y="-15" width="130" height="130" fill="#878787"/><ellipse cx="2.7" cy="43.4" rx="25" ry="8" fill="#dbdbdb"/><ellipse cx="66.3" cy="49.9" rx="25" ry="7" fill="#616161"/><ellipse cx="34.5" cy="34.4" rx="20" ry="6" fill="#a1a1a1"/><ellipse cx="51.9" cy="74.4" rx="20" ry="5" fill="#c2c2c2"/><ellipse cx="85.4" cy="80.0" rx="15" ry="5" fill="#a1a1a1"/></g></g></g><path transform="translate(224.70,493.00)" d="M 26.5,2.6 C 28,-0.2 36,-1 42,-0.6 C 48,-0.3 52.5,1.2 52,3.2 C 51.5,5.2 45,6.6 38,6.3 C 31,6 26,4.8 26.5,2.6 Z M 30,1.3 C 37,0.8 44,1.2 50,2.2 M 28.5,3.4 C 36,3 44,3.2 51,3.8 M 31,5.1 C 37,4.9 43,5.1 48,5.3" fill="none" stroke="#7a4030" stroke-width="0.35" stroke-opacity="0.45"/><g transform="matrix(0.4940,-0.0850,0.2910,0.1480,223.20,475.65)"><g clip-path="url(#uc)"><g filter="url(#f20)"><rect x="-15" y="-15" width="130" height="130" fill="#7a7a7a"/><ellipse cx="50.3" cy="28.4" rx="40" ry="10" fill="#545454"/><ellipse cx="32.2" cy="76.7" rx="45" ry="8" fill="#c2c2c2"/><ellipse cx="53.4" cy="37.0" rx="25" ry="6" fill="#262626"/><ellipse cx="29.4" cy="77.8" rx="25" ry="5" fill="#dbdbdb"/><ellipse cx="84.2" cy="82.0" rx="20" ry="6" fill="#b0b0b0"/><ellipse cx="6.4" cy="12.8" rx="15" ry="6" fill="#b0b0b0"/></g></g></g><path transform="translate(224.70,476.05)" d="M 26.5,2.6 C 28,-0.2 36,-1 42,-0.6 C 48,-0.3 52.5,1.2 52,3.2 C 51.5,5.2 45,6.6 38,6.3 C 31,6 26,4.8 26.5,2.6 Z M 30,1.3 C 37,0.8 44,1.2 50,2.2 M 28.5,3.4 C 36,3 44,3.2 51,3.8 M 31,5.1 C 37,4.9 43,5.1 48,5.3" fill="none" stroke="#7a4030" stroke-width="0.35" stroke-opacity="0.45"/><g transform="matrix(0.4940,-0.0850,0.2910,0.1480,223.20,458.70)"><g clip-path="url(#uc)"><g filter="url(#f22)"><rect x="-15" y="-15" width="130" height="130" fill="#737373"/><ellipse cx="19.3" cy="25.6" rx="40" ry="10" fill="#616161"/><ellipse cx="48.1" cy="46.2" rx="25" ry="7" fill="#262626"/><ellipse cx="66.2" cy="74.3" rx="25" ry="7" fill="#dbdbdb"/><ellipse cx="87.9" cy="89.5" rx="15" ry="5" fill="#737373"/><ellipse cx="28.6" cy="44.5" rx="12" ry="5" fill="#a1a1a1"/></g></g></g><path transform="translate(224.70,459.10)" d="M 26.5,2.6 C 28,-0.2 36,-1 42,-0.6 C 48,-0.3 52.5,1.2 52,3.2 C 51.5,5.2 45,6.6 38,6.3 C 31,6 26,4.8 26.5,2.6 Z M 30,1.3 C 37,0.8 44,1.2 50,2.2 M 28.5,3.4 C 36,3 44,3.2 51,3.8 M 31,5.1 C 37,4.9 43,5.1 48,5.3" fill="none" stroke="#7a4030" stroke-width="0.35" stroke-opacity="0.45"/><g transform="matrix(0.4940,-0.0850,0.2910,0.1480,223.20,441.75)"><g clip-path="url(#uc)"><g filter="url(#f21)"><rect x="-15" y="-15" width="130" height="130" fill="#828282"/><ellipse cx="12.0" cy="17.2" rx="25" ry="8" fill="#737373"/><ellipse cx="77.4" cy="58.8" rx="28" ry="7" fill="#dbdbdb"/><ellipse cx="30.4" cy="41.4" rx="25" ry="5" fill="#262626"/><ellipse cx="57.0" cy="93.5" rx="22" ry="5" fill="#dbdbdb"/><ellipse cx="23.5" cy="87.9" rx="15" ry="5" fill="#262626"/><ellipse cx="59.3" cy="44.4" rx="12" ry="5" fill="#a1a1a1"/><ellipse cx="87.0" cy="87.6" rx="12" ry="5" fill="#616161"/></g></g></g><path transform="translate(224.70,442.15)" d="M 26.5,2.6 C 28,-0.2 36,-1 42,-0.6 C 48,-0.3 52.5,1.2 52,3.2 C 51.5,5.2 45,6.6 38,6.3 C 31,6 26,4.8 26.5,2.6 Z M 30,1.3 C 37,0.8 44,1.2 50,2.2 M 28.5,3.4 C 36,3 44,3.2 51,3.8 M 31,5.1 C 37,4.9 43,5.1 48,5.3" fill="none" stroke="#7a4030" stroke-width="0.35" stroke-opacity="0.45"/><g transform="matrix(0.4940,-0.0850,0.2910,0.1480,223.20,424.80)"><g clip-path="url(#uc)"><g filter="url(#f20)"><rect x="-15" y="-15" width="130" height="130" fill="#7a7a7a"/><ellipse cx="40.1" cy="25.1" rx="55" ry="16" fill="#666666"/><ellipse cx="83.0" cy="77.0" rx="28" ry="9" fill="#dbdbdb"/><ellipse cx="22.6" cy="86.0" rx="35" ry="5" fill="#262626"/><ellipse cx="70.9" cy="76.9" rx="20" ry="8" fill="#c2c2c2"/><ellipse cx="40.3" cy="59.3" rx="25" ry="6" fill="#8f8f8f"/><ellipse cx="35.9" cy="32.2" rx="25" ry="5" fill="#545454"/><ellipse cx="56.0" cy="84.7" rx="12" ry="5" fill="#a1a1a1"/></g></g></g><path transform="translate(224.70,425.20)" d="M 26.5,2.6 C 28,-0.2 36,-1 42,-0.6 C 48,-0.3 52.5,1.2 52,3.2 C 51.5,5.2 45,6.6 38,6.3 C 31,6 26,4.8 26.5,2.6 Z M 30,1.3 C 37,0.8 44,1.2 50,2.2 M 28.5,3.4 C 36,3 44,3.2 51,3.8 M 31,5.1 C 37,4.9 43,5.1 48,5.3" fill="none" stroke="#7a4030" stroke-width="0.35" stroke-opacity="0.45"/><rect x="222.70" y="513.90" width="80.30" height="3.6" fill="url(#jet)"/><text x="260.70" y="414.50" fill="#3a3a3a" stroke="#3a3a3a" stroke-width="0.1" font-family="Liberation Sans" font-size="2.2" text-anchor="middle">13 June 2020</text><text x="221.20" y="424.40" fill="#3a3a3a" stroke="#3a3a3a" stroke-width="0.1" font-family="Liberation Sans" font-size="2.65" text-anchor="end">200hPa</text><text x="221.20" y="441.35" fill="#3a3a3a" stroke="#3a3a3a" stroke-width="0.1" font-family="Liberation Sans" font-size="2.65" text-anchor="end">300hPa</text><text x="221.20" y="458.30" fill="#3a3a3a" stroke="#3a3a3a" stroke-width="0.1" font-family="Liberation Sans" font-size="2.65" text-anchor="end">400hPa</text><text x="221.20" y="475.25" fill="#3a3a3a" stroke="#3a3a3a" stroke-width="0.1" font-family="Liberation Sans" font-size="2.65" text-anchor="end">450hPa</text><text x="221.20" y="492.20" fill="#3a3a3a" stroke="#3a3a3a" stroke-width="0.1" font-family="Liberation Sans" font-size="2.65" text-anchor="end">500hPa</text><text x="221.30" y="496.10" fill="#3a3a3a" stroke="#3a3a3a" stroke-width="0.1" font-family="Liberation Sans" font-size="2.5" text-anchor="end">43°N</text><text x="227.12" y="499.06" fill="#3a3a3a" stroke="#3a3a3a" stroke-width="0.1" font-family="Liberation Sans" font-size="2.5" text-anchor="end">39°N</text><text x="232.94" y="502.02" fill="#3a3a3a" stroke="#3a3a3a" stroke-width="0.1" font-family="Liberation Sans" font-size="2.5" text-anchor="end">35°N</text><text x="238.76" y="504.98" fill="#3a3a3a" stroke="#3a3a3a" stroke-width="0.1" font-family="Liberation Sans" font-size="2.5" text-anchor="end">31°N</text><text x="244.58" y="507.94" fill="#3a3a3a" stroke="#3a3a3a" stroke-width="0.1" font-family="Liberation Sans" font-size="2.5" text-anchor="end">27°N</text><text x="250.40" y="510.90" fill="#3a3a3a" stroke="#3a3a3a" stroke-width="0.1" font-family="Liberation Sans" font-size="2.5" text-anchor="end">23°N</text><text x="254.30" y="511.90" fill="#3a3a3a" stroke="#3a3a3a" stroke-width="0.1" font-family="Liberation Sans" font-size="2.5">70°E</text><text x="262.53" y="510.48" fill="#3a3a3a" stroke="#3a3a3a" stroke-width="0.1" font-family="Liberation Sans" font-size="2.5">75°E</text><text x="270.77" y="509.07" fill="#3a3a3a" stroke="#3a3a3a" stroke-width="0.1" font-family="Liberation Sans" font-size="2.5">80°E</text><text x="279.00" y="507.65" fill="#3a3a3a" stroke="#3a3a3a" stroke-width="0.1" font-family="Liberation Sans" font-size="2.5">85°E</text><text x="287.23" y="506.23" fill="#3a3a3a" stroke="#3a3a3a" stroke-width="0.1" font-family="Liberation Sans" font-size="2.5">90°E</text><text x="295.47" y="504.82" fill="#3a3a3a" stroke="#3a3a3a" stroke-width="0.1" font-family="Liberation Sans" font-size="2.5">95°E</text><text x="303.70" y="503.40" fill="#3a3a3a" stroke="#3a3a3a" stroke-width="0.1" font-family="Liberation Sans" font-size="2.5">100°E</text><text x="227.60" y="520.50" fill="#3a3a3a" stroke="#3a3a3a" stroke-width="0.1" font-family="Liberation Sans" font-size="2.2" text-anchor="middle">-10</text><text x="236.35" y="520.50" fill="#3a3a3a" stroke="#3a3a3a" stroke-width="0.1" font-family="Liberation Sans" font-size="2.2" text-anchor="middle">-8</text><text x="245.10" y="520.50" fill="#3a3a3a" stroke="#3a3a3a" stroke-width="0.1" font-family="Liberation Sans" font-size="2.2" text-anchor="middle">-6</text><text x="253.85" y="520.50" fill="#3a3a3a" stroke="#3a3a3a" stroke-width="0.1" font-family="Liberation Sans" font-size="2.2" text-anchor="middle">-4</text><text x="262.60" y="520.50" fill="#3a3a3a" stroke="#3a3a3a" stroke-width="0.1" font-family="Liberation Sans" font-size="2.2" text-anchor="middle">-2</text><text x="271.35" y="520.50" fill="#3a3a3a" stroke="#3a3a3a" stroke-width="0.1" font-family="Liberation Sans" font-size="2.2" text-anchor="middle">0</text><text x="280.10" y="520.50" fill="#3a3a3a" stroke="#3a3a3a" stroke-width="0.1" font-family="Liberation Sans" font-size="2.2" text-anchor="middle">2</text><text x="288.85" y="520.50" fill="#3a3a3a" stroke="#3a3a3a" stroke-width="0.1" font-family="Liberation Sans" font-size="2.2" text-anchor="middle">4</text><text x="297.60" y="520.50" fill="#3a3a3a" stroke="#3a3a3a" stroke-width="0.1" font-family="Liberation Sans" font-size="2.2" text-anchor="middle">6</text><text x="264.60" y="524.60" fill="#3a3a3a" stroke="#3a3a3a" stroke-width="0.1" font-family="Liberation Sans" font-size="2.4" text-anchor="middle">Ozone Mixing Ratio</text><text x="304.70" y="520.00" fill="#3a3a3a" stroke="#3a3a3a" stroke-width="0.1" font-family="Liberation Sans" font-size="2.2">mol/mol</text><text x="297.70" y="524.40" fill="#3a3a3a" stroke="#3a3a3a" stroke-width="0.1" font-family="Liberation Sans" font-size="2.2">×10<tspan dy="-1" font-size="1.6">-7</tspan></text><line x1="325.20" y1="424.80" x2="325.20" y2="492.60" stroke="#c8c8c8" stroke-width="0.5"/><line x1="404.90" y1="431.10" x2="404.90" y2="498.90" stroke="#d0d0d0" stroke-width="0.5"/><g transform="matrix(0.4940,-0.0850,0.2910,0.1480,325.50,492.60)"><g clip-path="url(#uc)"><g filter="url(#f31)"><rect x="-15" y="-15" width="130" height="130" fill="#757575"/><ellipse cx="40.6" cy="54.3" rx="30" ry="8" fill="#262626"/><ellipse cx="61.9" cy="91.1" rx="20" ry="6" fill="#c2c2c2"/><ellipse cx="16.1" cy="33.4" rx="15" ry="5" fill="#dbdbdb"/><ellipse cx="46.5" cy="30.4" rx="15" ry="5" fill="#dbdbdb"/><ellipse cx="61.5" cy="43.1" rx="15" ry="5" fill="#616161"/><ellipse cx="15.7" cy="16.8" rx="12" ry="4" fill="#a1a1a1"/></g></g></g><path transform="translate(327.00,493.00)" d="M 26.5,2.6 C 28,-0.2 36,-1 42,-0.6 C 48,-0.3 52.5,1.2 52,3.2 C 51.5,5.2 45,6.6 38,6.3 C 31,6 26,4.8 26.5,2.6 Z M 30,1.3 C 37,0.8 44,1.2 50,2.2 M 28.5,3.4 C 36,3 44,3.2 51,3.8 M 31,5.1 C 37,4.9 43,5.1 48,5.3" fill="none" stroke="#7a4030" stroke-width="0.35" stroke-opacity="0.45"/><g transform="matrix(0.4940,-0.0850,0.2910,0.1480,325.50,475.65)"><g clip-path="url(#uc)"><g filter="url(#f30)"><rect x="-15" y="-15" width="130" height="130" fill="#7a7a7a"/><ellipse cx="49.9" cy="28.2" rx="70" ry="11" fill="#dbdbdb" transform="rotate(-15 49.9 28.2)"/><ellipse cx="24.3" cy="68.1" rx="38" ry="10" fill="#0d0d0d"/><ellipse cx="83.7" cy="81.7" rx="30" ry="8" fill="#c2c2c2"/><ellipse cx="11.8" cy="13.1" rx="18" ry="5" fill="#262626"/><ellipse cx="56.3" cy="65.9" rx="12" ry="5" fill="#a1a1a1"/></g></g></g><path transform="translate(327.00,476.05)" d="M 26.5,2.6 C 28,-0.2 36,-1 42,-0.6 C 48,-0.3 52.5,1.2 52,3.2 C 51.5,5.2 45,6.6 38,6.3 C 31,6 26,4.8 26.5,2.6 Z M 30,1.3 C 37,0.8 44,1.2 50,2.2 M 28.5,3.4 C 36,3 44,3.2 51,3.8 M 31,5.1 C 37,4.9 43,5.1 48,5.3" fill="none" stroke="#7a4030" stroke-width="0.35" stroke-opacity="0.45"/><g transform="matrix(0.4940,-0.0850,0.2910,0.1480,325.50,458.70)"><g clip-path="url(#uc)"><g filter="url(#f32)"><rect x="-15" y="-15" width="130" height="130" fill="#7a7a7a"/><ellipse cx="67.6" cy="39.7" rx="70" ry="12" fill="#dbdbdb" transform="rotate(-18 67.6 39.7)"/><ellipse cx="64.3" cy="86.9" rx="30" ry="9" fill="#dbdbdb"/><ellipse cx="24.5" cy="43.5" rx="30" ry="8" fill="#0d0d0d"/><ellipse cx="9.1" cy="14.2" rx="15" ry="5" fill="#616161"/><ellipse cx="35.6" cy="66.3" rx="15" ry="5" fill="#a1a1a1"/></g></g></g><path transform="translate(327.00,459.10)" d="M 26.5,2.6 C 28,-0.2 36,-1 42,-0.6 C 48,-0.3 52.5,1.2 52,3.2 C 51.5,5.2 45,6.6 38,6.3 C 31,6 26,4.8 26.5,2.6 Z M 30,1.3 C 37,0.8 44,1.2 50,2.2 M 28.5,3.4 C 36,3 44,3.2 51,3.8 M 31,5.1 C 37,4.9 43,5.1 48,5.3" fill="none" stroke="#7a4030" stroke-width="0.35" stroke-opacity="0.45"/><g transform="matrix(0.4940,-0.0850,0.2910,0.1480,325.50,441.75)"><g clip-path="url(#uc)"><g filter="url(#f31)"><rect x="-15" y="-15" width="130" height="130" fill="#7a7a7a"/><ellipse cx="30.3" cy="89.1" rx="35" ry="10" fill="#dbdbdb"/><ellipse cx="77.7" cy="78.1" rx="35" ry="9" fill="#dbdbdb" transform="rotate(-8 77.7 78.1)"/><ellipse cx="31.6" cy="55.7" rx="38" ry="8" fill="#0d0d0d"/><ellipse cx="13.1" cy="24.7" rx="28" ry="10" fill="#c2c2c2"/><ellipse cx="10.1" cy="22.9" rx="14" ry="6" fill="#dbdbdb"/><ellipse cx="53.4" cy="77.8" rx="15" ry="5" fill="#a1a1a1"/></g></g></g><path transform="translate(327.00,442.15)" d="M 26.5,2.6 C 28,-0.2 36,-1 42,-0.6 C 48,-0.3 52.5,1.2 52,3.2 C 51.5,5.2 45,6.6 38,6.3 C 31,6 26,4.8 26.5,2.6 Z M 30,1.3 C 37,0.8 44,1.2 50,2.2 M 28.5,3.4 C 36,3 44,3.2 51,3.8 M 31,5.1 C 37,4.9 43,5.1 48,5.3" fill="none" stroke="#7a4030" stroke-width="0.35" stroke-opacity="0.45"/><g transform="matrix(0.4940,-0.0850,0.2910,0.1480,325.50,424.80)"><g clip-path="url(#uc)"><g filter="url(#f30)"><rect x="-15" y="-15" width="130" height="130" fill="#7a7a7a"/><ellipse cx="22.2" cy="92.6" rx="36" ry="12" fill="#dbdbdb"/><ellipse cx="53.8" cy="56.2" rx="40" ry="10" fill="#0d0d0d"/><ellipse cx="48.7" cy="23.2" rx="40" ry="6" fill="#dbdbdb"/><ellipse cx="3.6" cy="54.6" rx="22" ry="10" fill="#8f8f8f"/><ellipse cx="23.7" cy="93.4" rx="18" ry="8" fill="#f5f5f5"/><ellipse cx="15.2" cy="10.8" rx="20" ry="6" fill="#262626"/><ellipse cx="64.4" cy="86.8" rx="15" ry="6" fill="#c2c2c2"/><ellipse cx="85.7" cy="85.4" rx="15" ry="6" fill="#616161"/><ellipse cx="53.1" cy="5.3" rx="12" ry="4" fill="#a1a1a1"/><ellipse cx="96.7" cy="94.4" rx="8" ry="4" fill="#262626"/></g></g></g><path transform="translate(327.00,425.20)" d="M 26.5,2.6 C 28,-0.2 36,-1 42,-0.6 C 48,-0.3 52.5,1.2 52,3.2 C 51.5,5.2 45,6.6 38,6.3 C 31,6 26,4.8 26.5,2.6 Z M 30,1.3 C 37,0.8 44,1.2 50,2.2 M 28.5,3.4 C 36,3 44,3.2 51,3.8 M 31,5.1 C 37,4.9 43,5.1 48,5.3" fill="none" stroke="#7a4030" stroke-width="0.35" stroke-opacity="0.45"/><rect x="325.00" y="513.90" width="80.30" height="3.6" fill="url(#jet)"/><text x="363.00" y="414.50" fill="#3a3a3a" stroke="#3a3a3a" stroke-width="0.1" font-family="Liberation Sans" font-size="2.2" text-anchor="middle">13 June 2020</text><text x="323.50" y="424.40" fill="#3a3a3a" stroke="#3a3a3a" stroke-width="0.1" font-family="Liberation Sans" font-size="2.65" text-anchor="end">200hPa</text><text x="323.50" y="441.35" fill="#3a3a3a" stroke="#3a3a3a" stroke-width="0.1" font-family="Liberation Sans" font-size="2.65" text-anchor="end">300hPa</text><text x="323.50" y="458.30" fill="#3a3a3a" stroke="#3a3a3a" stroke-width="0.1" font-family="Liberation Sans" font-size="2.65" text-anchor="end">400hPa</text><text x="323.50" y="475.25" fill="#3a3a3a" stroke="#3a3a3a" stroke-width="0.1" font-family="Liberation Sans" font-size="2.65" text-anchor="end">450hPa</text><text x="323.50" y="492.20" fill="#3a3a3a" stroke="#3a3a3a" stroke-width="0.1" font-family="Liberation Sans" font-size="2.65" text-anchor="end">500hPa</text><text x="323.60" y="496.10" fill="#3a3a3a" stroke="#3a3a3a" stroke-width="0.1" font-family="Liberation Sans" font-size="2.5" text-anchor="end">43°N</text><text x="329.42" y="499.06" fill="#3a3a3a" stroke="#3a3a3a" stroke-width="0.1" font-family="Liberation Sans" font-size="2.5" text-anchor="end">39°N</text><text x="335.24" y="502.02" fill="#3a3a3a" stroke="#3a3a3a" stroke-width="0.1" font-family="Liberation Sans" font-size="2.5" text-anchor="end">35°N</text><text x="341.06" y="504.98" fill="#3a3a3a" stroke="#3a3a3a" stroke-width="0.1" font-family="Liberation Sans" font-size="2.5" text-anchor="end">31°N</text><text x="346.88" y="507.94" fill="#3a3a3a" stroke="#3a3a3a" stroke-width="0.1" font-family="Liberation Sans" font-size="2.5" text-anchor="end">27°N</text><text x="352.70" y="510.90" fill="#3a3a3a" stroke="#3a3a3a" stroke-width="0.1" font-family="Liberation Sans" font-size="2.5" text-anchor="end">23°N</text><text x="356.60" y="511.90" fill="#3a3a3a" stroke="#3a3a3a" stroke-width="0.1" font-family="Liberation Sans" font-size="2.5">70°E</text><text x="364.83" y="510.48" fill="#3a3a3a" stroke="#3a3a3a" stroke-width="0.1" font-family="Liberation Sans" font-size="2.5">75°E</text><text x="373.07" y="509.07" fill="#3a3a3a" stroke="#3a3a3a" stroke-width="0.1" font-family="Liberation Sans" font-size="2.5">80°E</text><text x="381.30" y="507.65" fill="#3a3a3a" stroke="#3a3a3a" stroke-width="0.1" font-family="Liberation Sans" font-size="2.5">85°E</text><text x="389.53" y="506.23" fill="#3a3a3a" stroke="#3a3a3a" stroke-width="0.1" font-family="Liberation Sans" font-size="2.5">90°E</text><text x="397.77" y="504.82" fill="#3a3a3a" stroke="#3a3a3a" stroke-width="0.1" font-family="Liberation Sans" font-size="2.5">95°E</text><text x="406.00" y="503.40" fill="#3a3a3a" stroke="#3a3a3a" stroke-width="0.1" font-family="Liberation Sans" font-size="2.5">100°E</text><text x="333.80" y="520.50" fill="#3a3a3a" stroke="#3a3a3a" stroke-width="0.1" font-family="Liberation Sans" font-size="2.2" text-anchor="middle">-60</text><text x="341.80" y="520.50" fill="#3a3a3a" stroke="#3a3a3a" stroke-width="0.1" font-family="Liberation Sans" font-size="2.2" text-anchor="middle">-50</text><text x="349.80" y="520.50" fill="#3a3a3a" stroke="#3a3a3a" stroke-width="0.1" font-family="Liberation Sans" font-size="2.2" text-anchor="middle">-40</text><text x="357.80" y="520.50" fill="#3a3a3a" stroke="#3a3a3a" stroke-width="0.1" font-family="Liberation Sans" font-size="2.2" text-anchor="middle">-30</text><text x="365.80" y="520.50" fill="#3a3a3a" stroke="#3a3a3a" stroke-width="0.1" font-family="Liberation Sans" font-size="2.2" text-anchor="middle">-20</text><text x="373.80" y="520.50" fill="#3a3a3a" stroke="#3a3a3a" stroke-width="0.1" font-family="Liberation Sans" font-size="2.2" text-anchor="middle">-10</text><text x="381.80" y="520.50" fill="#3a3a3a" stroke="#3a3a3a" stroke-width="0.1" font-family="Liberation Sans" font-size="2.2" text-anchor="middle">0</text><text x="389.80" y="520.50" fill="#3a3a3a" stroke="#3a3a3a" stroke-width="0.1" font-family="Liberation Sans" font-size="2.2" text-anchor="middle">10</text><text x="397.80" y="520.50" fill="#3a3a3a" stroke="#3a3a3a" stroke-width="0.1" font-family="Liberation Sans" font-size="2.2" text-anchor="middle">20</text><text x="364.70" y="524.60" fill="#3a3a3a" stroke="#3a3a3a" stroke-width="0.1" font-family="Liberation Sans" font-size="2.4" text-anchor="middle">Relative Humidity</text><text x="407.00" y="521.10" fill="#3a3a3a" stroke="#3a3a3a" stroke-width="0.1" font-family="Liberation Sans" font-size="2.4">%</text><text x="205.8" y="133.3" style="font-family:'Liberation Serif';font-weight:bold;font-size:7.6px" fill="#222">(c)</text><text x="205.8" y="269.5" style="font-family:'Liberation Serif';font-weight:bold;font-size:7.6px" fill="#222">(d)</text><text x="205.8" y="405.7" style="font-family:'Liberation Serif';font-weight:bold;font-size:7.6px" fill="#222">(e)</text><text x="205.8" y="543.2" style="font-family:'Liberation Serif';font-weight:bold;font-size:7.6px" fill="#222">(f)</text></svg></body></html>
